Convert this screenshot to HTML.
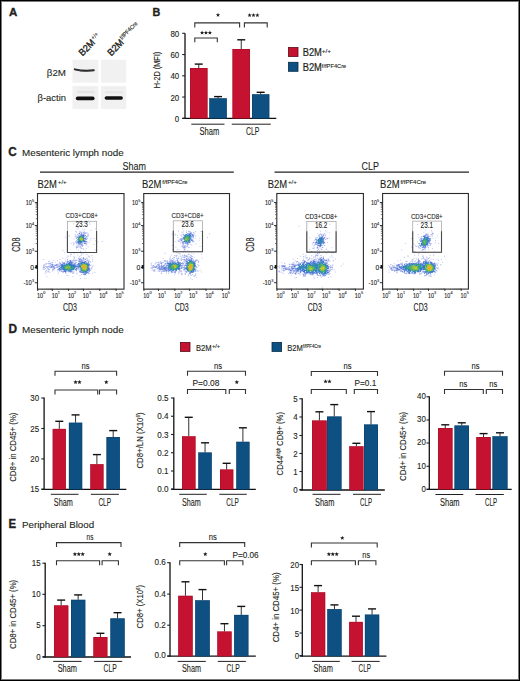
<!DOCTYPE html><html><head><meta charset="utf-8"><style>html,body{margin:0;padding:0;background:#fff;width:520px;height:681px;overflow:hidden}svg{display:block}</style></head><body><svg width="520" height="681" viewBox="0 0 520 681" font-family="Liberation Sans, sans-serif">
<rect x="0.00" y="0.00" width="520.00" height="681.00" fill="#fff"/>
<text x="9.00" y="16.00" font-size="11.5" text-anchor="start" font-weight="bold" fill="#231f20" stroke="#231f20" stroke-width="0.35">A</text>
<g transform="translate(82.4 56.5) rotate(-45)">
<text x="0.00" y="0.00" font-size="9.6" text-anchor="start" fill="#231f20" textLength="18.80" lengthAdjust="spacingAndGlyphs" stroke="#231f20" stroke-width="0.35">B2M</text>
<text x="19.30" y="-4.00" font-size="5.8" text-anchor="start" fill="#231f20" textLength="7.60" lengthAdjust="spacingAndGlyphs" stroke="#231f20" stroke-width="0.15">+/+</text>
</g>
<g transform="translate(111.2 56.4) rotate(-45)">
<text x="0.00" y="0.00" font-size="9.6" text-anchor="start" fill="#231f20" textLength="18.80" lengthAdjust="spacingAndGlyphs" stroke="#231f20" stroke-width="0.35">B2M</text>
<text x="19.30" y="-4.00" font-size="5.8" text-anchor="start" fill="#231f20" textLength="22.50" lengthAdjust="spacingAndGlyphs" stroke="#231f20" stroke-width="0.15">f/fPF4Cre</text>
</g>
<rect x="72.50" y="59.80" width="25.80" height="22.90" fill="#f1f1f1"/>
<rect x="72.50" y="85.90" width="25.80" height="23.10" fill="#f1f1f1"/>
<rect x="100.90" y="59.80" width="25.30" height="22.90" fill="#f1f1f1"/>
<rect x="100.90" y="85.90" width="25.30" height="23.10" fill="#f1f1f1"/>
<rect x="77.00" y="90.80" width="17.50" height="2.40" fill="#e4e4e4"/>
<rect x="78.00" y="87.40" width="16.00" height="1.40" fill="#eaeaea"/>
<rect x="105.00" y="91.20" width="18.00" height="2.00" fill="#e7e7e7"/>
<rect x="105.50" y="87.40" width="17.00" height="1.30" fill="#ebebeb"/>
<path d="M74.8 69.3 Q84 71.6 93.8 70.3" fill="none" stroke="#222" stroke-width="1.9" stroke-linecap="round"/>
<path d="M75.6 69.8 Q84 72.3 93.5 70.6" fill="none" stroke="#555" stroke-width="0.8" opacity="0.6"/>
<rect x="75.8" y="96.6" width="18.8" height="3.6" rx="1.8" fill="#111"/>
<rect x="104.6" y="96.2" width="18.3" height="3.6" rx="1.8" fill="#111"/>
<text x="66.00" y="75.50" font-size="9.7" text-anchor="end" fill="#231f20" textLength="19.20" lengthAdjust="spacingAndGlyphs" stroke="#231f20" stroke-width="0.1">β2M</text>
<text x="66.00" y="100.50" font-size="9.6" text-anchor="end" fill="#231f20" textLength="28.50" lengthAdjust="spacingAndGlyphs" stroke="#231f20" stroke-width="0.1">β-actin</text>
<text x="152.60" y="16.00" font-size="11.5" text-anchor="start" font-weight="bold" fill="#231f20" textLength="7.80" lengthAdjust="spacingAndGlyphs" stroke="#231f20" stroke-width="0.35">B</text>
<line x1="185.00" y1="33.30" x2="185.00" y2="118.90" stroke="#111" stroke-width="1.3"/>
<line x1="182.40" y1="118.30" x2="276.30" y2="118.30" stroke="#111" stroke-width="1.3"/>
<line x1="182.20" y1="118.30" x2="185.00" y2="118.30" stroke="#231f20" stroke-width="1.1"/>
<text x="179.20" y="121.75" font-size="8.6" text-anchor="end" fill="#231f20" textLength="4.40" lengthAdjust="spacingAndGlyphs" stroke="#231f20" stroke-width="0.12">0</text>
<line x1="182.20" y1="97.05" x2="185.00" y2="97.05" stroke="#231f20" stroke-width="1.1"/>
<text x="179.20" y="100.50" font-size="8.6" text-anchor="end" fill="#231f20" textLength="8.80" lengthAdjust="spacingAndGlyphs" stroke="#231f20" stroke-width="0.12">20</text>
<line x1="182.20" y1="75.80" x2="185.00" y2="75.80" stroke="#231f20" stroke-width="1.1"/>
<text x="179.20" y="79.25" font-size="8.6" text-anchor="end" fill="#231f20" textLength="8.80" lengthAdjust="spacingAndGlyphs" stroke="#231f20" stroke-width="0.12">40</text>
<line x1="182.20" y1="54.55" x2="185.00" y2="54.55" stroke="#231f20" stroke-width="1.1"/>
<text x="179.20" y="58.00" font-size="8.6" text-anchor="end" fill="#231f20" textLength="8.80" lengthAdjust="spacingAndGlyphs" stroke="#231f20" stroke-width="0.12">60</text>
<line x1="182.20" y1="33.30" x2="185.00" y2="33.30" stroke="#231f20" stroke-width="1.1"/>
<text x="179.20" y="36.75" font-size="8.6" text-anchor="end" fill="#231f20" textLength="8.80" lengthAdjust="spacingAndGlyphs" stroke="#231f20" stroke-width="0.12">80</text>
<rect x="190.00" y="68.00" width="17.50" height="50.30" fill="#c41230"/>
<line x1="198.75" y1="64.20" x2="198.75" y2="68.00" stroke="#333" stroke-width="1.0"/>
<line x1="194.75" y1="64.10" x2="202.75" y2="64.10" stroke="#111" stroke-width="1.4"/>
<rect x="190.30" y="68.30" width="16.90" height="50.00" fill="none" stroke="#9e0f27" stroke-width="0.6" opacity="0.7"/>
<rect x="209.30" y="98.30" width="17.50" height="20.00" fill="#0f5082"/>
<line x1="218.05" y1="96.70" x2="218.05" y2="98.30" stroke="#333" stroke-width="1.0"/>
<line x1="214.05" y1="96.60" x2="222.05" y2="96.60" stroke="#111" stroke-width="1.4"/>
<rect x="209.60" y="98.60" width="16.90" height="19.70" fill="none" stroke="#0a3d66" stroke-width="0.6" opacity="0.7"/>
<rect x="232.50" y="49.00" width="17.50" height="69.30" fill="#c41230"/>
<line x1="241.25" y1="39.90" x2="241.25" y2="49.00" stroke="#333" stroke-width="1.0"/>
<line x1="237.25" y1="39.80" x2="245.25" y2="39.80" stroke="#111" stroke-width="1.4"/>
<rect x="232.80" y="49.30" width="16.90" height="69.00" fill="none" stroke="#9e0f27" stroke-width="0.6" opacity="0.7"/>
<rect x="252.00" y="94.30" width="17.30" height="24.00" fill="#0f5082"/>
<line x1="260.65" y1="92.40" x2="260.65" y2="94.30" stroke="#333" stroke-width="1.0"/>
<line x1="256.65" y1="92.30" x2="264.65" y2="92.30" stroke="#111" stroke-width="1.4"/>
<rect x="252.30" y="94.60" width="16.70" height="23.70" fill="none" stroke="#0a3d66" stroke-width="0.6" opacity="0.7"/>
<line x1="191.30" y1="124.20" x2="224.50" y2="124.20" stroke="#231f20" stroke-width="1.0"/>
<text x="209.40" y="135.00" font-size="10" text-anchor="middle" fill="#231f20" textLength="19.80" lengthAdjust="spacingAndGlyphs" stroke="#231f20" stroke-width="0.12">Sham</text>
<line x1="231.80" y1="124.20" x2="270.80" y2="124.20" stroke="#231f20" stroke-width="1.0"/>
<text x="252.75" y="135.00" font-size="10" text-anchor="middle" fill="#231f20" textLength="13.50" lengthAdjust="spacingAndGlyphs" stroke="#231f20" stroke-width="0.12">CLP</text>
<text x="160.00" y="70.00" font-size="9.6" text-anchor="middle" fill="#231f20" textLength="36.50" lengthAdjust="spacingAndGlyphs" transform="rotate(-90 160.00 70.00)" stroke="#231f20" stroke-width="0.12">H-2D (MFI)</text>
<path d="M194.80 42.30V38.00H217.30V42.30" fill="none" stroke="#333" stroke-width="1.1"/>
<path d="M194.80 27.50V22.90H239.60V27.50" fill="none" stroke="#333" stroke-width="1.1"/>
<path d="M244.40 27.50V22.90H267.20V27.50" fill="none" stroke="#333" stroke-width="1.1"/>
<polygon points="202.10,30.60 202.68,32.00 204.19,32.12 203.04,33.11 203.39,34.58 202.10,33.79 200.81,34.58 201.16,33.11 200.01,32.12 201.52,32.00" fill="#231f20"/>
<polygon points="206.00,30.60 206.58,32.00 208.09,32.12 206.94,33.11 207.29,34.58 206.00,33.79 204.71,34.58 205.06,33.11 203.91,32.12 205.42,32.00" fill="#231f20"/>
<polygon points="209.90,30.60 210.48,32.00 211.99,32.12 210.84,33.11 211.19,34.58 209.90,33.79 208.61,34.58 208.96,33.11 207.81,32.12 209.32,32.00" fill="#231f20"/>
<polygon points="218.00,12.80 218.58,14.20 220.09,14.32 218.94,15.31 219.29,16.78 218.00,15.99 216.71,16.78 217.06,15.31 215.91,14.32 217.42,14.20" fill="#231f20"/>
<polygon points="249.60,13.10 250.18,14.50 251.69,14.62 250.54,15.61 250.89,17.08 249.60,16.29 248.31,17.08 248.66,15.61 247.51,14.62 249.02,14.50" fill="#231f20"/>
<polygon points="253.50,13.10 254.08,14.50 255.59,14.62 254.44,15.61 254.79,17.08 253.50,16.29 252.21,17.08 252.56,15.61 251.41,14.62 252.92,14.50" fill="#231f20"/>
<polygon points="257.40,13.10 257.98,14.50 259.49,14.62 258.34,15.61 258.69,17.08 257.40,16.29 256.11,17.08 256.46,15.61 255.31,14.62 256.82,14.50" fill="#231f20"/>
<rect x="288.50" y="47.50" width="9.50" height="9.00" fill="#c41230" stroke="#5a0a14" stroke-width="0.8"/>
<rect x="288.50" y="62.30" width="9.50" height="9.00" fill="#0f5082" stroke="#072a45" stroke-width="0.8"/>
<text x="302.70" y="56.30" font-size="10.2" text-anchor="start" fill="#231f20" textLength="19.20" lengthAdjust="spacingAndGlyphs" stroke="#231f20" stroke-width="0.2">B2M</text>
<text x="321.80" y="52.90" font-size="5.8" text-anchor="start" fill="#231f20" textLength="9.20" lengthAdjust="spacingAndGlyphs" stroke="#231f20" stroke-width="0.12">+/+</text>
<text x="302.70" y="70.60" font-size="10.2" text-anchor="start" fill="#231f20" textLength="19.20" lengthAdjust="spacingAndGlyphs" stroke="#231f20" stroke-width="0.2">B2M</text>
<text x="321.80" y="67.50" font-size="5.8" text-anchor="start" fill="#231f20" textLength="24.50" lengthAdjust="spacingAndGlyphs" stroke="#231f20" stroke-width="0.12">f/fPF4Cre</text>
<text x="8.30" y="155.70" font-size="12.6" text-anchor="start" font-weight="bold" fill="#231f20" textLength="8.50" lengthAdjust="spacingAndGlyphs" stroke="#231f20" stroke-width="0.35">C</text>
<text x="22.00" y="155.50" font-size="9.9" text-anchor="start" fill="#231f20" textLength="101.70" lengthAdjust="spacingAndGlyphs" stroke="#231f20" stroke-width="0.12">Mesenteric lymph node</text>
<line x1="40.00" y1="172.10" x2="233.80" y2="172.10" stroke="#222" stroke-width="1.1"/>
<line x1="274.50" y1="172.10" x2="469.00" y2="172.10" stroke="#222" stroke-width="1.1"/>
<text x="134.20" y="170.00" font-size="10" text-anchor="middle" fill="#231f20" textLength="23.50" lengthAdjust="spacingAndGlyphs" stroke="#231f20" stroke-width="0.1">Sham</text>
<text x="370.20" y="170.20" font-size="10" text-anchor="middle" fill="#231f20" textLength="17.40" lengthAdjust="spacingAndGlyphs" stroke="#231f20" stroke-width="0.1">CLP</text>
<text x="37.50" y="188.20" font-size="10.5" text-anchor="start" fill="#231f20" textLength="19.40" lengthAdjust="spacingAndGlyphs" stroke="#231f20" stroke-width="0.12">B2M</text>
<text x="57.80" y="184.40" font-size="5.6" text-anchor="start" fill="#231f20" textLength="8.90" lengthAdjust="spacingAndGlyphs" stroke="#231f20" stroke-width="0.12">+/+</text>
<text x="142.00" y="188.20" font-size="10.5" text-anchor="start" fill="#231f20" textLength="19.40" lengthAdjust="spacingAndGlyphs" stroke="#231f20" stroke-width="0.12">B2M</text>
<text x="162.30" y="184.40" font-size="5.6" text-anchor="start" fill="#231f20" textLength="25.30" lengthAdjust="spacingAndGlyphs" stroke="#231f20" stroke-width="0.12">f/fPF4Cre</text>
<text x="267.70" y="188.20" font-size="10.5" text-anchor="start" fill="#231f20" textLength="19.40" lengthAdjust="spacingAndGlyphs" stroke="#231f20" stroke-width="0.12">B2M</text>
<text x="288.00" y="184.40" font-size="5.6" text-anchor="start" fill="#231f20" textLength="8.90" lengthAdjust="spacingAndGlyphs" stroke="#231f20" stroke-width="0.12">+/+</text>
<text x="380.10" y="188.20" font-size="10.5" text-anchor="start" fill="#231f20" textLength="19.40" lengthAdjust="spacingAndGlyphs" stroke="#231f20" stroke-width="0.12">B2M</text>
<text x="400.40" y="184.40" font-size="5.6" text-anchor="start" fill="#231f20" textLength="25.80" lengthAdjust="spacingAndGlyphs" stroke="#231f20" stroke-width="0.12">f/fPF4Cre</text>
<rect x="37.50" y="193.55" width="86.50" height="95.60" fill="#fff" stroke="#2a2a2a" stroke-width="1.1"/>
<line x1="34.80" y1="202.60" x2="37.50" y2="202.60" stroke="#2a2a2a" stroke-width="1.0"/>
<text x="31.80" y="204.90" font-size="6.6" text-anchor="end" fill="#222" textLength="6.00" lengthAdjust="spacingAndGlyphs" stroke="#222" stroke-width="0.12">10</text>
<text x="32.00" y="202.20" font-size="3.8" text-anchor="start" fill="#333" stroke="#333" stroke-width="0.12">5</text>
<line x1="34.80" y1="225.60" x2="37.50" y2="225.60" stroke="#2a2a2a" stroke-width="1.0"/>
<text x="31.80" y="227.90" font-size="6.6" text-anchor="end" fill="#222" textLength="6.00" lengthAdjust="spacingAndGlyphs" stroke="#222" stroke-width="0.12">10</text>
<text x="32.00" y="225.20" font-size="3.8" text-anchor="start" fill="#333" stroke="#333" stroke-width="0.12">4</text>
<line x1="34.80" y1="251.25" x2="37.50" y2="251.25" stroke="#2a2a2a" stroke-width="1.0"/>
<text x="31.80" y="253.55" font-size="6.6" text-anchor="end" fill="#222" textLength="6.00" lengthAdjust="spacingAndGlyphs" stroke="#222" stroke-width="0.12">10</text>
<text x="32.00" y="250.85" font-size="3.8" text-anchor="start" fill="#333" stroke="#333" stroke-width="0.12">3</text>
<line x1="34.80" y1="267.50" x2="37.50" y2="267.50" stroke="#2a2a2a" stroke-width="1.0"/>
<text x="34.10" y="269.80" font-size="6.8" text-anchor="end" fill="#222" stroke="#222" stroke-width="0.12">0</text>
<rect x="35.40" y="265.10" width="2.00" height="3.60" fill="#111"/>
<line x1="34.80" y1="282.75" x2="37.50" y2="282.75" stroke="#2a2a2a" stroke-width="1.0"/>
<text x="31.80" y="285.05" font-size="6.6" text-anchor="end" fill="#222" textLength="8.40" lengthAdjust="spacingAndGlyphs" stroke="#222" stroke-width="0.12">-10</text>
<text x="32.00" y="282.35" font-size="3.8" text-anchor="start" fill="#333" stroke="#333" stroke-width="0.12">3</text>
<line x1="35.70" y1="218.68" x2="37.50" y2="218.68" stroke="#444" stroke-width="0.7"/>
<line x1="35.70" y1="214.63" x2="37.50" y2="214.63" stroke="#444" stroke-width="0.7"/>
<line x1="35.70" y1="211.75" x2="37.50" y2="211.75" stroke="#444" stroke-width="0.7"/>
<line x1="35.70" y1="209.52" x2="37.50" y2="209.52" stroke="#444" stroke-width="0.7"/>
<line x1="35.70" y1="207.70" x2="37.50" y2="207.70" stroke="#444" stroke-width="0.7"/>
<line x1="35.70" y1="206.16" x2="37.50" y2="206.16" stroke="#444" stroke-width="0.7"/>
<line x1="35.70" y1="204.83" x2="37.50" y2="204.83" stroke="#444" stroke-width="0.7"/>
<line x1="35.70" y1="203.65" x2="37.50" y2="203.65" stroke="#444" stroke-width="0.7"/>
<line x1="35.70" y1="243.53" x2="37.50" y2="243.53" stroke="#444" stroke-width="0.7"/>
<line x1="35.70" y1="239.01" x2="37.50" y2="239.01" stroke="#444" stroke-width="0.7"/>
<line x1="35.70" y1="235.81" x2="37.50" y2="235.81" stroke="#444" stroke-width="0.7"/>
<line x1="35.70" y1="233.32" x2="37.50" y2="233.32" stroke="#444" stroke-width="0.7"/>
<line x1="35.70" y1="231.29" x2="37.50" y2="231.29" stroke="#444" stroke-width="0.7"/>
<line x1="35.70" y1="229.57" x2="37.50" y2="229.57" stroke="#444" stroke-width="0.7"/>
<line x1="35.70" y1="228.09" x2="37.50" y2="228.09" stroke="#444" stroke-width="0.7"/>
<line x1="35.70" y1="226.77" x2="37.50" y2="226.77" stroke="#444" stroke-width="0.7"/>
<line x1="37.70" y1="288.75" x2="37.70" y2="290.95" stroke="#2a2a2a" stroke-width="1.0"/>
<text x="37.10" y="297.55" font-size="6.6" text-anchor="start" fill="#222" textLength="6.00" lengthAdjust="spacingAndGlyphs" stroke="#222" stroke-width="0.12">10</text>
<text x="43.20" y="294.35" font-size="3.8" text-anchor="start" fill="#333" stroke="#333" stroke-width="0.12">0</text>
<line x1="42.10" y1="288.75" x2="42.10" y2="290.05" stroke="#555" stroke-width="0.6"/>
<line x1="44.67" y1="288.75" x2="44.67" y2="290.05" stroke="#555" stroke-width="0.6"/>
<line x1="46.49" y1="288.75" x2="46.49" y2="290.05" stroke="#555" stroke-width="0.6"/>
<line x1="47.90" y1="288.75" x2="47.90" y2="290.05" stroke="#555" stroke-width="0.6"/>
<line x1="49.06" y1="288.75" x2="49.06" y2="290.05" stroke="#555" stroke-width="0.6"/>
<line x1="50.04" y1="288.75" x2="50.04" y2="290.05" stroke="#555" stroke-width="0.6"/>
<line x1="50.89" y1="288.75" x2="50.89" y2="290.05" stroke="#555" stroke-width="0.6"/>
<line x1="51.63" y1="288.75" x2="51.63" y2="290.05" stroke="#555" stroke-width="0.6"/>
<line x1="52.30" y1="288.75" x2="52.30" y2="290.95" stroke="#2a2a2a" stroke-width="1.0"/>
<text x="51.70" y="297.55" font-size="6.6" text-anchor="start" fill="#222" textLength="6.00" lengthAdjust="spacingAndGlyphs" stroke="#222" stroke-width="0.12">10</text>
<text x="57.80" y="294.35" font-size="3.8" text-anchor="start" fill="#333" stroke="#333" stroke-width="0.12">1</text>
<line x1="57.21" y1="288.75" x2="57.21" y2="290.05" stroke="#555" stroke-width="0.6"/>
<line x1="60.08" y1="288.75" x2="60.08" y2="290.05" stroke="#555" stroke-width="0.6"/>
<line x1="62.11" y1="288.75" x2="62.11" y2="290.05" stroke="#555" stroke-width="0.6"/>
<line x1="63.69" y1="288.75" x2="63.69" y2="290.05" stroke="#555" stroke-width="0.6"/>
<line x1="64.98" y1="288.75" x2="64.98" y2="290.05" stroke="#555" stroke-width="0.6"/>
<line x1="66.08" y1="288.75" x2="66.08" y2="290.05" stroke="#555" stroke-width="0.6"/>
<line x1="67.02" y1="288.75" x2="67.02" y2="290.05" stroke="#555" stroke-width="0.6"/>
<line x1="67.85" y1="288.75" x2="67.85" y2="290.05" stroke="#555" stroke-width="0.6"/>
<line x1="68.60" y1="288.75" x2="68.60" y2="290.95" stroke="#2a2a2a" stroke-width="1.0"/>
<text x="68.00" y="297.55" font-size="6.6" text-anchor="start" fill="#222" textLength="6.00" lengthAdjust="spacingAndGlyphs" stroke="#222" stroke-width="0.12">10</text>
<text x="74.10" y="294.35" font-size="3.8" text-anchor="start" fill="#333" stroke="#333" stroke-width="0.12">2</text>
<line x1="73.06" y1="288.75" x2="73.06" y2="290.05" stroke="#555" stroke-width="0.6"/>
<line x1="75.66" y1="288.75" x2="75.66" y2="290.05" stroke="#555" stroke-width="0.6"/>
<line x1="77.51" y1="288.75" x2="77.51" y2="290.05" stroke="#555" stroke-width="0.6"/>
<line x1="78.94" y1="288.75" x2="78.94" y2="290.05" stroke="#555" stroke-width="0.6"/>
<line x1="80.12" y1="288.75" x2="80.12" y2="290.05" stroke="#555" stroke-width="0.6"/>
<line x1="81.11" y1="288.75" x2="81.11" y2="290.05" stroke="#555" stroke-width="0.6"/>
<line x1="81.97" y1="288.75" x2="81.97" y2="290.05" stroke="#555" stroke-width="0.6"/>
<line x1="82.72" y1="288.75" x2="82.72" y2="290.05" stroke="#555" stroke-width="0.6"/>
<line x1="83.40" y1="288.75" x2="83.40" y2="290.95" stroke="#2a2a2a" stroke-width="1.0"/>
<text x="82.80" y="297.55" font-size="6.6" text-anchor="start" fill="#222" textLength="6.00" lengthAdjust="spacingAndGlyphs" stroke="#222" stroke-width="0.12">10</text>
<text x="88.90" y="294.35" font-size="3.8" text-anchor="start" fill="#333" stroke="#333" stroke-width="0.12">3</text>
<line x1="88.34" y1="288.75" x2="88.34" y2="290.05" stroke="#555" stroke-width="0.6"/>
<line x1="91.22" y1="288.75" x2="91.22" y2="290.05" stroke="#555" stroke-width="0.6"/>
<line x1="93.27" y1="288.75" x2="93.27" y2="290.05" stroke="#555" stroke-width="0.6"/>
<line x1="94.86" y1="288.75" x2="94.86" y2="290.05" stroke="#555" stroke-width="0.6"/>
<line x1="96.16" y1="288.75" x2="96.16" y2="290.05" stroke="#555" stroke-width="0.6"/>
<line x1="97.26" y1="288.75" x2="97.26" y2="290.05" stroke="#555" stroke-width="0.6"/>
<line x1="98.21" y1="288.75" x2="98.21" y2="290.05" stroke="#555" stroke-width="0.6"/>
<line x1="99.05" y1="288.75" x2="99.05" y2="290.05" stroke="#555" stroke-width="0.6"/>
<line x1="99.80" y1="288.75" x2="99.80" y2="290.95" stroke="#2a2a2a" stroke-width="1.0"/>
<text x="99.20" y="297.55" font-size="6.6" text-anchor="start" fill="#222" textLength="6.00" lengthAdjust="spacingAndGlyphs" stroke="#222" stroke-width="0.12">10</text>
<text x="105.30" y="294.35" font-size="3.8" text-anchor="start" fill="#333" stroke="#333" stroke-width="0.12">4</text>
<line x1="104.71" y1="288.75" x2="104.71" y2="290.05" stroke="#555" stroke-width="0.6"/>
<line x1="107.58" y1="288.75" x2="107.58" y2="290.05" stroke="#555" stroke-width="0.6"/>
<line x1="109.61" y1="288.75" x2="109.61" y2="290.05" stroke="#555" stroke-width="0.6"/>
<line x1="111.19" y1="288.75" x2="111.19" y2="290.05" stroke="#555" stroke-width="0.6"/>
<line x1="112.48" y1="288.75" x2="112.48" y2="290.05" stroke="#555" stroke-width="0.6"/>
<line x1="113.58" y1="288.75" x2="113.58" y2="290.05" stroke="#555" stroke-width="0.6"/>
<line x1="114.52" y1="288.75" x2="114.52" y2="290.05" stroke="#555" stroke-width="0.6"/>
<line x1="115.35" y1="288.75" x2="115.35" y2="290.05" stroke="#555" stroke-width="0.6"/>
<line x1="116.10" y1="288.75" x2="116.10" y2="290.95" stroke="#2a2a2a" stroke-width="1.0"/>
<text x="115.50" y="297.55" font-size="6.6" text-anchor="start" fill="#222" textLength="6.00" lengthAdjust="spacingAndGlyphs" stroke="#222" stroke-width="0.12">10</text>
<text x="121.60" y="294.35" font-size="3.8" text-anchor="start" fill="#333" stroke="#333" stroke-width="0.12">5</text>
<text x="70.00" y="311.35" font-size="10.3" text-anchor="middle" fill="#222" textLength="14.00" lengthAdjust="spacingAndGlyphs" stroke="#222" stroke-width="0.12">CD3</text>
<text x="20.00" y="244.75" font-size="10.8" text-anchor="middle" fill="#222" textLength="14.20" lengthAdjust="spacingAndGlyphs" transform="rotate(-90 20.00 244.75)" stroke="#222" stroke-width="0.12">CD8</text>
<path d="M80.1 278.0h1v1h-1zM77.4 222.7h1v1h-1zM42.7 258.9h1v1h-1zM94.9 228.5h1v1h-1zM62.3 250.3h1v1h-1zM62.3 257.7h1v1h-1zM64.9 236.7h1v1h-1zM92.1 260.8h1v1h-1zM101.8 240.9h1v1h-1zM94.7 249.3h1v1h-1zM63.9 252.4h1v1h-1zM73.2 223.3h1v1h-1zM95.2 240.2h1v1h-1zM72.3 276.1h1v1h-1zM89.2 223.7h1v1h-1zM93.7 238.1h1v1h-1zM92.2 272.8h1v1h-1zM92.1 259.3h1v1h-1zM92.2 257.6h1v1h-1zM88.7 241.9h1v1h-1zM91.5 254.9h1v1h-1zM97.4 241.4h1v1h-1zM83.6 222.6h1v1h-1zM93.5 243.9h1v1h-1zM79.8 225.8h1v1h-1zM90.5 229.8h1v1h-1zM77.4 254.5h1v1h-1zM87.6 246.3h1v1h-1zM59.6 259.1h1v1h-1zM84.8 250.4h1v1h-1zM84.4 278.1h1v1h-1zM57.0 260.1h1v1h-1zM46.4 276.3h1v1h-1zM85.8 248.1h1v1h-1zM66.2 274.9h1v1h-1zM52.6 260.0h1v1h-1zM90.5 237.8h1v1h-1zM70.6 243.0h1v1h-1zM67.4 274.9h1v1h-1zM70.0 253.4h1v1h-1zM86.2 223.0h1v1h-1zM88.9 222.2h1v1h-1zM94.4 272.0h1v1h-1zM73.3 252.4h1v1h-1zM68.7 235.8h1v1h-1zM71.0 254.0h1v1h-1zM57.6 273.4h1v1h-1zM78.1 228.5h1v1h-1zM79.9 251.7h1v1h-1zM82.8 253.6h1v1h-1zM80.3 252.6h1v1h-1zM84.2 228.9h1v1h-1zM66.2 257.2h1v1h-1zM86.3 254.1h1v1h-1zM54.7 261.7h1v1h-1zM77.9 249.5h1v1h-1zM76.4 228.3h1v1h-1zM49.2 271.9h1v1h-1zM73.3 256.1h1v1h-1zM89.8 239.4h1v1h-1zM68.6 235.2h1v1h-1zM80.6 255.0h1v1h-1zM82.5 229.6h1v1h-1zM76.3 273.5h1v1h-1zM73.8 252.7h1v1h-1zM72.7 242.3h1v1h-1zM73.3 238.4h1v1h-1zM81.1 248.0h1v1h-1zM44.8 273.3h1v1h-1zM45.5 271.9h1v1h-1zM67.1 255.4h1v1h-1zM85.6 244.8h1v1h-1zM88.7 259.5h1v1h-1zM92.5 265.3h1v1h-1zM68.7 235.6h1v1h-1zM79.4 275.3h1v1h-1zM48.5 261.2h1v1h-1zM75.9 248.2h1v1h-1zM80.0 250.7h1v1h-1zM83.1 248.9h1v1h-1zM67.8 255.7h1v1h-1zM76.5 272.6h1v1h-1zM58.0 271.8h1v1h-1zM86.9 232.4h1v1h-1zM89.0 273.0h1v1h-1zM70.0 255.4h1v1h-1zM73.7 243.2h1v1h-1zM81.0 253.6h1v1h-1zM64.8 259.4h1v1h-1zM88.7 256.7h1v1h-1zM88.7 255.7h1v1h-1zM87.7 255.5h1v1h-1zM87.1 241.6h1v1h-1zM86.3 257.6h1v1h-1zM91.7 266.2h1v1h-1zM75.8 232.2h1v1h-1zM42.6 269.1h1v1h-1zM74.6 234.0h1v1h-1zM88.1 235.5h1v1h-1zM82.6 247.9h1v1h-1zM75.5 246.6h1v1h-1zM45.8 263.6h1v1h-1zM74.0 257.0h1v1h-1zM90.2 261.9h1v1h-1zM90.6 264.5h1v1h-1zM79.2 256.1h1v1h-1zM81.1 274.0h1v1h-1zM61.6 261.1h1v1h-1zM48.5 269.6h1v1h-1zM87.0 237.9h1v1h-1zM50.5 261.7h1v1h-1zM73.2 243.2h1v1h-1zM72.9 259.6h1v1h-1z" fill="rgb(138, 154, 231)" opacity="0.55"/>
<path d="M45.2 270.9h1v1h-1zM82.0 245.8h1v1h-1zM79.0 231.5h1v1h-1zM87.6 233.8h1v1h-1zM46.1 269.9h1v1h-1zM91.6 267.3h1v1h-1zM45.4 263.2h1v1h-1zM59.1 261.7h1v1h-1zM81.5 231.7h1v1h-1zM77.5 227.0h1v1h-1zM91.0 268.6h1v1h-1zM77.2 246.9h1v1h-1zM47.5 271.3h1v1h-1zM51.9 270.5h1v1h-1zM67.1 259.0h1v1h-1zM43.4 264.6h1v1h-1zM72.9 272.7h1v1h-1zM87.1 235.5h1v1h-1zM46.9 268.4h1v1h-1zM88.1 273.2h1v1h-1zM67.0 259.5h1v1h-1zM73.6 257.7h1v1h-1zM90.1 270.0h1v1h-1zM75.4 231.1h1v1h-1zM73.3 244.5h1v1h-1zM77.6 245.9h1v1h-1zM48.1 269.0h1v1h-1zM85.4 231.9h1v1h-1zM84.1 231.6h1v1h-1zM74.8 235.8h1v1h-1zM44.3 264.2h1v1h-1zM51.5 263.6h1v1h-1zM86.7 258.5h1v1h-1zM52.0 268.8h1v1h-1zM43.7 268.9h1v1h-1zM80.8 257.4h1v1h-1zM80.1 231.4h1v1h-1zM83.0 257.0h1v1h-1zM44.9 268.1h1v1h-1zM74.5 259.5h1v1h-1zM91.5 267.2h1v1h-1zM80.9 247.5h1v1h-1zM76.1 247.1h1v1h-1zM73.5 259.7h1v1h-1zM75.5 260.0h1v1h-1zM47.4 263.0h1v1h-1zM80.4 232.1h1v1h-1zM72.4 272.6h1v1h-1zM79.7 247.2h1v1h-1zM48.5 260.8h1v1h-1zM77.9 258.6h1v1h-1zM84.8 233.3h1v1h-1zM47.4 271.3h1v1h-1zM89.4 261.1h1v1h-1zM82.4 245.1h1v1h-1zM86.2 243.4h1v1h-1zM75.5 236.7h1v1h-1zM43.2 266.5h1v1h-1zM48.5 263.6h1v1h-1zM51.9 262.0h1v1h-1zM50.3 263.5h1v1h-1zM78.4 257.6h1v1h-1zM74.7 235.4h1v1h-1zM57.2 267.0h1v1h-1zM76.0 243.2h1v1h-1zM73.7 260.6h1v1h-1zM76.4 245.7h1v1h-1zM53.5 269.3h1v1h-1zM83.7 231.4h1v1h-1zM65.5 272.7h1v1h-1zM54.4 268.0h1v1h-1zM72.1 272.5h1v1h-1zM88.3 260.4h1v1h-1zM86.5 236.8h1v1h-1zM87.7 234.3h1v1h-1zM49.3 268.8h1v1h-1zM53.4 269.4h1v1h-1zM86.3 235.9h1v1h-1zM76.4 259.7h1v1h-1zM86.0 239.0h1v1h-1zM75.9 238.1h1v1h-1zM48.3 266.1h1v1h-1zM60.7 271.0h1v1h-1zM43.2 267.2h1v1h-1zM49.4 266.9h1v1h-1zM77.0 233.7h1v1h-1zM85.8 236.2h1v1h-1zM46.5 266.6h1v1h-1zM52.5 269.2h1v1h-1zM75.3 260.4h1v1h-1zM87.0 259.8h1v1h-1zM75.3 262.1h1v1h-1zM57.2 270.2h1v1h-1zM52.6 268.5h1v1h-1zM79.3 246.3h1v1h-1zM48.3 270.7h1v1h-1zM76.1 270.2h1v1h-1zM48.7 263.1h1v1h-1zM62.2 262.1h1v1h-1zM46.3 266.2h1v1h-1zM88.0 261.5h1v1h-1zM71.1 260.7h1v1h-1zM54.7 264.7h1v1h-1zM85.3 258.4h1v1h-1zM75.0 241.4h1v1h-1zM65.4 260.9h1v1h-1zM86.0 260.4h1v1h-1zM65.3 272.0h1v1h-1zM43.3 265.8h1v1h-1zM81.1 245.1h1v1h-1zM46.4 266.2h1v1h-1zM70.3 260.2h1v1h-1zM79.9 245.9h1v1h-1zM80.1 243.8h1v1h-1zM80.5 245.4h1v1h-1zM79.6 258.3h1v1h-1zM42.7 267.5h1v1h-1zM62.0 271.5h1v1h-1zM89.1 264.5h1v1h-1zM83.4 258.7h1v1h-1zM84.4 243.0h1v1h-1zM82.6 258.3h1v1h-1zM59.3 270.3h1v1h-1zM85.3 233.0h1v1h-1zM75.9 262.0h1v1h-1zM57.6 263.4h1v1h-1zM59.3 270.1h1v1h-1zM81.4 245.1h1v1h-1zM44.0 266.8h1v1h-1zM81.4 233.1h1v1h-1zM65.5 260.9h1v1h-1zM75.3 269.6h1v1h-1zM45.1 265.8h1v1h-1zM77.3 244.6h1v1h-1zM81.1 244.0h1v1h-1zM74.9 241.6h1v1h-1zM50.7 266.8h1v1h-1zM75.6 240.9h1v1h-1zM76.2 235.8h1v1h-1zM73.8 262.5h1v1h-1zM87.3 260.6h1v1h-1zM83.1 232.0h1v1h-1zM62.1 271.0h1v1h-1zM79.0 259.3h1v1h-1zM75.0 263.5h1v1h-1zM76.1 269.1h1v1h-1zM76.2 269.7h1v1h-1zM78.5 233.7h1v1h-1zM43.4 265.6h1v1h-1zM55.7 267.0h1v1h-1zM61.2 270.9h1v1h-1zM60.1 262.6h1v1h-1zM48.7 265.3h1v1h-1zM73.4 262.5h1v1h-1zM72.5 260.7h1v1h-1zM88.2 263.1h1v1h-1zM60.8 263.4h1v1h-1zM75.9 242.0h1v1h-1zM43.8 267.0h1v1h-1zM47.8 267.7h1v1h-1zM71.7 259.9h1v1h-1zM47.4 266.4h1v1h-1zM73.7 271.6h1v1h-1zM54.4 267.4h1v1h-1zM78.3 258.6h1v1h-1zM75.5 241.6h1v1h-1zM53.5 264.5h1v1h-1zM49.7 263.1h1v1h-1zM83.5 258.1h1v1h-1zM56.6 266.5h1v1h-1zM78.7 233.0h1v1h-1zM83.9 274.3h1v1h-1zM53.1 264.5h1v1h-1zM82.4 258.3h1v1h-1zM85.8 241.1h1v1h-1zM83.0 274.1h1v1h-1zM56.0 264.0h1v1h-1zM54.2 265.5h1v1h-1zM70.5 271.9h1v1h-1zM49.2 265.7h1v1h-1zM82.3 243.6h1v1h-1z" fill="rgb(112, 133, 224)" opacity="0.64"/>
<path d="M85.5 241.2h1v1h-1zM57.4 266.6h1v1h-1zM86.3 273.1h1v1h-1zM83.4 232.7h1v1h-1zM59.2 263.4h1v1h-1zM75.7 269.6h1v1h-1zM77.7 235.4h1v1h-1zM53.1 265.7h1v1h-1zM78.2 260.6h1v1h-1zM82.2 260.3h1v1h-1zM54.0 267.7h1v1h-1zM81.2 259.4h1v1h-1zM79.6 270.9h1v1h-1zM63.1 271.4h1v1h-1zM57.4 269.1h1v1h-1zM56.1 265.3h1v1h-1zM79.0 233.1h1v1h-1zM77.5 235.5h1v1h-1zM52.6 266.6h1v1h-1zM88.5 270.5h1v1h-1zM81.4 259.7h1v1h-1zM79.8 258.7h1v1h-1zM80.6 233.6h1v1h-1zM78.8 268.6h1v1h-1zM87.1 271.9h1v1h-1zM89.4 265.1h1v1h-1zM76.5 267.7h1v1h-1zM85.6 243.3h1v1h-1zM57.1 264.4h1v1h-1zM84.7 243.0h1v1h-1zM78.5 263.0h1v1h-1zM79.2 271.6h1v1h-1zM84.8 259.0h1v1h-1zM85.0 241.4h1v1h-1zM83.0 257.8h1v1h-1zM60.5 269.7h1v1h-1zM59.8 263.3h1v1h-1zM88.0 271.8h1v1h-1zM51.2 265.7h1v1h-1zM80.9 259.2h1v1h-1zM89.3 268.6h1v1h-1zM85.2 238.1h1v1h-1zM59.1 270.3h1v1h-1zM80.5 271.9h1v1h-1zM68.2 261.1h1v1h-1zM60.1 269.3h1v1h-1zM56.4 264.5h1v1h-1zM77.2 268.2h1v1h-1zM77.3 263.7h1v1h-1zM81.7 243.7h1v1h-1zM84.6 243.0h1v1h-1zM58.0 269.1h1v1h-1zM57.4 264.3h1v1h-1zM78.5 244.4h1v1h-1zM70.9 261.5h1v1h-1zM85.0 273.6h1v1h-1zM83.9 232.8h1v1h-1zM59.4 263.6h1v1h-1zM80.4 259.1h1v1h-1zM75.1 263.2h1v1h-1zM82.6 234.6h1v1h-1zM85.6 240.9h1v1h-1zM50.7 266.3h1v1h-1zM51.2 266.7h1v1h-1zM56.1 265.0h1v1h-1zM58.4 266.0h1v1h-1zM54.8 264.8h1v1h-1zM70.0 260.1h1v1h-1zM85.4 238.8h1v1h-1zM70.0 271.0h1v1h-1zM54.9 264.8h1v1h-1zM80.5 243.5h1v1h-1zM84.8 274.2h1v1h-1zM77.3 242.1h1v1h-1zM53.4 267.8h1v1h-1zM53.8 267.2h1v1h-1zM50.7 266.5h1v1h-1zM79.8 260.4h1v1h-1zM76.8 236.9h1v1h-1zM83.6 234.4h1v1h-1zM81.8 271.8h1v1h-1zM82.5 234.2h1v1h-1zM78.5 269.8h1v1h-1zM81.1 233.5h1v1h-1zM85.1 261.4h1v1h-1zM46.5 266.7h1v1h-1zM88.3 269.8h1v1h-1zM67.4 262.6h1v1h-1zM79.1 270.9h1v1h-1zM89.5 268.6h1v1h-1zM78.0 262.7h1v1h-1zM84.3 273.3h1v1h-1zM84.3 235.5h1v1h-1zM50.2 266.7h1v1h-1zM84.2 273.4h1v1h-1zM72.4 262.1h1v1h-1zM83.5 242.2h1v1h-1zM84.9 235.0h1v1h-1zM88.8 267.7h1v1h-1zM65.1 271.4h1v1h-1zM79.0 259.3h1v1h-1zM88.9 271.1h1v1h-1zM62.8 262.8h1v1h-1zM84.5 235.0h1v1h-1zM88.1 270.2h1v1h-1zM50.2 264.7h1v1h-1zM67.0 261.0h1v1h-1zM51.9 265.0h1v1h-1zM85.0 238.8h1v1h-1zM88.9 269.1h1v1h-1zM51.2 266.0h1v1h-1zM55.3 265.1h1v1h-1zM58.8 265.3h1v1h-1zM84.0 243.0h1v1h-1zM62.6 262.6h1v1h-1zM72.3 271.2h1v1h-1zM69.4 259.9h1v1h-1zM64.6 271.0h1v1h-1zM85.6 272.9h1v1h-1zM58.1 268.9h1v1h-1zM76.7 237.2h1v1h-1zM78.9 260.9h1v1h-1zM51.9 264.2h1v1h-1zM78.6 244.5h1v1h-1zM74.9 269.1h1v1h-1zM84.4 241.1h1v1h-1zM78.4 242.1h1v1h-1zM75.6 268.3h1v1h-1zM85.4 237.8h1v1h-1zM80.3 271.7h1v1h-1zM51.1 266.1h1v1h-1zM58.7 265.8h1v1h-1zM78.4 261.1h1v1h-1zM80.3 234.3h1v1h-1zM78.4 243.1h1v1h-1zM62.8 270.6h1v1h-1zM68.8 261.7h1v1h-1zM88.7 263.8h1v1h-1zM76.6 264.1h1v1h-1zM76.2 239.8h1v1h-1zM70.9 270.9h1v1h-1zM77.1 263.7h1v1h-1zM66.4 262.6h1v1h-1zM80.7 260.3h1v1h-1zM70.3 262.1h1v1h-1zM81.7 261.0h1v1h-1zM88.3 263.3h1v1h-1zM71.4 261.5h1v1h-1zM88.4 263.3h1v1h-1zM84.2 261.1h1v1h-1zM82.8 273.2h1v1h-1zM84.1 241.1h1v1h-1zM88.1 265.1h1v1h-1zM58.7 268.7h1v1h-1zM83.4 259.8h1v1h-1zM51.7 266.1h1v1h-1zM88.3 266.8h1v1h-1zM79.6 234.5h1v1h-1zM62.0 263.7h1v1h-1zM66.9 270.4h1v1h-1zM79.4 243.6h1v1h-1zM83.7 241.6h1v1h-1zM63.9 262.3h1v1h-1zM79.4 262.2h1v1h-1zM79.1 260.8h1v1h-1zM78.3 243.1h1v1h-1zM69.6 261.4h1v1h-1zM77.9 243.3h1v1h-1zM58.4 265.4h1v1h-1zM60.9 265.5h1v1h-1zM60.3 269.0h1v1h-1zM78.7 236.3h1v1h-1zM85.4 241.8h1v1h-1zM81.1 234.4h1v1h-1zM88.9 269.9h1v1h-1zM59.3 268.5h1v1h-1zM53.6 266.6h1v1h-1zM68.3 261.1h1v1h-1zM87.8 262.0h1v1h-1zM84.8 238.4h1v1h-1zM75.6 265.6h1v1h-1zM73.7 264.0h1v1h-1zM58.9 268.2h1v1h-1z" fill="rgb(88, 111, 217)" opacity="0.73"/>
<path d="M77.5 266.6h1v1h-1zM84.9 261.0h1v1h-1zM51.5 264.1h1v1h-1zM84.5 273.7h1v1h-1zM75.3 264.7h1v1h-1zM60.9 264.0h1v1h-1zM68.2 262.7h1v1h-1zM85.1 240.8h1v1h-1zM68.3 271.2h1v1h-1zM77.3 238.9h1v1h-1zM71.9 262.7h1v1h-1zM63.2 263.0h1v1h-1zM84.8 240.4h1v1h-1zM84.9 237.6h1v1h-1zM60.0 267.5h1v1h-1zM69.9 261.1h1v1h-1zM63.4 262.9h1v1h-1zM83.3 272.1h1v1h-1zM68.0 263.0h1v1h-1zM81.4 242.2h1v1h-1zM73.9 263.3h1v1h-1zM80.9 262.3h1v1h-1zM73.5 264.5h1v1h-1zM59.2 266.3h1v1h-1zM69.6 271.3h1v1h-1zM81.0 261.4h1v1h-1zM77.8 264.2h1v1h-1zM71.4 262.8h1v1h-1zM76.3 267.2h1v1h-1zM80.2 261.3h1v1h-1zM60.5 266.7h1v1h-1zM86.4 271.3h1v1h-1zM78.2 263.8h1v1h-1zM51.6 266.7h1v1h-1zM85.1 261.2h1v1h-1zM76.6 266.1h1v1h-1zM78.5 235.5h1v1h-1zM64.9 271.0h1v1h-1zM83.2 234.5h1v1h-1zM81.8 234.8h1v1h-1zM59.9 267.3h1v1h-1zM71.2 263.5h1v1h-1zM60.6 263.9h1v1h-1zM63.6 263.4h1v1h-1zM70.3 262.8h1v1h-1zM74.3 265.3h1v1h-1zM85.7 262.6h1v1h-1zM59.2 266.2h1v1h-1zM83.6 236.2h1v1h-1zM64.3 262.8h1v1h-1zM81.1 262.4h1v1h-1zM80.2 271.3h1v1h-1zM83.4 272.1h1v1h-1zM61.7 267.9h1v1h-1zM59.5 268.6h1v1h-1zM77.8 265.7h1v1h-1zM79.4 241.4h1v1h-1zM63.8 263.3h1v1h-1zM77.8 242.2h1v1h-1zM66.8 262.4h1v1h-1zM78.1 267.6h1v1h-1zM81.6 271.8h1v1h-1zM77.4 237.3h1v1h-1zM88.2 268.0h1v1h-1zM77.6 241.7h1v1h-1zM60.5 265.0h1v1h-1zM84.1 240.7h1v1h-1zM71.0 264.6h1v1h-1zM82.2 271.9h1v1h-1zM84.3 238.5h1v1h-1zM75.9 266.0h1v1h-1zM67.9 270.3h1v1h-1zM87.0 263.7h1v1h-1zM75.3 265.5h1v1h-1zM71.2 263.0h1v1h-1zM81.5 242.6h1v1h-1zM86.5 271.4h1v1h-1zM80.3 241.9h1v1h-1zM88.7 266.6h1v1h-1zM82.9 235.2h1v1h-1zM74.3 266.4h1v1h-1zM85.8 271.7h1v1h-1zM65.2 263.7h1v1h-1zM78.3 263.0h1v1h-1zM66.1 270.6h1v1h-1zM77.3 241.0h1v1h-1zM64.2 270.7h1v1h-1zM73.2 269.1h1v1h-1zM77.9 265.9h1v1h-1zM75.7 268.2h1v1h-1zM58.3 268.5h1v1h-1zM60.8 269.3h1v1h-1zM70.7 270.6h1v1h-1zM63.7 264.7h1v1h-1zM63.9 263.5h1v1h-1zM62.1 264.1h1v1h-1zM59.3 266.6h1v1h-1zM79.1 243.6h1v1h-1zM62.0 265.7h1v1h-1zM87.2 265.6h1v1h-1zM69.1 263.2h1v1h-1zM80.7 235.1h1v1h-1zM88.7 264.2h1v1h-1zM77.6 241.5h1v1h-1zM77.9 240.9h1v1h-1zM70.6 270.5h1v1h-1zM78.2 266.0h1v1h-1zM83.5 237.8h1v1h-1zM86.7 263.5h1v1h-1zM63.1 269.0h1v1h-1zM79.8 263.3h1v1h-1zM78.0 266.7h1v1h-1zM81.4 235.7h1v1h-1zM76.9 265.5h1v1h-1zM68.9 262.1h1v1h-1zM70.2 262.3h1v1h-1zM63.6 270.2h1v1h-1zM69.6 262.1h1v1h-1zM88.1 268.3h1v1h-1zM74.1 267.5h1v1h-1zM78.4 242.2h1v1h-1zM82.5 261.7h1v1h-1zM74.2 266.0h1v1h-1zM78.7 264.4h1v1h-1zM77.5 242.6h1v1h-1zM80.1 270.4h1v1h-1zM63.5 269.4h1v1h-1zM88.0 267.5h1v1h-1zM60.6 267.5h1v1h-1zM62.5 269.0h1v1h-1zM74.8 266.5h1v1h-1zM62.8 266.1h1v1h-1zM59.3 268.5h1v1h-1zM70.1 263.1h1v1h-1zM88.0 264.4h1v1h-1zM61.8 265.0h1v1h-1zM80.0 236.1h1v1h-1zM87.1 264.5h1v1h-1zM59.4 267.9h1v1h-1zM84.3 272.6h1v1h-1zM79.4 262.9h1v1h-1zM73.5 268.3h1v1h-1zM85.1 272.0h1v1h-1z" fill="rgb(70, 109, 211)" opacity="0.82"/>
<path d="M69.2 270.5h1v1h-1zM85.8 271.6h1v1h-1zM85.2 271.3h1v1h-1zM71.5 264.1h1v1h-1zM85.8 262.7h1v1h-1zM71.3 263.4h1v1h-1zM79.9 265.3h1v1h-1zM78.7 265.6h1v1h-1zM67.0 264.2h1v1h-1zM75.7 265.8h1v1h-1zM64.5 268.5h1v1h-1zM83.1 271.4h1v1h-1zM70.7 261.9h1v1h-1zM80.4 236.0h1v1h-1zM61.0 265.5h1v1h-1zM72.1 269.3h1v1h-1zM81.5 262.0h1v1h-1zM61.2 265.9h1v1h-1zM79.7 261.4h1v1h-1zM77.7 265.3h1v1h-1zM80.5 241.5h1v1h-1zM74.1 266.8h1v1h-1zM72.6 269.2h1v1h-1zM62.1 268.4h1v1h-1zM62.3 265.0h1v1h-1zM60.8 265.2h1v1h-1zM87.1 268.9h1v1h-1zM71.0 268.9h1v1h-1zM81.0 263.5h1v1h-1zM86.0 262.8h1v1h-1zM86.8 270.3h1v1h-1zM81.0 270.3h1v1h-1zM72.6 269.3h1v1h-1zM61.3 266.9h1v1h-1zM64.9 270.7h1v1h-1zM73.0 264.2h1v1h-1zM88.8 268.7h1v1h-1zM61.5 267.5h1v1h-1zM78.8 265.8h1v1h-1zM62.5 268.3h1v1h-1zM82.8 240.8h1v1h-1zM63.4 266.6h1v1h-1zM83.3 239.9h1v1h-1zM87.7 268.3h1v1h-1zM69.9 263.9h1v1h-1zM66.2 263.6h1v1h-1zM60.7 265.1h1v1h-1zM65.6 269.6h1v1h-1zM74.3 266.4h1v1h-1zM69.0 268.6h1v1h-1zM65.1 268.8h1v1h-1zM82.9 234.4h1v1h-1zM69.0 262.7h1v1h-1zM86.4 270.1h1v1h-1zM84.8 271.0h1v1h-1zM86.7 263.1h1v1h-1zM83.8 240.8h1v1h-1zM79.2 265.9h1v1h-1zM62.4 264.4h1v1h-1zM73.7 264.8h1v1h-1zM78.8 264.1h1v1h-1zM73.3 268.5h1v1h-1zM80.5 269.6h1v1h-1zM59.0 268.0h1v1h-1zM82.9 262.1h1v1h-1zM74.3 266.7h1v1h-1zM77.6 240.3h1v1h-1zM68.8 263.6h1v1h-1zM63.9 265.1h1v1h-1zM61.6 265.9h1v1h-1zM81.6 271.5h1v1h-1zM80.4 268.8h1v1h-1zM66.5 264.1h1v1h-1zM82.6 239.9h1v1h-1zM78.4 237.6h1v1h-1zM82.9 262.1h1v1h-1zM71.3 264.1h1v1h-1zM87.8 269.2h1v1h-1zM63.0 265.2h1v1h-1zM72.5 265.3h1v1h-1zM64.9 269.3h1v1h-1zM62.5 267.3h1v1h-1zM73.5 267.6h1v1h-1zM62.6 265.3h1v1h-1zM80.4 263.6h1v1h-1zM80.9 262.4h1v1h-1zM70.6 269.6h1v1h-1zM71.7 269.1h1v1h-1zM82.4 237.2h1v1h-1zM64.2 264.4h1v1h-1zM83.9 261.9h1v1h-1zM81.0 268.0h1v1h-1zM63.1 265.5h1v1h-1zM86.5 262.4h1v1h-1zM64.0 270.4h1v1h-1zM71.1 264.6h1v1h-1zM87.1 268.5h1v1h-1zM71.2 266.2h1v1h-1zM79.4 266.7h1v1h-1zM81.5 235.0h1v1h-1zM79.7 266.0h1v1h-1zM86.6 263.0h1v1h-1zM79.2 236.2h1v1h-1zM69.4 264.6h1v1h-1zM71.9 264.3h1v1h-1zM87.1 266.0h1v1h-1zM82.8 238.8h1v1h-1zM87.9 265.6h1v1h-1zM68.2 262.9h1v1h-1zM78.0 240.5h1v1h-1zM80.1 268.4h1v1h-1zM81.5 241.5h1v1h-1zM81.4 235.6h1v1h-1zM80.6 268.8h1v1h-1zM83.2 238.0h1v1h-1zM87.1 268.8h1v1h-1zM61.0 267.0h1v1h-1zM82.3 262.1h1v1h-1zM78.7 238.9h1v1h-1zM79.8 265.4h1v1h-1zM82.3 240.0h1v1h-1zM70.4 268.9h1v1h-1zM82.8 236.2h1v1h-1zM87.2 263.9h1v1h-1zM83.8 262.5h1v1h-1zM80.9 264.6h1v1h-1zM65.8 264.2h1v1h-1zM83.0 239.9h1v1h-1zM82.8 236.6h1v1h-1zM72.7 265.0h1v1h-1zM70.3 264.5h1v1h-1z" fill="rgb(56, 114, 206)" opacity="0.91"/>
<path d="M87.2 268.9h1v1h-1zM73.1 265.0h1v1h-1zM73.2 267.6h1v1h-1zM85.0 271.2h1v1h-1zM69.2 265.0h1v1h-1zM67.9 268.8h1v1h-1zM61.2 265.4h1v1h-1zM85.4 270.1h1v1h-1zM62.5 264.6h1v1h-1zM67.8 266.6h1v1h-1zM71.6 265.7h1v1h-1zM63.7 266.4h1v1h-1zM63.9 268.4h1v1h-1zM82.8 263.6h1v1h-1zM81.4 236.3h1v1h-1zM65.7 269.5h1v1h-1zM80.9 241.0h1v1h-1zM79.8 241.3h1v1h-1zM72.6 268.7h1v1h-1zM64.2 269.7h1v1h-1zM83.5 238.0h1v1h-1zM83.0 270.9h1v1h-1zM79.8 266.6h1v1h-1zM80.3 266.4h1v1h-1zM73.3 267.2h1v1h-1zM83.6 237.9h1v1h-1zM84.1 261.9h1v1h-1zM72.1 268.5h1v1h-1zM69.0 270.1h1v1h-1zM74.3 266.6h1v1h-1zM83.2 270.7h1v1h-1zM83.4 261.8h1v1h-1zM71.7 269.2h1v1h-1zM70.1 268.4h1v1h-1zM73.1 267.8h1v1h-1zM85.2 271.3h1v1h-1zM69.1 267.9h1v1h-1zM81.0 268.9h1v1h-1zM70.9 268.5h1v1h-1zM69.3 269.7h1v1h-1zM63.6 267.5h1v1h-1zM83.5 263.3h1v1h-1zM67.3 268.8h1v1h-1zM81.1 236.2h1v1h-1zM87.3 264.6h1v1h-1zM78.7 240.4h1v1h-1zM71.7 267.8h1v1h-1zM67.9 264.4h1v1h-1zM87.4 268.5h1v1h-1zM84.5 263.1h1v1h-1zM63.6 268.7h1v1h-1zM82.4 238.2h1v1h-1zM81.9 270.1h1v1h-1zM74.2 265.3h1v1h-1zM80.0 241.6h1v1h-1zM80.8 265.2h1v1h-1zM79.0 241.6h1v1h-1zM78.6 236.8h1v1h-1zM81.4 264.4h1v1h-1zM63.6 267.4h1v1h-1zM80.7 240.9h1v1h-1zM80.2 242.4h1v1h-1zM81.7 270.1h1v1h-1zM81.1 269.8h1v1h-1zM70.6 269.3h1v1h-1zM68.6 264.4h1v1h-1zM71.3 266.2h1v1h-1zM71.2 265.3h1v1h-1zM71.7 267.8h1v1h-1zM67.4 264.4h1v1h-1zM79.3 237.6h1v1h-1zM71.8 268.7h1v1h-1zM87.1 269.4h1v1h-1zM70.8 267.1h1v1h-1zM81.5 262.9h1v1h-1zM84.2 270.4h1v1h-1zM78.9 265.7h1v1h-1zM79.5 240.5h1v1h-1zM83.2 263.4h1v1h-1zM88.0 263.8h1v1h-1zM66.0 265.8h1v1h-1zM87.2 267.5h1v1h-1zM84.2 270.8h1v1h-1zM82.8 239.5h1v1h-1zM83.1 262.7h1v1h-1zM86.2 270.0h1v1h-1zM78.1 241.6h1v1h-1zM72.9 268.2h1v1h-1zM81.0 262.9h1v1h-1zM82.1 236.9h1v1h-1zM73.3 266.1h1v1h-1zM62.3 266.1h1v1h-1zM83.7 271.6h1v1h-1zM70.6 265.9h1v1h-1zM72.9 268.2h1v1h-1zM84.9 270.9h1v1h-1zM70.3 264.9h1v1h-1zM72.1 265.9h1v1h-1zM66.2 264.1h1v1h-1zM65.3 269.2h1v1h-1zM82.6 237.4h1v1h-1zM81.8 240.4h1v1h-1zM81.7 270.2h1v1h-1zM69.7 269.1h1v1h-1zM81.7 264.4h1v1h-1zM67.8 269.6h1v1h-1zM79.8 236.6h1v1h-1zM86.2 268.8h1v1h-1zM83.0 269.9h1v1h-1zM67.0 268.8h1v1h-1zM73.3 267.6h1v1h-1zM70.7 268.8h1v1h-1zM82.2 238.8h1v1h-1zM86.7 264.1h1v1h-1zM70.8 264.9h1v1h-1zM69.6 268.7h1v1h-1zM68.9 265.3h1v1h-1zM66.0 269.1h1v1h-1zM82.9 240.5h1v1h-1zM79.3 265.3h1v1h-1zM62.9 268.4h1v1h-1zM69.5 263.9h1v1h-1zM64.6 265.2h1v1h-1zM82.9 263.6h1v1h-1zM85.3 269.5h1v1h-1zM85.7 263.6h1v1h-1zM80.3 266.7h1v1h-1zM86.8 270.1h1v1h-1zM66.1 268.7h1v1h-1zM68.5 264.6h1v1h-1zM71.4 268.7h1v1h-1zM73.5 265.8h1v1h-1zM78.8 237.5h1v1h-1zM73.7 266.2h1v1h-1zM72.1 266.0h1v1h-1zM78.8 239.8h1v1h-1zM81.3 269.4h1v1h-1zM69.7 267.3h1v1h-1zM62.8 266.9h1v1h-1zM69.7 269.5h1v1h-1zM82.7 237.9h1v1h-1zM86.3 264.8h1v1h-1zM82.2 235.8h1v1h-1zM81.5 240.0h1v1h-1zM86.0 264.9h1v1h-1zM66.7 268.8h1v1h-1zM82.2 239.8h1v1h-1zM80.2 263.5h1v1h-1zM65.7 264.9h1v1h-1zM68.2 265.7h1v1h-1zM79.6 266.3h1v1h-1zM70.2 263.8h1v1h-1zM64.9 269.6h1v1h-1zM63.8 265.6h1v1h-1zM68.1 264.7h1v1h-1zM65.9 268.5h1v1h-1zM86.2 264.0h1v1h-1zM81.0 268.2h1v1h-1zM81.2 240.2h1v1h-1zM68.7 266.6h1v1h-1zM67.2 269.2h1v1h-1zM67.8 267.6h1v1h-1zM84.5 270.1h1v1h-1zM86.5 271.6h1v1h-1zM65.7 265.2h1v1h-1zM61.2 268.6h1v1h-1zM69.7 269.9h1v1h-1zM80.7 240.4h1v1h-1zM61.5 268.6h1v1h-1zM80.9 239.9h1v1h-1zM72.8 265.9h1v1h-1zM82.2 235.8h1v1h-1zM82.9 236.7h1v1h-1zM64.5 265.9h1v1h-1zM71.9 264.9h1v1h-1z" fill="rgb(41, 119, 201)" opacity="1.00"/>
<path d="M68.1 264.0h1v1h-1zM68.4 265.2h1v1h-1zM86.1 263.9h1v1h-1zM85.9 263.6h1v1h-1zM78.2 241.2h1v1h-1zM82.0 237.6h1v1h-1zM71.5 267.1h1v1h-1zM65.2 265.3h1v1h-1zM62.5 267.9h1v1h-1zM81.4 269.1h1v1h-1zM82.3 270.5h1v1h-1zM79.1 241.3h1v1h-1zM68.8 263.8h1v1h-1zM64.5 264.8h1v1h-1zM81.7 266.4h1v1h-1zM62.3 265.6h1v1h-1zM81.7 240.0h1v1h-1zM79.9 240.0h1v1h-1zM79.0 239.1h1v1h-1zM65.1 267.1h1v1h-1zM64.2 266.5h1v1h-1zM72.9 267.5h1v1h-1zM82.1 238.0h1v1h-1zM81.9 240.3h1v1h-1zM74.0 266.7h1v1h-1zM84.5 269.4h1v1h-1zM69.1 265.1h1v1h-1zM71.5 267.1h1v1h-1zM85.1 270.2h1v1h-1zM81.9 237.0h1v1h-1zM82.2 237.6h1v1h-1zM64.8 268.6h1v1h-1zM71.8 268.6h1v1h-1zM63.8 266.1h1v1h-1zM80.6 268.1h1v1h-1zM81.6 236.6h1v1h-1zM70.5 266.4h1v1h-1zM71.8 266.8h1v1h-1zM70.6 266.8h1v1h-1zM64.4 266.8h1v1h-1zM82.3 264.5h1v1h-1zM82.1 263.8h1v1h-1zM66.9 265.6h1v1h-1zM80.0 239.7h1v1h-1zM63.8 267.5h1v1h-1zM81.5 236.2h1v1h-1zM68.8 264.5h1v1h-1zM67.9 267.2h1v1h-1zM72.0 266.2h1v1h-1zM65.4 265.4h1v1h-1zM66.4 268.4h1v1h-1zM81.9 270.1h1v1h-1zM68.6 269.5h1v1h-1zM69.8 266.8h1v1h-1zM68.6 269.6h1v1h-1zM66.0 266.9h1v1h-1zM68.0 267.2h1v1h-1zM85.4 269.7h1v1h-1zM82.5 269.0h1v1h-1zM84.1 270.5h1v1h-1zM82.4 239.6h1v1h-1zM66.3 264.6h1v1h-1zM86.8 268.3h1v1h-1zM80.9 267.1h1v1h-1zM65.0 265.0h1v1h-1zM81.3 238.6h1v1h-1zM69.4 267.9h1v1h-1zM82.4 237.8h1v1h-1zM68.0 265.9h1v1h-1zM86.4 267.2h1v1h-1zM83.8 270.2h1v1h-1zM66.3 268.5h1v1h-1zM68.7 265.3h1v1h-1zM83.9 270.7h1v1h-1zM63.8 267.2h1v1h-1zM67.6 265.7h1v1h-1zM72.9 267.4h1v1h-1zM72.8 266.4h1v1h-1zM83.4 263.4h1v1h-1zM69.5 266.2h1v1h-1zM85.9 263.2h1v1h-1zM64.4 266.4h1v1h-1zM84.5 264.2h1v1h-1zM83.8 263.5h1v1h-1zM72.9 266.9h1v1h-1zM63.1 267.1h1v1h-1zM82.5 237.5h1v1h-1zM79.5 237.6h1v1h-1zM64.4 266.9h1v1h-1zM68.6 268.8h1v1h-1zM82.8 270.4h1v1h-1zM69.8 267.1h1v1h-1zM80.8 237.2h1v1h-1zM67.3 265.3h1v1h-1zM65.7 269.6h1v1h-1zM67.1 268.2h1v1h-1zM86.5 267.0h1v1h-1zM64.6 266.5h1v1h-1zM66.5 266.5h1v1h-1zM80.8 264.4h1v1h-1zM78.3 238.0h1v1h-1zM81.7 239.5h1v1h-1zM69.3 265.9h1v1h-1zM78.9 238.9h1v1h-1zM66.2 268.4h1v1h-1zM69.6 266.4h1v1h-1zM67.2 268.6h1v1h-1zM65.1 268.6h1v1h-1zM83.7 239.8h1v1h-1zM70.7 267.8h1v1h-1zM85.4 263.9h1v1h-1zM66.0 266.1h1v1h-1zM66.0 268.4h1v1h-1zM73.1 266.2h1v1h-1zM82.8 240.0h1v1h-1zM80.1 236.9h1v1h-1zM84.5 264.6h1v1h-1zM68.9 265.2h1v1h-1zM70.0 267.7h1v1h-1zM81.4 265.1h1v1h-1zM69.4 264.9h1v1h-1zM63.9 267.3h1v1h-1zM72.7 268.2h1v1h-1zM71.9 266.4h1v1h-1zM86.4 266.2h1v1h-1zM86.7 268.5h1v1h-1zM71.9 268.6h1v1h-1zM67.6 266.9h1v1h-1zM81.3 236.6h1v1h-1zM85.6 268.8h1v1h-1zM69.9 265.7h1v1h-1zM67.4 268.1h1v1h-1zM82.5 269.2h1v1h-1zM65.8 266.9h1v1h-1zM82.5 270.2h1v1h-1zM82.4 238.2h1v1h-1zM78.3 239.4h1v1h-1zM86.4 268.0h1v1h-1zM86.0 267.9h1v1h-1zM82.3 236.8h1v1h-1zM70.2 269.4h1v1h-1zM73.2 266.2h1v1h-1zM87.0 267.5h1v1h-1zM80.0 238.8h1v1h-1zM87.7 265.6h1v1h-1zM81.6 238.5h1v1h-1zM70.8 266.4h1v1h-1zM73.7 267.0h1v1h-1zM65.5 268.6h1v1h-1zM83.6 263.5h1v1h-1zM79.9 239.9h1v1h-1zM81.8 268.9h1v1h-1zM86.7 264.3h1v1h-1zM84.7 270.3h1v1h-1zM79.1 266.1h1v1h-1zM70.8 267.2h1v1h-1z" fill="rgb(44, 139, 170)" opacity="1.00"/>
<path d="M83.3 264.5h1v1h-1zM65.6 264.8h1v1h-1zM82.1 269.9h1v1h-1zM84.7 263.9h1v1h-1zM69.1 267.2h1v1h-1zM81.0 237.1h1v1h-1zM68.7 267.5h1v1h-1zM69.7 267.9h1v1h-1zM83.3 270.3h1v1h-1zM69.1 266.8h1v1h-1zM66.5 266.2h1v1h-1zM79.1 240.1h1v1h-1zM81.4 239.9h1v1h-1zM82.8 263.0h1v1h-1zM83.8 263.3h1v1h-1zM66.4 267.6h1v1h-1zM83.3 263.9h1v1h-1zM67.7 268.1h1v1h-1zM80.9 239.6h1v1h-1zM67.3 265.5h1v1h-1zM78.1 238.4h1v1h-1zM67.2 268.2h1v1h-1zM67.4 265.3h1v1h-1zM65.9 266.5h1v1h-1zM72.8 267.8h1v1h-1zM83.1 263.6h1v1h-1zM84.1 264.5h1v1h-1zM83.4 269.3h1v1h-1zM79.4 238.1h1v1h-1zM81.8 264.0h1v1h-1zM81.5 267.9h1v1h-1zM81.1 238.1h1v1h-1zM79.6 238.1h1v1h-1zM85.6 263.8h1v1h-1zM65.1 267.0h1v1h-1zM67.2 269.1h1v1h-1zM79.4 239.6h1v1h-1zM86.3 265.5h1v1h-1zM86.2 267.7h1v1h-1zM72.3 268.6h1v1h-1zM86.6 266.3h1v1h-1zM78.2 237.6h1v1h-1zM81.0 240.0h1v1h-1zM82.9 238.2h1v1h-1zM65.5 266.8h1v1h-1zM83.0 264.4h1v1h-1zM78.8 238.6h1v1h-1zM80.4 265.4h1v1h-1zM80.1 239.0h1v1h-1zM81.9 237.9h1v1h-1zM67.2 268.2h1v1h-1zM85.4 265.2h1v1h-1zM80.0 237.3h1v1h-1zM72.8 267.3h1v1h-1zM69.4 267.5h1v1h-1zM85.6 264.3h1v1h-1zM69.7 267.1h1v1h-1zM80.0 239.1h1v1h-1zM64.8 266.8h1v1h-1zM78.7 239.0h1v1h-1zM81.4 269.0h1v1h-1zM86.1 266.8h1v1h-1zM81.2 236.7h1v1h-1zM85.2 264.1h1v1h-1zM67.3 268.5h1v1h-1zM81.1 240.3h1v1h-1zM86.6 266.7h1v1h-1zM86.8 265.8h1v1h-1zM65.5 267.0h1v1h-1zM81.7 236.9h1v1h-1zM80.1 235.8h1v1h-1zM67.5 266.3h1v1h-1zM85.5 268.9h1v1h-1zM81.8 266.5h1v1h-1zM81.2 264.1h1v1h-1zM72.0 267.4h1v1h-1zM81.2 264.8h1v1h-1zM69.8 266.9h1v1h-1zM79.7 238.2h1v1h-1zM80.7 238.2h1v1h-1zM80.1 237.9h1v1h-1zM65.2 268.1h1v1h-1zM85.3 264.5h1v1h-1zM85.8 264.2h1v1h-1zM81.7 267.3h1v1h-1zM79.6 238.3h1v1h-1zM86.6 268.2h1v1h-1zM67.3 265.6h1v1h-1zM83.6 269.7h1v1h-1zM81.0 239.6h1v1h-1zM81.0 238.7h1v1h-1zM80.8 237.6h1v1h-1zM64.4 266.6h1v1h-1zM86.7 264.7h1v1h-1zM78.5 239.3h1v1h-1zM64.5 265.9h1v1h-1zM81.7 238.4h1v1h-1zM85.3 266.3h1v1h-1zM83.6 270.3h1v1h-1zM81.5 266.7h1v1h-1zM70.2 266.6h1v1h-1zM65.2 266.3h1v1h-1zM68.2 266.7h1v1h-1zM72.6 268.2h1v1h-1zM68.4 268.7h1v1h-1zM69.9 267.4h1v1h-1zM81.0 236.9h1v1h-1zM83.2 269.9h1v1h-1zM86.1 267.9h1v1h-1zM82.5 268.1h1v1h-1zM78.3 238.4h1v1h-1zM83.4 269.9h1v1h-1zM80.2 266.9h1v1h-1zM82.8 239.2h1v1h-1zM80.9 239.1h1v1h-1zM86.4 268.8h1v1h-1zM78.5 238.8h1v1h-1zM69.8 266.6h1v1h-1zM84.0 270.2h1v1h-1zM85.6 264.4h1v1h-1zM79.8 238.9h1v1h-1zM79.3 240.0h1v1h-1zM84.6 265.7h1v1h-1zM83.8 270.9h1v1h-1zM82.0 267.4h1v1h-1zM64.6 267.0h1v1h-1zM81.5 237.1h1v1h-1zM70.0 268.4h1v1h-1zM83.6 268.8h1v1h-1zM83.7 269.3h1v1h-1zM67.9 267.5h1v1h-1zM85.3 267.8h1v1h-1zM67.4 266.4h1v1h-1z" fill="rgb(49, 161, 137)" opacity="1.00"/>
<path d="M80.3 239.5h1v1h-1zM85.4 265.6h1v1h-1zM81.1 268.7h1v1h-1zM85.0 266.6h1v1h-1zM67.1 267.0h1v1h-1zM80.5 239.4h1v1h-1zM68.2 265.1h1v1h-1zM85.2 264.9h1v1h-1zM80.7 238.4h1v1h-1zM81.3 237.7h1v1h-1zM85.9 264.8h1v1h-1zM67.8 268.6h1v1h-1zM67.5 266.7h1v1h-1zM81.6 267.6h1v1h-1zM81.9 264.9h1v1h-1zM83.0 263.6h1v1h-1zM82.4 267.4h1v1h-1zM67.5 266.8h1v1h-1zM84.3 269.3h1v1h-1zM69.8 268.0h1v1h-1zM68.9 267.5h1v1h-1zM82.7 268.4h1v1h-1zM80.3 236.9h1v1h-1zM80.4 239.2h1v1h-1zM66.5 265.2h1v1h-1zM65.7 266.3h1v1h-1zM82.1 238.7h1v1h-1zM83.0 267.0h1v1h-1zM71.8 267.3h1v1h-1zM79.8 239.1h1v1h-1zM65.8 266.7h1v1h-1zM82.6 264.4h1v1h-1zM66.1 265.3h1v1h-1zM69.1 268.4h1v1h-1zM68.0 265.5h1v1h-1zM81.7 267.5h1v1h-1zM86.5 268.2h1v1h-1zM86.6 266.1h1v1h-1zM82.4 264.5h1v1h-1zM68.1 266.1h1v1h-1zM85.5 267.9h1v1h-1zM70.1 267.4h1v1h-1zM68.4 268.0h1v1h-1zM82.2 270.3h1v1h-1zM83.7 268.4h1v1h-1zM81.0 236.9h1v1h-1zM64.8 265.8h1v1h-1zM83.7 265.2h1v1h-1zM82.7 267.9h1v1h-1zM69.8 268.7h1v1h-1zM82.7 238.4h1v1h-1zM82.8 265.5h1v1h-1zM66.6 268.2h1v1h-1zM65.4 267.9h1v1h-1zM66.9 265.7h1v1h-1zM80.6 239.6h1v1h-1zM64.3 266.0h1v1h-1zM82.8 270.0h1v1h-1zM82.0 265.7h1v1h-1zM81.7 265.1h1v1h-1zM67.1 265.2h1v1h-1zM81.9 239.5h1v1h-1zM84.7 268.4h1v1h-1zM85.4 266.4h1v1h-1zM65.7 268.5h1v1h-1zM84.3 266.1h1v1h-1zM68.4 266.5h1v1h-1zM81.5 264.4h1v1h-1zM86.4 267.6h1v1h-1zM84.8 268.9h1v1h-1zM85.1 266.7h1v1h-1zM83.9 268.6h1v1h-1zM86.4 267.0h1v1h-1zM81.4 268.7h1v1h-1zM68.1 265.8h1v1h-1zM82.0 266.4h1v1h-1zM85.3 268.5h1v1h-1zM85.3 265.4h1v1h-1zM78.6 237.9h1v1h-1zM81.3 238.3h1v1h-1zM82.2 268.5h1v1h-1zM81.7 266.5h1v1h-1zM86.6 266.2h1v1h-1zM82.7 267.9h1v1h-1zM81.9 267.6h1v1h-1z" fill="rgb(80, 176, 103)" opacity="1.00"/>
<path d="M83.6 270.4h1v1h-1zM85.5 266.0h1v1h-1zM84.6 264.6h1v1h-1zM82.3 268.2h1v1h-1zM83.3 269.1h1v1h-1zM84.6 268.2h1v1h-1zM80.5 238.5h1v1h-1zM81.6 237.9h1v1h-1zM85.2 266.2h1v1h-1zM68.6 266.5h1v1h-1zM81.2 237.8h1v1h-1zM80.3 239.4h1v1h-1zM83.4 269.6h1v1h-1zM83.2 264.4h1v1h-1zM85.2 268.3h1v1h-1zM83.4 269.6h1v1h-1zM69.7 266.1h1v1h-1zM68.2 266.3h1v1h-1zM80.6 239.1h1v1h-1zM67.1 267.0h1v1h-1zM84.8 266.6h1v1h-1zM68.8 265.9h1v1h-1zM85.8 269.4h1v1h-1zM81.9 267.1h1v1h-1zM66.2 268.1h1v1h-1zM84.6 264.8h1v1h-1zM83.0 266.1h1v1h-1zM83.0 263.8h1v1h-1zM82.9 268.3h1v1h-1zM83.3 266.9h1v1h-1zM85.5 266.9h1v1h-1zM84.5 267.9h1v1h-1zM82.1 267.5h1v1h-1zM81.5 266.6h1v1h-1zM80.0 238.2h1v1h-1zM82.1 265.6h1v1h-1zM85.6 267.6h1v1h-1zM80.9 240.1h1v1h-1zM82.1 266.1h1v1h-1zM80.2 238.8h1v1h-1zM85.9 267.6h1v1h-1zM85.2 267.3h1v1h-1zM84.7 268.5h1v1h-1zM79.5 238.1h1v1h-1zM85.6 264.9h1v1h-1zM65.5 266.9h1v1h-1zM85.1 265.4h1v1h-1zM84.6 268.7h1v1h-1zM82.9 266.8h1v1h-1zM85.3 268.4h1v1h-1zM67.0 266.7h1v1h-1zM81.0 237.9h1v1h-1zM84.5 266.5h1v1h-1zM83.1 263.9h1v1h-1zM84.3 268.0h1v1h-1zM85.5 265.8h1v1h-1zM80.7 238.7h1v1h-1zM84.9 268.0h1v1h-1zM66.7 266.8h1v1h-1zM84.3 266.2h1v1h-1zM84.7 266.4h1v1h-1zM83.4 265.4h1v1h-1zM84.7 269.0h1v1h-1zM84.7 265.1h1v1h-1zM83.5 267.4h1v1h-1zM85.4 267.4h1v1h-1zM82.6 266.8h1v1h-1zM84.6 265.4h1v1h-1zM82.9 266.9h1v1h-1zM82.7 268.6h1v1h-1zM81.6 266.8h1v1h-1zM84.7 267.2h1v1h-1zM84.0 264.8h1v1h-1zM85.3 266.3h1v1h-1zM65.5 268.3h1v1h-1z" fill="rgb(119, 191, 70)" opacity="1.00"/>
<path d="M82.7 267.5h1v1h-1zM68.9 266.5h1v1h-1zM83.7 265.6h1v1h-1zM83.5 266.0h1v1h-1zM81.0 236.8h1v1h-1zM83.4 265.4h1v1h-1zM66.8 266.6h1v1h-1zM81.2 264.8h1v1h-1zM80.9 238.4h1v1h-1zM84.4 265.6h1v1h-1zM84.6 266.9h1v1h-1zM67.3 267.1h1v1h-1zM82.8 266.6h1v1h-1zM84.2 266.4h1v1h-1zM83.6 266.4h1v1h-1zM82.1 266.1h1v1h-1zM82.1 268.5h1v1h-1zM84.8 267.1h1v1h-1zM82.4 266.5h1v1h-1zM83.3 267.0h1v1h-1zM84.8 266.7h1v1h-1zM85.9 265.8h1v1h-1zM82.8 266.9h1v1h-1zM82.8 268.6h1v1h-1zM84.2 267.2h1v1h-1zM84.0 267.7h1v1h-1zM86.0 268.2h1v1h-1zM84.9 267.1h1v1h-1zM85.6 267.9h1v1h-1zM68.4 268.6h1v1h-1zM82.9 265.5h1v1h-1zM82.6 264.4h1v1h-1zM80.9 237.9h1v1h-1zM85.6 268.4h1v1h-1zM83.2 264.8h1v1h-1zM80.2 237.6h1v1h-1zM82.8 266.2h1v1h-1zM81.5 239.5h1v1h-1zM84.3 267.5h1v1h-1zM84.1 264.7h1v1h-1zM82.0 265.5h1v1h-1zM84.1 266.6h1v1h-1zM83.8 268.4h1v1h-1zM84.0 266.1h1v1h-1zM81.7 267.3h1v1h-1zM84.5 265.3h1v1h-1zM85.0 266.0h1v1h-1zM83.1 264.2h1v1h-1z" fill="rgb(162, 200, 53)" opacity="1.00"/>
<path d="M81.1 266.1h1v1h-1zM83.4 267.3h1v1h-1zM83.9 267.0h1v1h-1zM82.0 266.8h1v1h-1zM82.8 267.6h1v1h-1zM82.4 266.8h1v1h-1zM84.1 265.4h1v1h-1zM85.0 265.9h1v1h-1zM84.2 265.5h1v1h-1zM84.9 267.4h1v1h-1zM84.7 266.6h1v1h-1zM84.4 266.4h1v1h-1zM83.9 266.8h1v1h-1zM83.5 266.5h1v1h-1zM85.0 269.6h1v1h-1zM83.4 265.5h1v1h-1zM82.5 266.3h1v1h-1zM82.4 266.6h1v1h-1zM83.2 266.5h1v1h-1zM83.5 264.8h1v1h-1zM79.8 238.7h1v1h-1zM84.8 265.7h1v1h-1zM83.4 265.7h1v1h-1zM84.9 267.2h1v1h-1zM84.8 264.8h1v1h-1zM83.8 267.0h1v1h-1zM84.6 268.3h1v1h-1z" fill="rgb(207, 207, 44)" opacity="1.00"/>
<path d="M81.6 265.7h1v1h-1zM83.0 264.8h1v1h-1zM83.2 266.7h1v1h-1zM65.8 267.2h1v1h-1zM82.4 266.0h1v1h-1zM81.8 238.4h1v1h-1zM85.6 264.8h1v1h-1zM84.4 267.0h1v1h-1zM84.7 266.1h1v1h-1zM83.9 265.4h1v1h-1zM83.2 265.8h1v1h-1zM82.0 265.0h1v1h-1zM84.8 266.3h1v1h-1zM81.3 239.6h1v1h-1zM84.6 267.7h1v1h-1zM84.4 265.9h1v1h-1zM84.1 268.5h1v1h-1z" fill="rgb(229, 193, 40)" opacity="1.00"/>
<path d="M84.3 266.1h1v1h-1zM83.0 266.8h1v1h-1zM85.7 267.1h1v1h-1zM83.9 266.7h1v1h-1zM82.7 264.8h1v1h-1zM83.9 266.3h1v1h-1zM84.8 267.3h1v1h-1zM82.6 265.8h1v1h-1zM82.2 265.8h1v1h-1zM82.5 265.8h1v1h-1zM83.9 267.6h1v1h-1zM83.8 266.1h1v1h-1zM84.6 267.4h1v1h-1z" fill="rgb(236, 164, 40)" opacity="1.00"/>
<rect x="67.40" y="221.30" width="29.20" height="31.20" fill="none" stroke="#aaa" stroke-width="0.8"/>
<path d="M67.40 231.00V252.50H96.60V231.00" fill="none" stroke="#4a4a4a" stroke-width="1.1"/>
<text x="81.70" y="217.70" font-size="8.0" text-anchor="middle" fill="#1a1a1a" textLength="32.20" lengthAdjust="spacingAndGlyphs" stroke="#1a1a1a" stroke-width="0.1">CD3+CD8+</text>
<text x="81.70" y="226.70" font-size="8.2" text-anchor="middle" fill="#1a1a1a" textLength="12.40" lengthAdjust="spacingAndGlyphs" stroke="#1a1a1a" stroke-width="0.1">23.3</text>
<rect x="143.75" y="193.55" width="85.75" height="95.60" fill="#fff" stroke="#2a2a2a" stroke-width="1.1"/>
<line x1="141.05" y1="202.60" x2="143.75" y2="202.60" stroke="#2a2a2a" stroke-width="1.0"/>
<text x="138.05" y="204.90" font-size="6.6" text-anchor="end" fill="#222" textLength="6.00" lengthAdjust="spacingAndGlyphs" stroke="#222" stroke-width="0.12">10</text>
<text x="138.25" y="202.20" font-size="3.8" text-anchor="start" fill="#333" stroke="#333" stroke-width="0.12">5</text>
<line x1="141.05" y1="225.60" x2="143.75" y2="225.60" stroke="#2a2a2a" stroke-width="1.0"/>
<text x="138.05" y="227.90" font-size="6.6" text-anchor="end" fill="#222" textLength="6.00" lengthAdjust="spacingAndGlyphs" stroke="#222" stroke-width="0.12">10</text>
<text x="138.25" y="225.20" font-size="3.8" text-anchor="start" fill="#333" stroke="#333" stroke-width="0.12">4</text>
<line x1="141.05" y1="251.25" x2="143.75" y2="251.25" stroke="#2a2a2a" stroke-width="1.0"/>
<text x="138.05" y="253.55" font-size="6.6" text-anchor="end" fill="#222" textLength="6.00" lengthAdjust="spacingAndGlyphs" stroke="#222" stroke-width="0.12">10</text>
<text x="138.25" y="250.85" font-size="3.8" text-anchor="start" fill="#333" stroke="#333" stroke-width="0.12">3</text>
<line x1="141.05" y1="267.50" x2="143.75" y2="267.50" stroke="#2a2a2a" stroke-width="1.0"/>
<text x="140.35" y="269.80" font-size="6.8" text-anchor="end" fill="#222" stroke="#222" stroke-width="0.12">0</text>
<rect x="141.65" y="265.10" width="2.00" height="3.60" fill="#111"/>
<line x1="141.05" y1="282.75" x2="143.75" y2="282.75" stroke="#2a2a2a" stroke-width="1.0"/>
<text x="138.05" y="285.05" font-size="6.6" text-anchor="end" fill="#222" textLength="8.40" lengthAdjust="spacingAndGlyphs" stroke="#222" stroke-width="0.12">-10</text>
<text x="138.25" y="282.35" font-size="3.8" text-anchor="start" fill="#333" stroke="#333" stroke-width="0.12">3</text>
<line x1="141.95" y1="218.68" x2="143.75" y2="218.68" stroke="#444" stroke-width="0.7"/>
<line x1="141.95" y1="214.63" x2="143.75" y2="214.63" stroke="#444" stroke-width="0.7"/>
<line x1="141.95" y1="211.75" x2="143.75" y2="211.75" stroke="#444" stroke-width="0.7"/>
<line x1="141.95" y1="209.52" x2="143.75" y2="209.52" stroke="#444" stroke-width="0.7"/>
<line x1="141.95" y1="207.70" x2="143.75" y2="207.70" stroke="#444" stroke-width="0.7"/>
<line x1="141.95" y1="206.16" x2="143.75" y2="206.16" stroke="#444" stroke-width="0.7"/>
<line x1="141.95" y1="204.83" x2="143.75" y2="204.83" stroke="#444" stroke-width="0.7"/>
<line x1="141.95" y1="203.65" x2="143.75" y2="203.65" stroke="#444" stroke-width="0.7"/>
<line x1="141.95" y1="243.53" x2="143.75" y2="243.53" stroke="#444" stroke-width="0.7"/>
<line x1="141.95" y1="239.01" x2="143.75" y2="239.01" stroke="#444" stroke-width="0.7"/>
<line x1="141.95" y1="235.81" x2="143.75" y2="235.81" stroke="#444" stroke-width="0.7"/>
<line x1="141.95" y1="233.32" x2="143.75" y2="233.32" stroke="#444" stroke-width="0.7"/>
<line x1="141.95" y1="231.29" x2="143.75" y2="231.29" stroke="#444" stroke-width="0.7"/>
<line x1="141.95" y1="229.57" x2="143.75" y2="229.57" stroke="#444" stroke-width="0.7"/>
<line x1="141.95" y1="228.09" x2="143.75" y2="228.09" stroke="#444" stroke-width="0.7"/>
<line x1="141.95" y1="226.77" x2="143.75" y2="226.77" stroke="#444" stroke-width="0.7"/>
<line x1="143.95" y1="288.75" x2="143.95" y2="290.95" stroke="#2a2a2a" stroke-width="1.0"/>
<text x="143.35" y="297.55" font-size="6.6" text-anchor="start" fill="#222" textLength="6.00" lengthAdjust="spacingAndGlyphs" stroke="#222" stroke-width="0.12">10</text>
<text x="149.45" y="294.35" font-size="3.8" text-anchor="start" fill="#333" stroke="#333" stroke-width="0.12">0</text>
<line x1="148.35" y1="288.75" x2="148.35" y2="290.05" stroke="#555" stroke-width="0.6"/>
<line x1="150.92" y1="288.75" x2="150.92" y2="290.05" stroke="#555" stroke-width="0.6"/>
<line x1="152.74" y1="288.75" x2="152.74" y2="290.05" stroke="#555" stroke-width="0.6"/>
<line x1="154.15" y1="288.75" x2="154.15" y2="290.05" stroke="#555" stroke-width="0.6"/>
<line x1="155.31" y1="288.75" x2="155.31" y2="290.05" stroke="#555" stroke-width="0.6"/>
<line x1="156.29" y1="288.75" x2="156.29" y2="290.05" stroke="#555" stroke-width="0.6"/>
<line x1="157.14" y1="288.75" x2="157.14" y2="290.05" stroke="#555" stroke-width="0.6"/>
<line x1="157.88" y1="288.75" x2="157.88" y2="290.05" stroke="#555" stroke-width="0.6"/>
<line x1="158.55" y1="288.75" x2="158.55" y2="290.95" stroke="#2a2a2a" stroke-width="1.0"/>
<text x="157.95" y="297.55" font-size="6.6" text-anchor="start" fill="#222" textLength="6.00" lengthAdjust="spacingAndGlyphs" stroke="#222" stroke-width="0.12">10</text>
<text x="164.05" y="294.35" font-size="3.8" text-anchor="start" fill="#333" stroke="#333" stroke-width="0.12">1</text>
<line x1="163.46" y1="288.75" x2="163.46" y2="290.05" stroke="#555" stroke-width="0.6"/>
<line x1="166.33" y1="288.75" x2="166.33" y2="290.05" stroke="#555" stroke-width="0.6"/>
<line x1="168.36" y1="288.75" x2="168.36" y2="290.05" stroke="#555" stroke-width="0.6"/>
<line x1="169.94" y1="288.75" x2="169.94" y2="290.05" stroke="#555" stroke-width="0.6"/>
<line x1="171.23" y1="288.75" x2="171.23" y2="290.05" stroke="#555" stroke-width="0.6"/>
<line x1="172.33" y1="288.75" x2="172.33" y2="290.05" stroke="#555" stroke-width="0.6"/>
<line x1="173.27" y1="288.75" x2="173.27" y2="290.05" stroke="#555" stroke-width="0.6"/>
<line x1="174.10" y1="288.75" x2="174.10" y2="290.05" stroke="#555" stroke-width="0.6"/>
<line x1="174.85" y1="288.75" x2="174.85" y2="290.95" stroke="#2a2a2a" stroke-width="1.0"/>
<text x="174.25" y="297.55" font-size="6.6" text-anchor="start" fill="#222" textLength="6.00" lengthAdjust="spacingAndGlyphs" stroke="#222" stroke-width="0.12">10</text>
<text x="180.35" y="294.35" font-size="3.8" text-anchor="start" fill="#333" stroke="#333" stroke-width="0.12">2</text>
<line x1="179.31" y1="288.75" x2="179.31" y2="290.05" stroke="#555" stroke-width="0.6"/>
<line x1="181.91" y1="288.75" x2="181.91" y2="290.05" stroke="#555" stroke-width="0.6"/>
<line x1="183.76" y1="288.75" x2="183.76" y2="290.05" stroke="#555" stroke-width="0.6"/>
<line x1="185.19" y1="288.75" x2="185.19" y2="290.05" stroke="#555" stroke-width="0.6"/>
<line x1="186.37" y1="288.75" x2="186.37" y2="290.05" stroke="#555" stroke-width="0.6"/>
<line x1="187.36" y1="288.75" x2="187.36" y2="290.05" stroke="#555" stroke-width="0.6"/>
<line x1="188.22" y1="288.75" x2="188.22" y2="290.05" stroke="#555" stroke-width="0.6"/>
<line x1="188.97" y1="288.75" x2="188.97" y2="290.05" stroke="#555" stroke-width="0.6"/>
<line x1="189.65" y1="288.75" x2="189.65" y2="290.95" stroke="#2a2a2a" stroke-width="1.0"/>
<text x="189.05" y="297.55" font-size="6.6" text-anchor="start" fill="#222" textLength="6.00" lengthAdjust="spacingAndGlyphs" stroke="#222" stroke-width="0.12">10</text>
<text x="195.15" y="294.35" font-size="3.8" text-anchor="start" fill="#333" stroke="#333" stroke-width="0.12">3</text>
<line x1="194.59" y1="288.75" x2="194.59" y2="290.05" stroke="#555" stroke-width="0.6"/>
<line x1="197.47" y1="288.75" x2="197.47" y2="290.05" stroke="#555" stroke-width="0.6"/>
<line x1="199.52" y1="288.75" x2="199.52" y2="290.05" stroke="#555" stroke-width="0.6"/>
<line x1="201.11" y1="288.75" x2="201.11" y2="290.05" stroke="#555" stroke-width="0.6"/>
<line x1="202.41" y1="288.75" x2="202.41" y2="290.05" stroke="#555" stroke-width="0.6"/>
<line x1="203.51" y1="288.75" x2="203.51" y2="290.05" stroke="#555" stroke-width="0.6"/>
<line x1="204.46" y1="288.75" x2="204.46" y2="290.05" stroke="#555" stroke-width="0.6"/>
<line x1="205.30" y1="288.75" x2="205.30" y2="290.05" stroke="#555" stroke-width="0.6"/>
<line x1="206.05" y1="288.75" x2="206.05" y2="290.95" stroke="#2a2a2a" stroke-width="1.0"/>
<text x="205.45" y="297.55" font-size="6.6" text-anchor="start" fill="#222" textLength="6.00" lengthAdjust="spacingAndGlyphs" stroke="#222" stroke-width="0.12">10</text>
<text x="211.55" y="294.35" font-size="3.8" text-anchor="start" fill="#333" stroke="#333" stroke-width="0.12">4</text>
<line x1="210.96" y1="288.75" x2="210.96" y2="290.05" stroke="#555" stroke-width="0.6"/>
<line x1="213.83" y1="288.75" x2="213.83" y2="290.05" stroke="#555" stroke-width="0.6"/>
<line x1="215.86" y1="288.75" x2="215.86" y2="290.05" stroke="#555" stroke-width="0.6"/>
<line x1="217.44" y1="288.75" x2="217.44" y2="290.05" stroke="#555" stroke-width="0.6"/>
<line x1="218.73" y1="288.75" x2="218.73" y2="290.05" stroke="#555" stroke-width="0.6"/>
<line x1="219.83" y1="288.75" x2="219.83" y2="290.05" stroke="#555" stroke-width="0.6"/>
<line x1="220.77" y1="288.75" x2="220.77" y2="290.05" stroke="#555" stroke-width="0.6"/>
<line x1="221.60" y1="288.75" x2="221.60" y2="290.05" stroke="#555" stroke-width="0.6"/>
<line x1="222.35" y1="288.75" x2="222.35" y2="290.95" stroke="#2a2a2a" stroke-width="1.0"/>
<text x="221.75" y="297.55" font-size="6.6" text-anchor="start" fill="#222" textLength="6.00" lengthAdjust="spacingAndGlyphs" stroke="#222" stroke-width="0.12">10</text>
<text x="227.85" y="294.35" font-size="3.8" text-anchor="start" fill="#333" stroke="#333" stroke-width="0.12">5</text>
<text x="181.75" y="311.35" font-size="10.3" text-anchor="middle" fill="#222" textLength="14.00" lengthAdjust="spacingAndGlyphs" stroke="#222" stroke-width="0.12">CD3</text>
<path d="M164.4 252.8h1v1h-1zM199.5 245.9h1v1h-1zM199.6 269.7h1v1h-1zM182.5 225.1h1v1h-1zM199.3 237.7h1v1h-1zM178.0 230.5h1v1h-1zM175.4 246.5h1v1h-1zM200.8 254.0h1v1h-1zM162.7 257.9h1v1h-1zM201.2 271.4h1v1h-1zM171.4 233.8h1v1h-1zM195.6 243.4h1v1h-1zM171.9 245.0h1v1h-1zM193.3 253.5h1v1h-1zM201.6 257.7h1v1h-1zM207.0 237.1h1v1h-1zM178.4 249.2h1v1h-1zM177.0 234.8h1v1h-1zM198.7 239.8h1v1h-1zM208.9 233.3h1v1h-1zM187.5 250.1h1v1h-1zM171.8 248.9h1v1h-1zM194.8 237.8h1v1h-1zM182.4 228.1h1v1h-1zM195.8 276.9h1v1h-1zM200.8 231.0h1v1h-1zM175.3 241.1h1v1h-1zM191.3 252.5h1v1h-1zM197.6 271.0h1v1h-1zM191.7 279.0h1v1h-1zM176.7 249.1h1v1h-1zM174.8 233.7h1v1h-1zM200.4 231.0h1v1h-1zM177.3 236.9h1v1h-1zM171.2 254.8h1v1h-1zM167.9 273.0h1v1h-1zM178.3 273.0h1v1h-1zM195.1 230.9h1v1h-1zM190.2 277.7h1v1h-1zM183.2 230.6h1v1h-1zM188.9 251.2h1v1h-1zM191.2 244.8h1v1h-1zM193.5 256.8h1v1h-1zM170.0 256.4h1v1h-1zM198.4 265.1h1v1h-1zM176.1 252.1h1v1h-1zM169.6 257.7h1v1h-1zM188.0 274.8h1v1h-1zM197.3 269.9h1v1h-1zM180.1 253.4h1v1h-1zM197.9 265.4h1v1h-1zM150.7 262.7h1v1h-1zM198.1 262.2h1v1h-1zM174.5 234.7h1v1h-1zM195.0 235.6h1v1h-1zM161.0 272.9h1v1h-1zM195.4 274.6h1v1h-1zM193.5 240.8h1v1h-1zM151.1 265.0h1v1h-1zM177.5 252.8h1v1h-1zM194.3 232.7h1v1h-1zM184.9 251.3h1v1h-1zM174.1 274.2h1v1h-1zM182.4 251.0h1v1h-1zM195.2 273.0h1v1h-1zM179.7 255.5h1v1h-1zM155.2 262.6h1v1h-1zM181.5 231.8h1v1h-1zM188.7 247.1h1v1h-1zM196.6 267.1h1v1h-1zM187.5 275.5h1v1h-1zM187.7 247.0h1v1h-1zM178.0 256.6h1v1h-1zM150.8 263.7h1v1h-1zM179.1 258.6h1v1h-1zM197.3 264.1h1v1h-1zM173.4 256.8h1v1h-1zM186.0 230.6h1v1h-1zM154.7 263.6h1v1h-1zM184.9 273.9h1v1h-1zM198.2 260.6h1v1h-1zM190.2 243.8h1v1h-1zM154.3 271.1h1v1h-1zM181.9 273.9h1v1h-1zM182.8 251.7h1v1h-1zM181.5 271.4h1v1h-1zM157.8 270.9h1v1h-1zM176.2 255.4h1v1h-1zM180.3 258.8h1v1h-1zM182.5 232.5h1v1h-1zM159.0 270.9h1v1h-1z" fill="rgb(138, 154, 231)" opacity="0.55"/>
<path d="M151.7 269.6h1v1h-1zM184.5 273.3h1v1h-1zM180.9 270.8h1v1h-1zM178.7 253.0h1v1h-1zM195.0 274.8h1v1h-1zM163.6 260.3h1v1h-1zM165.9 272.4h1v1h-1zM181.2 272.9h1v1h-1zM173.8 257.2h1v1h-1zM159.8 261.4h1v1h-1zM180.8 273.8h1v1h-1zM196.1 259.6h1v1h-1zM153.0 270.5h1v1h-1zM183.7 250.6h1v1h-1zM182.3 255.1h1v1h-1zM156.3 262.3h1v1h-1zM180.5 256.2h1v1h-1zM160.9 272.5h1v1h-1zM183.8 249.1h1v1h-1zM192.6 240.5h1v1h-1zM198.0 261.2h1v1h-1zM180.8 260.1h1v1h-1zM180.2 242.4h1v1h-1zM192.9 241.0h1v1h-1zM196.9 259.7h1v1h-1zM194.0 275.4h1v1h-1zM177.7 240.0h1v1h-1zM184.0 254.6h1v1h-1zM153.5 269.3h1v1h-1zM153.9 270.0h1v1h-1zM170.9 272.3h1v1h-1zM186.2 271.9h1v1h-1zM191.7 255.9h1v1h-1zM173.2 258.7h1v1h-1zM174.3 254.9h1v1h-1zM191.7 258.1h1v1h-1zM189.4 230.9h1v1h-1zM166.7 260.3h1v1h-1zM180.7 234.4h1v1h-1zM188.0 254.0h1v1h-1zM175.9 257.7h1v1h-1zM188.1 244.3h1v1h-1zM177.1 258.7h1v1h-1zM188.7 253.7h1v1h-1zM192.9 237.0h1v1h-1zM164.7 260.7h1v1h-1zM178.3 240.9h1v1h-1zM159.5 261.4h1v1h-1zM177.9 258.1h1v1h-1zM160.4 262.6h1v1h-1zM174.9 272.5h1v1h-1zM193.6 275.7h1v1h-1zM179.3 240.8h1v1h-1zM166.3 270.9h1v1h-1zM195.5 270.4h1v1h-1zM192.7 236.6h1v1h-1zM180.4 234.4h1v1h-1zM175.5 255.8h1v1h-1zM154.6 269.4h1v1h-1zM184.7 255.0h1v1h-1zM183.2 264.7h1v1h-1zM153.3 265.1h1v1h-1zM176.4 254.8h1v1h-1zM182.4 261.9h1v1h-1zM180.5 271.0h1v1h-1zM151.9 266.2h1v1h-1zM160.5 270.5h1v1h-1zM181.1 257.7h1v1h-1zM158.1 262.2h1v1h-1zM192.5 238.4h1v1h-1zM182.7 233.7h1v1h-1zM190.6 274.7h1v1h-1zM161.5 271.1h1v1h-1zM187.1 256.4h1v1h-1zM155.5 267.0h1v1h-1zM176.4 257.8h1v1h-1zM184.6 249.3h1v1h-1zM190.4 254.9h1v1h-1zM182.8 246.8h1v1h-1zM172.2 258.1h1v1h-1zM190.4 255.0h1v1h-1zM193.1 232.1h1v1h-1zM190.9 255.4h1v1h-1zM183.4 260.8h1v1h-1zM169.9 259.6h1v1h-1zM194.9 259.7h1v1h-1zM185.1 247.3h1v1h-1zM193.5 234.5h1v1h-1zM150.6 267.5h1v1h-1zM182.5 256.8h1v1h-1zM183.8 255.5h1v1h-1zM187.3 256.0h1v1h-1zM181.4 245.7h1v1h-1zM192.0 274.2h1v1h-1zM188.3 231.3h1v1h-1zM169.3 258.8h1v1h-1zM179.1 271.5h1v1h-1zM164.8 260.1h1v1h-1zM183.9 259.1h1v1h-1zM172.7 260.5h1v1h-1zM152.5 265.0h1v1h-1zM162.6 262.0h1v1h-1zM164.4 271.1h1v1h-1zM157.6 262.1h1v1h-1zM151.6 267.0h1v1h-1zM186.7 245.1h1v1h-1zM182.7 247.5h1v1h-1zM166.8 260.7h1v1h-1zM184.0 257.1h1v1h-1zM183.5 246.1h1v1h-1zM196.0 260.2h1v1h-1zM186.0 270.9h1v1h-1zM195.3 268.3h1v1h-1zM152.9 266.9h1v1h-1zM160.5 261.4h1v1h-1zM180.7 260.0h1v1h-1zM188.8 256.4h1v1h-1zM187.9 254.0h1v1h-1zM180.5 238.5h1v1h-1zM163.3 271.0h1v1h-1zM182.9 234.2h1v1h-1zM195.6 266.4h1v1h-1zM171.7 271.8h1v1h-1zM185.1 272.4h1v1h-1zM192.3 233.6h1v1h-1zM182.6 262.9h1v1h-1zM165.8 261.3h1v1h-1zM191.6 238.7h1v1h-1zM181.6 258.9h1v1h-1zM186.3 254.9h1v1h-1zM186.6 244.4h1v1h-1zM181.4 241.6h1v1h-1zM183.4 256.7h1v1h-1zM181.8 263.1h1v1h-1zM189.3 242.1h1v1h-1zM184.8 245.4h1v1h-1zM188.1 230.8h1v1h-1zM154.7 266.5h1v1h-1zM153.6 266.1h1v1h-1zM179.7 270.3h1v1h-1zM164.4 261.3h1v1h-1zM177.2 259.8h1v1h-1zM168.5 271.5h1v1h-1zM153.5 266.8h1v1h-1zM183.3 247.3h1v1h-1zM182.8 258.9h1v1h-1zM182.7 234.0h1v1h-1zM189.4 273.0h1v1h-1zM189.9 257.2h1v1h-1zM157.7 264.3h1v1h-1zM190.0 274.4h1v1h-1zM179.7 238.3h1v1h-1zM160.8 262.8h1v1h-1zM177.9 271.5h1v1h-1zM156.5 268.3h1v1h-1zM183.9 258.7h1v1h-1zM183.1 263.3h1v1h-1zM181.4 236.3h1v1h-1zM192.2 241.3h1v1h-1zM183.3 256.7h1v1h-1zM184.3 261.7h1v1h-1zM189.7 232.6h1v1h-1zM191.0 257.5h1v1h-1zM186.1 246.1h1v1h-1zM185.3 256.5h1v1h-1zM173.6 271.9h1v1h-1zM157.7 269.4h1v1h-1zM161.6 262.4h1v1h-1zM190.9 232.4h1v1h-1zM151.8 267.7h1v1h-1zM174.7 260.5h1v1h-1zM164.2 263.6h1v1h-1zM186.7 245.7h1v1h-1zM191.7 240.0h1v1h-1zM156.1 265.5h1v1h-1zM187.1 258.6h1v1h-1zM194.6 261.5h1v1h-1zM175.4 270.9h1v1h-1zM188.4 273.4h1v1h-1zM165.7 270.8h1v1h-1zM183.4 269.3h1v1h-1zM189.9 257.3h1v1h-1zM159.1 264.7h1v1h-1zM170.6 270.8h1v1h-1zM195.3 259.9h1v1h-1zM183.4 268.8h1v1h-1zM174.3 261.3h1v1h-1zM192.4 235.1h1v1h-1zM166.1 263.6h1v1h-1zM184.3 245.8h1v1h-1zM162.6 264.8h1v1h-1zM157.7 264.6h1v1h-1zM170.9 259.6h1v1h-1zM174.7 271.5h1v1h-1zM179.7 261.9h1v1h-1zM161.0 265.2h1v1h-1zM181.2 238.7h1v1h-1zM159.1 269.4h1v1h-1zM172.3 260.9h1v1h-1zM186.0 231.9h1v1h-1z" fill="rgb(112, 133, 224)" opacity="0.64"/>
<path d="M171.4 260.2h1v1h-1zM182.3 263.6h1v1h-1zM195.8 266.5h1v1h-1zM180.5 263.4h1v1h-1zM174.4 261.6h1v1h-1zM158.7 263.6h1v1h-1zM163.2 265.5h1v1h-1zM185.7 256.1h1v1h-1zM174.3 271.7h1v1h-1zM168.0 270.7h1v1h-1zM161.5 265.9h1v1h-1zM189.4 241.8h1v1h-1zM177.3 261.4h1v1h-1zM155.4 266.0h1v1h-1zM184.1 247.6h1v1h-1zM191.1 258.1h1v1h-1zM183.2 242.8h1v1h-1zM184.5 259.1h1v1h-1zM184.4 245.4h1v1h-1zM160.8 269.3h1v1h-1zM192.6 272.0h1v1h-1zM181.7 265.0h1v1h-1zM191.9 240.2h1v1h-1zM185.1 260.4h1v1h-1zM159.9 268.8h1v1h-1zM182.5 267.6h1v1h-1zM171.5 271.5h1v1h-1zM161.4 265.2h1v1h-1zM179.6 238.9h1v1h-1zM191.6 258.5h1v1h-1zM157.6 266.9h1v1h-1zM186.5 242.9h1v1h-1zM157.1 265.7h1v1h-1zM164.0 264.7h1v1h-1zM186.9 243.8h1v1h-1zM157.3 268.1h1v1h-1zM157.4 263.9h1v1h-1zM182.3 243.3h1v1h-1zM190.2 232.6h1v1h-1zM192.9 259.6h1v1h-1zM186.0 258.3h1v1h-1zM184.0 268.7h1v1h-1zM165.1 263.1h1v1h-1zM184.6 259.9h1v1h-1zM170.6 260.7h1v1h-1zM189.3 273.1h1v1h-1zM193.0 235.6h1v1h-1zM179.2 269.8h1v1h-1zM172.4 260.2h1v1h-1zM183.5 269.6h1v1h-1zM195.2 269.2h1v1h-1zM158.4 264.7h1v1h-1zM176.9 260.6h1v1h-1zM160.6 265.6h1v1h-1zM184.1 247.1h1v1h-1zM169.5 260.5h1v1h-1zM155.9 265.7h1v1h-1zM181.5 239.1h1v1h-1zM185.0 243.0h1v1h-1zM192.7 234.5h1v1h-1zM181.0 267.6h1v1h-1zM182.4 246.3h1v1h-1zM174.5 271.0h1v1h-1zM164.1 269.9h1v1h-1zM186.2 258.4h1v1h-1zM169.3 262.6h1v1h-1zM167.0 261.8h1v1h-1zM193.9 261.7h1v1h-1zM153.7 266.6h1v1h-1zM194.7 265.4h1v1h-1zM176.5 259.9h1v1h-1zM184.0 266.4h1v1h-1zM163.2 265.2h1v1h-1zM161.0 263.4h1v1h-1zM167.7 262.5h1v1h-1zM189.6 272.1h1v1h-1zM186.0 258.1h1v1h-1zM158.7 267.0h1v1h-1zM191.2 239.9h1v1h-1zM157.9 267.0h1v1h-1zM182.6 242.6h1v1h-1zM183.2 240.9h1v1h-1zM188.8 259.4h1v1h-1zM185.5 263.6h1v1h-1zM183.5 266.7h1v1h-1zM182.7 242.8h1v1h-1zM182.6 242.3h1v1h-1zM160.7 263.1h1v1h-1zM192.8 270.7h1v1h-1zM190.0 272.8h1v1h-1zM190.8 232.5h1v1h-1zM182.6 244.7h1v1h-1zM184.6 268.4h1v1h-1zM191.9 234.1h1v1h-1zM181.0 263.0h1v1h-1zM160.8 266.9h1v1h-1zM178.4 261.9h1v1h-1zM194.7 260.5h1v1h-1zM182.9 242.8h1v1h-1zM181.0 268.1h1v1h-1zM183.6 234.5h1v1h-1zM165.9 270.3h1v1h-1zM190.1 256.8h1v1h-1zM158.7 266.1h1v1h-1zM181.6 240.6h1v1h-1zM166.4 264.7h1v1h-1zM180.5 240.0h1v1h-1zM170.2 260.8h1v1h-1zM161.1 266.3h1v1h-1zM163.8 269.1h1v1h-1zM159.4 266.1h1v1h-1zM191.0 236.4h1v1h-1zM165.4 266.6h1v1h-1zM187.3 259.6h1v1h-1zM192.1 272.1h1v1h-1zM166.2 265.0h1v1h-1zM179.8 262.5h1v1h-1zM165.3 263.0h1v1h-1zM185.4 270.6h1v1h-1zM162.6 266.8h1v1h-1zM164.6 269.9h1v1h-1zM188.1 258.3h1v1h-1zM189.8 240.8h1v1h-1zM184.8 270.7h1v1h-1zM181.6 264.9h1v1h-1zM160.4 268.9h1v1h-1zM187.3 242.2h1v1h-1zM191.5 236.5h1v1h-1zM155.4 267.0h1v1h-1zM194.8 265.1h1v1h-1zM184.5 264.9h1v1h-1zM181.7 266.2h1v1h-1zM191.6 234.8h1v1h-1zM181.1 239.9h1v1h-1zM158.4 265.1h1v1h-1zM168.6 261.3h1v1h-1zM179.5 268.7h1v1h-1zM166.5 269.9h1v1h-1zM186.4 259.7h1v1h-1zM188.4 242.1h1v1h-1zM164.8 264.4h1v1h-1zM192.2 234.4h1v1h-1zM161.0 268.5h1v1h-1zM193.3 268.2h1v1h-1zM195.1 270.5h1v1h-1zM190.3 233.1h1v1h-1zM177.5 261.6h1v1h-1zM180.2 262.6h1v1h-1zM171.2 271.0h1v1h-1zM170.3 270.3h1v1h-1zM188.2 270.9h1v1h-1zM166.0 265.5h1v1h-1zM182.6 244.2h1v1h-1zM162.8 270.5h1v1h-1zM184.9 242.1h1v1h-1zM194.3 269.6h1v1h-1zM189.0 234.5h1v1h-1zM163.6 267.7h1v1h-1zM180.9 267.3h1v1h-1zM181.2 266.5h1v1h-1zM165.9 269.5h1v1h-1zM160.8 267.5h1v1h-1zM186.1 260.9h1v1h-1zM168.0 269.5h1v1h-1zM194.7 261.4h1v1h-1zM189.1 242.3h1v1h-1zM193.6 261.4h1v1h-1zM191.0 238.6h1v1h-1zM184.4 267.7h1v1h-1zM158.9 266.9h1v1h-1zM180.7 265.1h1v1h-1zM164.8 267.4h1v1h-1zM178.2 261.7h1v1h-1zM171.9 261.6h1v1h-1zM161.0 267.6h1v1h-1zM182.1 266.6h1v1h-1zM191.2 259.3h1v1h-1zM188.3 242.1h1v1h-1zM166.6 264.4h1v1h-1zM172.6 270.3h1v1h-1zM171.7 261.1h1v1h-1zM164.2 268.1h1v1h-1zM191.4 235.9h1v1h-1zM188.9 232.8h1v1h-1zM166.4 267.9h1v1h-1zM181.6 238.4h1v1h-1zM158.5 266.6h1v1h-1zM162.4 270.2h1v1h-1zM184.8 242.7h1v1h-1zM181.3 238.2h1v1h-1zM183.7 235.3h1v1h-1zM179.0 269.2h1v1h-1zM189.9 259.2h1v1h-1zM186.3 259.6h1v1h-1zM186.2 260.4h1v1h-1zM182.0 238.2h1v1h-1z" fill="rgb(88, 111, 217)" opacity="0.73"/>
<path d="M193.0 271.2h1v1h-1zM189.8 233.1h1v1h-1zM184.6 264.8h1v1h-1zM187.1 270.0h1v1h-1zM194.0 270.5h1v1h-1zM159.4 269.2h1v1h-1zM188.9 258.8h1v1h-1zM179.6 264.5h1v1h-1zM178.1 261.4h1v1h-1zM163.3 266.4h1v1h-1zM192.1 235.5h1v1h-1zM194.3 263.3h1v1h-1zM194.4 263.0h1v1h-1zM178.2 269.0h1v1h-1zM187.4 232.9h1v1h-1zM162.7 269.2h1v1h-1zM193.8 268.8h1v1h-1zM194.5 263.3h1v1h-1zM186.6 234.4h1v1h-1zM178.4 268.0h1v1h-1zM188.5 234.6h1v1h-1zM194.5 265.9h1v1h-1zM189.5 271.8h1v1h-1zM173.5 262.6h1v1h-1zM162.5 268.0h1v1h-1zM159.9 267.8h1v1h-1zM171.4 270.3h1v1h-1zM187.8 242.5h1v1h-1zM179.6 265.2h1v1h-1zM190.6 235.8h1v1h-1zM185.4 267.9h1v1h-1zM158.7 267.9h1v1h-1zM190.8 259.5h1v1h-1zM194.6 263.1h1v1h-1zM182.3 241.7h1v1h-1zM192.4 271.0h1v1h-1zM178.5 269.1h1v1h-1zM193.2 270.2h1v1h-1zM189.5 234.1h1v1h-1zM183.2 238.4h1v1h-1zM176.0 270.1h1v1h-1zM158.6 268.5h1v1h-1zM164.1 267.9h1v1h-1zM165.0 268.6h1v1h-1zM191.0 271.8h1v1h-1zM194.5 264.5h1v1h-1zM186.6 261.3h1v1h-1zM162.4 267.8h1v1h-1zM193.9 269.0h1v1h-1zM159.6 267.5h1v1h-1zM165.4 269.2h1v1h-1zM164.7 266.8h1v1h-1zM166.2 267.2h1v1h-1zM178.3 262.4h1v1h-1zM186.6 242.9h1v1h-1zM186.4 262.7h1v1h-1zM168.1 267.9h1v1h-1zM162.9 268.1h1v1h-1zM190.7 234.0h1v1h-1zM166.7 268.4h1v1h-1zM174.4 262.3h1v1h-1zM161.8 267.3h1v1h-1zM185.7 263.6h1v1h-1zM169.8 262.0h1v1h-1zM178.8 268.0h1v1h-1zM191.1 239.4h1v1h-1zM163.5 268.1h1v1h-1zM163.9 267.8h1v1h-1zM185.5 262.6h1v1h-1zM167.1 263.0h1v1h-1zM178.4 262.5h1v1h-1zM168.9 269.8h1v1h-1zM178.1 268.8h1v1h-1zM194.6 266.1h1v1h-1zM193.4 262.2h1v1h-1zM186.4 261.6h1v1h-1zM191.2 260.0h1v1h-1zM179.7 267.7h1v1h-1zM164.9 267.2h1v1h-1zM166.6 269.7h1v1h-1zM177.7 262.5h1v1h-1zM189.5 237.4h1v1h-1zM171.9 262.3h1v1h-1zM162.1 269.1h1v1h-1zM166.5 266.8h1v1h-1zM194.0 267.3h1v1h-1zM171.4 262.1h1v1h-1zM166.6 268.6h1v1h-1zM178.5 264.8h1v1h-1zM185.9 268.8h1v1h-1zM164.9 269.3h1v1h-1zM185.8 234.3h1v1h-1zM178.4 267.3h1v1h-1zM185.0 234.4h1v1h-1zM186.9 262.9h1v1h-1zM164.0 267.1h1v1h-1zM191.2 260.7h1v1h-1zM178.6 269.0h1v1h-1zM186.0 268.2h1v1h-1zM190.1 236.5h1v1h-1zM192.8 261.1h1v1h-1zM189.2 240.3h1v1h-1zM191.1 272.1h1v1h-1zM192.5 271.3h1v1h-1zM168.7 270.2h1v1h-1zM176.7 262.1h1v1h-1zM162.5 266.0h1v1h-1zM162.7 268.4h1v1h-1zM188.1 259.9h1v1h-1zM192.5 260.8h1v1h-1zM191.2 260.7h1v1h-1zM189.9 239.3h1v1h-1zM183.9 235.6h1v1h-1zM189.5 235.2h1v1h-1zM179.1 263.1h1v1h-1zM168.2 267.7h1v1h-1zM175.0 262.6h1v1h-1zM164.6 269.2h1v1h-1zM186.8 241.5h1v1h-1zM164.6 266.8h1v1h-1zM168.1 266.1h1v1h-1zM193.3 262.6h1v1h-1zM165.0 268.7h1v1h-1zM183.5 241.6h1v1h-1zM177.7 267.8h1v1h-1zM186.8 261.6h1v1h-1zM190.7 271.0h1v1h-1zM193.4 265.9h1v1h-1zM167.9 269.1h1v1h-1zM178.5 267.4h1v1h-1zM175.4 268.8h1v1h-1zM169.2 263.2h1v1h-1zM184.6 267.5h1v1h-1zM186.3 234.0h1v1h-1zM190.1 271.6h1v1h-1zM175.4 262.7h1v1h-1zM168.1 262.9h1v1h-1zM184.9 234.7h1v1h-1zM188.7 241.6h1v1h-1zM168.1 262.9h1v1h-1zM193.7 262.1h1v1h-1zM189.1 234.3h1v1h-1zM191.7 260.8h1v1h-1zM175.5 269.7h1v1h-1zM167.5 265.1h1v1h-1z" fill="rgb(70, 109, 211)" opacity="0.82"/>
<path d="M193.7 264.6h1v1h-1zM176.5 269.1h1v1h-1zM178.6 266.4h1v1h-1zM193.0 269.9h1v1h-1zM170.3 262.9h1v1h-1zM167.8 263.4h1v1h-1zM189.3 260.7h1v1h-1zM189.4 260.0h1v1h-1zM183.4 237.1h1v1h-1zM194.2 268.3h1v1h-1zM183.6 238.6h1v1h-1zM189.6 235.2h1v1h-1zM193.5 263.2h1v1h-1zM178.5 264.7h1v1h-1zM186.1 267.5h1v1h-1zM186.8 269.3h1v1h-1zM193.5 263.1h1v1h-1zM166.4 267.7h1v1h-1zM193.8 265.1h1v1h-1zM178.4 263.8h1v1h-1zM167.8 264.5h1v1h-1zM167.5 263.2h1v1h-1zM177.8 262.4h1v1h-1zM185.6 267.3h1v1h-1zM173.6 269.0h1v1h-1zM168.1 266.7h1v1h-1zM194.5 265.0h1v1h-1zM194.0 263.1h1v1h-1zM189.5 238.0h1v1h-1zM186.5 265.3h1v1h-1zM177.7 267.9h1v1h-1zM169.2 266.3h1v1h-1zM188.6 239.8h1v1h-1zM183.0 237.1h1v1h-1zM186.0 267.9h1v1h-1zM194.1 268.8h1v1h-1zM192.7 269.6h1v1h-1zM185.2 234.8h1v1h-1zM176.5 269.0h1v1h-1zM189.3 259.9h1v1h-1zM178.8 267.9h1v1h-1zM185.7 268.2h1v1h-1zM171.1 263.5h1v1h-1zM189.8 235.1h1v1h-1zM177.9 263.0h1v1h-1zM173.2 269.3h1v1h-1zM183.9 241.0h1v1h-1zM176.2 263.6h1v1h-1zM168.7 263.0h1v1h-1zM172.5 270.3h1v1h-1zM167.5 266.3h1v1h-1zM189.0 240.5h1v1h-1zM179.9 263.8h1v1h-1zM177.6 267.8h1v1h-1zM189.4 236.1h1v1h-1zM169.4 264.5h1v1h-1zM178.5 264.2h1v1h-1zM187.0 261.7h1v1h-1zM172.7 269.6h1v1h-1zM192.7 261.8h1v1h-1zM192.4 270.0h1v1h-1zM174.6 269.4h1v1h-1zM178.8 265.0h1v1h-1zM192.5 262.3h1v1h-1zM191.0 261.5h1v1h-1zM179.4 265.2h1v1h-1zM188.7 239.9h1v1h-1zM176.3 267.9h1v1h-1zM174.3 269.0h1v1h-1zM169.1 264.6h1v1h-1zM177.8 268.6h1v1h-1zM192.7 269.6h1v1h-1zM189.2 238.8h1v1h-1zM185.6 264.9h1v1h-1zM193.8 265.2h1v1h-1zM178.3 263.2h1v1h-1zM167.9 267.2h1v1h-1zM188.3 234.7h1v1h-1zM185.9 267.9h1v1h-1zM189.6 235.5h1v1h-1zM170.6 269.2h1v1h-1zM168.6 265.1h1v1h-1zM193.7 268.7h1v1h-1zM184.0 237.6h1v1h-1zM168.9 269.4h1v1h-1zM170.1 269.5h1v1h-1zM178.3 263.6h1v1h-1zM190.2 260.3h1v1h-1zM185.5 235.2h1v1h-1zM178.5 264.2h1v1h-1zM169.8 269.6h1v1h-1zM185.4 239.9h1v1h-1zM169.3 264.0h1v1h-1zM169.1 264.5h1v1h-1zM183.9 235.8h1v1h-1zM173.2 261.8h1v1h-1zM177.8 267.8h1v1h-1zM189.4 239.0h1v1h-1zM186.8 237.1h1v1h-1zM178.5 264.5h1v1h-1zM169.0 264.5h1v1h-1zM173.1 263.0h1v1h-1zM188.7 235.2h1v1h-1zM188.9 261.4h1v1h-1zM192.7 263.7h1v1h-1zM188.9 238.3h1v1h-1zM175.5 269.4h1v1h-1zM186.7 235.4h1v1h-1zM174.7 268.8h1v1h-1zM189.2 238.3h1v1h-1zM187.0 268.3h1v1h-1zM188.4 236.4h1v1h-1zM189.2 236.1h1v1h-1zM169.2 267.4h1v1h-1zM171.1 264.7h1v1h-1zM188.9 270.0h1v1h-1zM178.4 265.3h1v1h-1zM184.6 240.7h1v1h-1zM172.8 263.6h1v1h-1zM194.2 264.4h1v1h-1z" fill="rgb(56, 114, 206)" opacity="0.91"/>
<path d="M187.8 263.3h1v1h-1zM169.5 264.7h1v1h-1zM171.4 268.9h1v1h-1zM191.4 271.1h1v1h-1zM178.7 265.4h1v1h-1zM189.5 261.2h1v1h-1zM187.7 262.3h1v1h-1zM177.4 267.4h1v1h-1zM179.5 265.5h1v1h-1zM171.7 263.8h1v1h-1zM184.4 237.4h1v1h-1zM173.7 263.4h1v1h-1zM188.1 235.3h1v1h-1zM189.1 237.4h1v1h-1zM186.6 266.6h1v1h-1zM187.2 235.1h1v1h-1zM186.3 266.6h1v1h-1zM187.3 235.3h1v1h-1zM188.5 239.0h1v1h-1zM192.4 267.8h1v1h-1zM187.0 269.1h1v1h-1zM169.6 263.8h1v1h-1zM186.8 267.1h1v1h-1zM191.9 261.7h1v1h-1zM169.6 265.4h1v1h-1zM177.6 264.0h1v1h-1zM189.6 261.7h1v1h-1zM193.7 262.8h1v1h-1zM169.8 267.8h1v1h-1zM188.7 237.5h1v1h-1zM188.6 235.4h1v1h-1zM186.1 241.3h1v1h-1zM190.0 261.3h1v1h-1zM185.0 240.6h1v1h-1zM172.4 263.0h1v1h-1zM174.5 269.1h1v1h-1zM189.3 260.5h1v1h-1zM187.3 270.6h1v1h-1zM168.9 265.8h1v1h-1zM186.7 266.7h1v1h-1zM192.4 269.3h1v1h-1zM188.5 239.9h1v1h-1zM170.0 264.9h1v1h-1zM189.0 234.2h1v1h-1zM174.9 269.0h1v1h-1zM178.5 264.2h1v1h-1zM188.2 239.1h1v1h-1zM170.0 266.4h1v1h-1zM173.4 269.2h1v1h-1zM187.7 237.3h1v1h-1zM171.7 263.2h1v1h-1zM185.5 239.2h1v1h-1zM189.9 237.8h1v1h-1zM188.0 269.4h1v1h-1zM187.6 233.8h1v1h-1zM186.5 264.8h1v1h-1zM192.6 265.8h1v1h-1zM188.5 238.7h1v1h-1zM189.1 239.8h1v1h-1zM178.3 264.1h1v1h-1zM169.9 268.9h1v1h-1zM189.0 235.5h1v1h-1zM191.1 261.2h1v1h-1zM170.1 268.2h1v1h-1zM188.6 236.0h1v1h-1zM169.5 263.1h1v1h-1zM187.4 263.1h1v1h-1zM171.4 263.4h1v1h-1zM170.7 267.4h1v1h-1zM193.2 265.8h1v1h-1zM191.1 261.8h1v1h-1zM189.1 234.1h1v1h-1zM175.3 269.0h1v1h-1zM177.3 266.8h1v1h-1zM171.1 268.2h1v1h-1zM188.7 261.9h1v1h-1zM187.1 264.8h1v1h-1zM169.3 263.0h1v1h-1zM188.9 237.9h1v1h-1zM175.7 263.3h1v1h-1zM171.1 264.5h1v1h-1zM183.5 238.0h1v1h-1zM185.8 241.0h1v1h-1zM190.6 261.1h1v1h-1zM187.7 239.3h1v1h-1zM186.8 241.6h1v1h-1zM175.4 264.2h1v1h-1zM191.4 270.3h1v1h-1zM177.9 263.5h1v1h-1zM186.1 233.9h1v1h-1zM186.6 264.8h1v1h-1zM186.3 235.9h1v1h-1zM170.2 268.0h1v1h-1zM187.5 235.0h1v1h-1zM185.0 236.0h1v1h-1zM190.2 262.0h1v1h-1zM172.7 263.1h1v1h-1zM192.5 267.1h1v1h-1zM176.4 264.4h1v1h-1zM174.7 263.1h1v1h-1zM191.2 271.0h1v1h-1zM187.1 268.6h1v1h-1zM186.1 239.2h1v1h-1zM171.3 265.4h1v1h-1zM188.2 240.8h1v1h-1zM193.3 265.2h1v1h-1zM191.6 271.3h1v1h-1zM178.7 266.8h1v1h-1zM187.4 239.7h1v1h-1zM190.8 260.9h1v1h-1zM190.3 263.7h1v1h-1zM178.6 265.4h1v1h-1zM185.2 236.4h1v1h-1zM187.5 268.6h1v1h-1zM168.5 268.5h1v1h-1zM176.1 263.7h1v1h-1zM171.5 269.3h1v1h-1zM184.4 240.6h1v1h-1zM186.8 266.9h1v1h-1zM190.7 270.8h1v1h-1zM184.2 237.3h1v1h-1zM188.2 263.9h1v1h-1zM171.5 264.9h1v1h-1zM170.6 267.9h1v1h-1zM192.5 268.3h1v1h-1zM187.3 236.8h1v1h-1zM186.4 267.7h1v1h-1zM174.0 263.7h1v1h-1zM187.8 240.2h1v1h-1zM176.2 267.9h1v1h-1zM187.0 264.3h1v1h-1zM187.8 262.4h1v1h-1zM175.6 264.2h1v1h-1zM188.4 239.2h1v1h-1zM169.1 267.3h1v1h-1zM190.9 270.6h1v1h-1zM177.3 264.8h1v1h-1zM194.2 264.2h1v1h-1zM171.9 265.5h1v1h-1zM185.5 235.7h1v1h-1zM171.4 267.8h1v1h-1zM176.9 267.5h1v1h-1zM186.3 236.4h1v1h-1zM193.5 265.4h1v1h-1zM186.9 267.9h1v1h-1zM178.4 266.3h1v1h-1zM186.8 239.9h1v1h-1zM188.7 237.1h1v1h-1zM192.5 265.1h1v1h-1zM173.3 268.1h1v1h-1zM170.5 268.2h1v1h-1zM189.2 235.2h1v1h-1zM169.8 267.2h1v1h-1zM191.3 270.4h1v1h-1zM191.4 264.3h1v1h-1zM189.3 261.0h1v1h-1zM189.9 234.9h1v1h-1zM169.7 266.1h1v1h-1zM191.5 269.1h1v1h-1zM172.7 263.4h1v1h-1zM186.1 239.8h1v1h-1zM186.5 240.0h1v1h-1zM188.2 263.6h1v1h-1zM192.8 266.7h1v1h-1zM170.0 266.8h1v1h-1zM187.7 267.1h1v1h-1zM172.7 263.6h1v1h-1zM185.1 236.1h1v1h-1zM187.0 239.2h1v1h-1zM172.0 265.2h1v1h-1zM184.0 238.4h1v1h-1zM184.9 240.6h1v1h-1zM173.7 264.0h1v1h-1zM191.9 262.9h1v1h-1zM176.5 267.6h1v1h-1zM187.1 235.7h1v1h-1zM170.4 264.5h1v1h-1zM179.2 266.1h1v1h-1zM169.0 264.7h1v1h-1zM188.1 238.4h1v1h-1zM187.6 236.6h1v1h-1z" fill="rgb(41, 119, 201)" opacity="1.00"/>
<path d="M175.9 266.8h1v1h-1zM193.0 265.6h1v1h-1zM188.2 264.2h1v1h-1zM175.0 266.8h1v1h-1zM187.4 235.6h1v1h-1zM170.6 267.7h1v1h-1zM171.5 264.7h1v1h-1zM177.3 263.7h1v1h-1zM173.2 267.9h1v1h-1zM169.7 268.1h1v1h-1zM178.1 267.5h1v1h-1zM192.8 262.8h1v1h-1zM191.4 270.3h1v1h-1zM186.3 266.4h1v1h-1zM188.8 237.4h1v1h-1zM169.9 268.3h1v1h-1zM178.1 264.9h1v1h-1zM192.4 267.9h1v1h-1zM188.5 240.4h1v1h-1zM176.1 268.2h1v1h-1zM177.7 267.2h1v1h-1zM175.3 266.9h1v1h-1zM193.7 264.7h1v1h-1zM193.4 265.5h1v1h-1zM187.2 266.7h1v1h-1zM187.5 237.9h1v1h-1zM184.4 238.1h1v1h-1zM175.3 263.3h1v1h-1zM170.2 267.5h1v1h-1zM186.0 241.4h1v1h-1zM175.0 269.1h1v1h-1zM175.6 267.8h1v1h-1zM192.4 267.2h1v1h-1zM178.9 265.7h1v1h-1zM179.0 265.0h1v1h-1zM185.0 239.8h1v1h-1zM192.3 265.6h1v1h-1zM172.1 264.7h1v1h-1zM178.0 266.4h1v1h-1zM172.8 269.4h1v1h-1zM189.5 261.7h1v1h-1zM188.4 237.6h1v1h-1zM192.7 268.7h1v1h-1zM190.9 269.9h1v1h-1zM190.1 261.2h1v1h-1zM177.3 266.9h1v1h-1zM187.4 261.9h1v1h-1zM185.5 240.1h1v1h-1zM185.3 237.0h1v1h-1zM192.4 265.5h1v1h-1zM185.3 237.4h1v1h-1zM173.4 267.7h1v1h-1zM185.2 236.7h1v1h-1zM185.5 235.5h1v1h-1zM178.2 267.3h1v1h-1zM191.2 261.7h1v1h-1zM173.3 267.8h1v1h-1zM169.0 263.9h1v1h-1zM188.3 268.8h1v1h-1zM192.6 268.3h1v1h-1zM188.4 235.0h1v1h-1zM176.8 264.2h1v1h-1zM187.2 240.6h1v1h-1zM172.6 265.9h1v1h-1zM192.7 266.0h1v1h-1zM171.4 268.7h1v1h-1zM176.5 265.5h1v1h-1zM191.5 267.1h1v1h-1zM184.7 240.5h1v1h-1zM184.9 239.9h1v1h-1zM188.4 236.3h1v1h-1zM175.5 264.5h1v1h-1zM186.4 240.7h1v1h-1zM187.8 239.5h1v1h-1zM188.8 270.5h1v1h-1zM177.2 267.0h1v1h-1zM192.5 267.4h1v1h-1zM178.2 264.0h1v1h-1zM190.8 269.9h1v1h-1zM187.1 267.3h1v1h-1zM173.1 264.5h1v1h-1zM186.2 239.3h1v1h-1zM173.0 265.7h1v1h-1zM188.4 263.3h1v1h-1zM175.9 264.5h1v1h-1zM176.7 264.1h1v1h-1zM172.1 267.5h1v1h-1zM184.5 239.3h1v1h-1zM170.4 264.2h1v1h-1zM174.4 267.8h1v1h-1zM175.2 269.3h1v1h-1zM171.2 267.0h1v1h-1zM177.2 266.0h1v1h-1zM187.6 235.8h1v1h-1zM175.5 264.4h1v1h-1zM189.7 270.6h1v1h-1zM170.9 267.0h1v1h-1zM171.8 268.2h1v1h-1zM185.4 239.4h1v1h-1zM176.1 267.3h1v1h-1zM191.4 264.6h1v1h-1zM173.5 267.8h1v1h-1zM185.2 239.7h1v1h-1zM187.9 239.3h1v1h-1zM173.9 268.7h1v1h-1zM187.8 268.3h1v1h-1zM175.6 266.4h1v1h-1zM184.7 240.2h1v1h-1zM170.9 266.3h1v1h-1zM170.0 266.1h1v1h-1zM172.3 264.1h1v1h-1zM192.1 262.6h1v1h-1zM172.0 265.9h1v1h-1zM187.4 239.7h1v1h-1zM190.8 269.0h1v1h-1zM187.3 238.8h1v1h-1zM187.9 264.5h1v1h-1zM174.6 268.5h1v1h-1zM190.0 270.0h1v1h-1zM171.0 265.3h1v1h-1zM186.4 266.7h1v1h-1zM174.5 266.6h1v1h-1zM189.9 270.3h1v1h-1zM186.4 266.8h1v1h-1zM187.6 240.4h1v1h-1zM176.4 266.9h1v1h-1zM176.3 266.4h1v1h-1zM188.7 263.7h1v1h-1zM191.9 263.3h1v1h-1zM172.6 266.9h1v1h-1zM190.5 269.3h1v1h-1zM173.1 267.3h1v1h-1zM185.4 238.9h1v1h-1zM169.6 263.1h1v1h-1zM169.7 265.5h1v1h-1zM191.4 269.2h1v1h-1zM189.1 263.3h1v1h-1zM172.6 268.3h1v1h-1zM185.3 239.5h1v1h-1zM188.9 262.7h1v1h-1zM185.9 236.3h1v1h-1zM175.5 267.3h1v1h-1zM171.7 267.9h1v1h-1zM188.7 237.1h1v1h-1zM171.5 266.2h1v1h-1zM177.5 266.2h1v1h-1zM187.8 236.9h1v1h-1zM178.1 263.2h1v1h-1z" fill="rgb(44, 139, 170)" opacity="1.00"/>
<path d="M188.2 268.4h1v1h-1zM191.0 262.3h1v1h-1zM177.7 267.1h1v1h-1zM188.6 269.5h1v1h-1zM177.4 267.1h1v1h-1zM187.7 262.8h1v1h-1zM175.7 265.3h1v1h-1zM175.5 266.6h1v1h-1zM173.8 265.5h1v1h-1zM175.2 267.4h1v1h-1zM185.3 241.1h1v1h-1zM189.4 262.0h1v1h-1zM193.1 267.4h1v1h-1zM187.8 267.4h1v1h-1zM188.1 265.3h1v1h-1zM175.1 266.2h1v1h-1zM186.3 235.9h1v1h-1zM175.9 265.8h1v1h-1zM191.5 268.6h1v1h-1zM174.9 265.9h1v1h-1zM193.2 265.2h1v1h-1zM191.5 269.4h1v1h-1zM188.1 237.9h1v1h-1zM177.1 265.9h1v1h-1zM190.3 262.5h1v1h-1zM174.5 268.7h1v1h-1zM186.5 236.1h1v1h-1zM187.8 265.7h1v1h-1zM185.2 236.0h1v1h-1zM187.6 234.9h1v1h-1zM186.0 236.9h1v1h-1zM189.6 268.8h1v1h-1zM171.8 262.9h1v1h-1zM172.2 266.8h1v1h-1zM172.9 267.7h1v1h-1zM186.4 235.9h1v1h-1zM189.3 263.7h1v1h-1zM171.0 266.2h1v1h-1zM191.3 264.1h1v1h-1zM187.3 236.6h1v1h-1zM186.7 237.0h1v1h-1zM185.7 240.2h1v1h-1zM190.1 260.9h1v1h-1zM187.3 239.1h1v1h-1zM172.5 269.4h1v1h-1zM191.3 266.5h1v1h-1zM175.3 265.0h1v1h-1zM187.1 265.7h1v1h-1zM190.6 262.6h1v1h-1zM192.6 266.2h1v1h-1zM171.5 267.5h1v1h-1zM177.7 265.4h1v1h-1zM184.6 237.6h1v1h-1zM191.8 264.5h1v1h-1zM189.7 263.3h1v1h-1zM170.2 267.6h1v1h-1zM188.0 265.6h1v1h-1zM172.5 266.7h1v1h-1zM177.2 265.2h1v1h-1zM187.4 237.6h1v1h-1zM169.5 267.7h1v1h-1zM187.7 268.6h1v1h-1zM173.8 268.3h1v1h-1zM185.0 236.8h1v1h-1zM189.0 268.9h1v1h-1zM171.6 265.3h1v1h-1zM171.5 268.1h1v1h-1zM172.3 267.3h1v1h-1zM190.6 262.3h1v1h-1zM176.8 266.4h1v1h-1zM172.4 264.2h1v1h-1zM186.4 237.6h1v1h-1zM185.3 240.3h1v1h-1zM188.6 263.7h1v1h-1zM172.4 264.5h1v1h-1zM192.7 263.7h1v1h-1zM191.7 263.1h1v1h-1zM185.8 236.0h1v1h-1zM187.9 237.8h1v1h-1zM173.3 266.8h1v1h-1zM188.0 237.0h1v1h-1zM189.8 269.3h1v1h-1zM171.5 266.6h1v1h-1zM176.6 266.5h1v1h-1zM173.7 264.8h1v1h-1zM169.3 266.4h1v1h-1zM186.2 237.1h1v1h-1zM187.6 266.5h1v1h-1zM187.1 238.4h1v1h-1zM187.1 239.1h1v1h-1zM190.4 269.0h1v1h-1zM177.0 267.1h1v1h-1zM175.4 265.8h1v1h-1zM189.9 263.6h1v1h-1zM190.3 261.9h1v1h-1zM185.4 238.9h1v1h-1zM192.1 263.2h1v1h-1zM188.7 264.1h1v1h-1zM185.2 237.1h1v1h-1zM186.5 238.7h1v1h-1zM173.7 266.5h1v1h-1zM192.0 264.0h1v1h-1zM174.2 266.9h1v1h-1zM188.7 262.7h1v1h-1zM174.2 267.1h1v1h-1zM192.2 267.1h1v1h-1zM170.6 265.1h1v1h-1zM185.8 239.4h1v1h-1zM191.3 263.7h1v1h-1zM173.4 264.8h1v1h-1zM177.2 265.5h1v1h-1zM192.9 264.6h1v1h-1zM173.8 266.6h1v1h-1zM190.7 268.9h1v1h-1zM192.4 266.6h1v1h-1zM175.0 265.1h1v1h-1zM187.9 237.9h1v1h-1zM170.5 265.5h1v1h-1zM191.5 268.0h1v1h-1z" fill="rgb(49, 161, 137)" opacity="1.00"/>
<path d="M190.6 264.1h1v1h-1zM188.2 239.1h1v1h-1zM188.8 265.6h1v1h-1zM184.5 238.4h1v1h-1zM188.7 270.3h1v1h-1zM187.3 267.8h1v1h-1zM191.8 262.4h1v1h-1zM189.1 263.8h1v1h-1zM191.5 265.7h1v1h-1zM184.8 240.2h1v1h-1zM185.7 236.8h1v1h-1zM173.9 266.1h1v1h-1zM190.9 268.8h1v1h-1zM173.3 266.3h1v1h-1zM177.1 265.6h1v1h-1zM187.9 236.0h1v1h-1zM191.6 267.6h1v1h-1zM192.3 265.6h1v1h-1zM175.3 265.3h1v1h-1zM190.4 264.1h1v1h-1zM186.8 239.6h1v1h-1zM189.1 237.7h1v1h-1zM169.3 267.7h1v1h-1zM188.5 269.0h1v1h-1zM173.4 267.6h1v1h-1zM189.9 263.1h1v1h-1zM191.6 269.4h1v1h-1zM191.4 268.2h1v1h-1zM190.8 263.7h1v1h-1zM187.6 238.4h1v1h-1zM189.5 263.6h1v1h-1zM190.7 267.8h1v1h-1zM187.1 236.1h1v1h-1zM190.2 269.5h1v1h-1zM191.6 267.1h1v1h-1zM173.1 264.9h1v1h-1zM176.2 265.3h1v1h-1zM185.7 238.0h1v1h-1zM189.2 268.7h1v1h-1zM191.7 267.6h1v1h-1zM172.3 264.7h1v1h-1zM175.4 266.7h1v1h-1zM190.6 263.6h1v1h-1zM186.6 237.3h1v1h-1zM187.7 265.2h1v1h-1zM190.4 263.7h1v1h-1zM171.7 267.7h1v1h-1zM192.1 265.1h1v1h-1zM172.4 268.0h1v1h-1zM190.7 263.2h1v1h-1zM176.2 266.5h1v1h-1zM186.4 239.3h1v1h-1zM187.0 237.3h1v1h-1zM175.1 265.3h1v1h-1zM175.3 266.9h1v1h-1zM189.8 262.8h1v1h-1zM187.5 238.0h1v1h-1zM189.2 268.3h1v1h-1zM187.5 240.7h1v1h-1zM190.3 265.0h1v1h-1zM174.7 266.4h1v1h-1zM173.0 265.9h1v1h-1zM175.0 265.3h1v1h-1zM169.8 266.7h1v1h-1zM192.3 266.6h1v1h-1zM188.9 268.8h1v1h-1zM191.0 268.1h1v1h-1zM191.4 266.9h1v1h-1zM190.4 261.9h1v1h-1zM188.4 265.9h1v1h-1zM186.6 237.0h1v1h-1zM191.7 268.4h1v1h-1zM189.7 262.8h1v1h-1zM188.1 268.1h1v1h-1zM190.5 262.8h1v1h-1zM185.2 236.9h1v1h-1zM175.0 264.5h1v1h-1zM186.0 237.4h1v1h-1zM173.4 266.9h1v1h-1zM174.5 265.4h1v1h-1zM190.3 262.0h1v1h-1zM191.5 265.6h1v1h-1zM186.5 237.4h1v1h-1zM173.7 266.5h1v1h-1zM186.1 238.3h1v1h-1zM175.7 264.8h1v1h-1zM171.0 266.5h1v1h-1zM190.0 264.3h1v1h-1zM188.6 265.9h1v1h-1zM175.8 265.6h1v1h-1zM191.5 266.3h1v1h-1zM191.4 267.8h1v1h-1zM172.5 266.6h1v1h-1zM190.5 263.6h1v1h-1zM191.2 268.4h1v1h-1zM174.3 265.4h1v1h-1z" fill="rgb(80, 176, 103)" opacity="1.00"/>
<path d="M174.0 265.0h1v1h-1zM186.7 237.1h1v1h-1zM191.2 263.6h1v1h-1zM191.9 264.8h1v1h-1zM189.9 266.6h1v1h-1zM189.7 269.5h1v1h-1zM189.0 265.1h1v1h-1zM173.3 265.2h1v1h-1zM175.2 266.7h1v1h-1zM175.1 267.1h1v1h-1zM186.4 237.9h1v1h-1zM189.6 269.7h1v1h-1zM192.0 265.5h1v1h-1zM187.8 266.9h1v1h-1zM175.6 266.5h1v1h-1zM174.9 265.4h1v1h-1zM173.9 264.8h1v1h-1zM191.5 267.2h1v1h-1zM186.8 240.2h1v1h-1zM173.8 264.9h1v1h-1zM174.0 265.5h1v1h-1zM189.2 268.9h1v1h-1zM191.4 267.8h1v1h-1zM189.1 266.0h1v1h-1zM185.3 238.2h1v1h-1zM192.0 267.6h1v1h-1zM176.7 265.0h1v1h-1zM171.3 266.3h1v1h-1zM190.0 265.9h1v1h-1zM191.7 265.0h1v1h-1zM188.8 263.9h1v1h-1zM189.0 266.5h1v1h-1zM187.3 266.2h1v1h-1zM190.2 269.6h1v1h-1zM174.5 265.1h1v1h-1zM190.2 264.7h1v1h-1zM172.6 265.5h1v1h-1zM191.0 267.4h1v1h-1zM189.3 265.0h1v1h-1zM189.6 263.0h1v1h-1zM173.0 264.7h1v1h-1zM191.4 266.4h1v1h-1zM172.8 265.6h1v1h-1zM190.3 264.1h1v1h-1zM174.4 265.4h1v1h-1zM174.5 267.0h1v1h-1zM188.5 263.7h1v1h-1zM187.8 238.6h1v1h-1zM174.3 268.7h1v1h-1zM191.2 266.8h1v1h-1zM173.6 264.3h1v1h-1zM191.3 266.3h1v1h-1zM189.9 262.8h1v1h-1zM172.8 265.8h1v1h-1zM189.9 269.7h1v1h-1zM189.5 263.7h1v1h-1zM171.8 265.3h1v1h-1zM190.5 267.6h1v1h-1zM174.8 266.2h1v1h-1zM186.9 237.9h1v1h-1zM189.3 264.4h1v1h-1zM190.0 268.5h1v1h-1zM191.3 267.2h1v1h-1zM190.1 263.9h1v1h-1zM191.2 268.4h1v1h-1zM190.7 265.0h1v1h-1zM187.2 239.4h1v1h-1z" fill="rgb(119, 191, 70)" opacity="1.00"/>
<path d="M190.0 264.8h1v1h-1zM188.9 269.7h1v1h-1zM174.7 266.7h1v1h-1zM190.9 264.9h1v1h-1zM189.8 266.9h1v1h-1zM189.8 269.1h1v1h-1zM189.4 268.4h1v1h-1zM192.2 266.5h1v1h-1zM173.8 267.6h1v1h-1zM191.5 266.9h1v1h-1zM174.5 265.0h1v1h-1zM190.1 265.0h1v1h-1zM190.2 269.5h1v1h-1zM174.9 266.3h1v1h-1zM189.1 269.1h1v1h-1zM175.4 264.8h1v1h-1zM190.2 269.5h1v1h-1zM190.3 269.3h1v1h-1zM188.2 266.7h1v1h-1zM189.1 267.9h1v1h-1zM189.9 269.7h1v1h-1zM191.7 266.4h1v1h-1zM190.8 268.2h1v1h-1zM190.2 266.3h1v1h-1zM189.1 265.6h1v1h-1zM189.6 267.0h1v1h-1zM191.6 266.7h1v1h-1zM189.7 263.9h1v1h-1zM189.6 265.7h1v1h-1zM188.8 266.6h1v1h-1zM190.3 267.4h1v1h-1zM174.0 265.8h1v1h-1zM190.4 267.6h1v1h-1zM173.9 265.7h1v1h-1zM191.5 266.3h1v1h-1zM189.7 267.4h1v1h-1zM188.9 264.3h1v1h-1zM191.0 264.1h1v1h-1zM189.1 266.1h1v1h-1zM174.8 266.7h1v1h-1zM191.8 266.7h1v1h-1zM191.8 266.1h1v1h-1zM191.9 264.2h1v1h-1zM191.0 265.9h1v1h-1zM190.6 268.0h1v1h-1z" fill="rgb(162, 200, 53)" opacity="1.00"/>
<path d="M191.1 266.9h1v1h-1zM190.3 268.7h1v1h-1zM191.0 266.1h1v1h-1zM191.9 264.3h1v1h-1zM188.5 266.5h1v1h-1zM189.4 265.4h1v1h-1zM189.7 264.8h1v1h-1zM185.8 239.2h1v1h-1zM190.3 267.8h1v1h-1zM190.9 265.6h1v1h-1zM191.5 266.6h1v1h-1zM191.2 266.3h1v1h-1zM190.5 265.6h1v1h-1zM190.3 268.3h1v1h-1zM191.0 268.6h1v1h-1zM175.0 266.5h1v1h-1zM190.4 268.2h1v1h-1zM190.9 266.7h1v1h-1zM188.9 265.5h1v1h-1zM190.5 268.1h1v1h-1zM174.7 265.9h1v1h-1zM188.5 265.8h1v1h-1zM190.5 266.4h1v1h-1zM189.3 267.6h1v1h-1zM190.5 267.1h1v1h-1zM191.1 265.7h1v1h-1zM189.2 265.9h1v1h-1zM185.3 239.0h1v1h-1zM188.7 267.7h1v1h-1zM189.4 266.3h1v1h-1zM189.7 265.9h1v1h-1zM190.9 266.7h1v1h-1zM189.1 265.8h1v1h-1zM190.0 264.9h1v1h-1zM174.1 266.5h1v1h-1zM190.7 264.3h1v1h-1zM175.5 266.2h1v1h-1zM191.3 265.1h1v1h-1zM190.0 265.0h1v1h-1zM189.9 267.0h1v1h-1zM190.4 266.5h1v1h-1zM189.5 268.4h1v1h-1z" fill="rgb(207, 207, 44)" opacity="1.00"/>
<path d="M189.9 266.7h1v1h-1zM189.4 268.6h1v1h-1zM190.3 268.4h1v1h-1zM190.4 264.9h1v1h-1zM173.4 265.2h1v1h-1zM189.3 265.9h1v1h-1zM190.9 266.6h1v1h-1zM189.6 267.5h1v1h-1zM190.4 266.2h1v1h-1zM191.0 267.1h1v1h-1zM190.3 266.2h1v1h-1zM189.9 267.5h1v1h-1zM189.8 265.3h1v1h-1z" fill="rgb(229, 193, 40)" opacity="1.00"/>
<path d="M175.0 266.0h1v1h-1zM191.1 267.1h1v1h-1zM189.7 264.9h1v1h-1zM190.0 267.6h1v1h-1zM190.9 266.3h1v1h-1zM191.1 266.2h1v1h-1zM189.5 266.0h1v1h-1zM191.2 266.0h1v1h-1zM190.8 266.1h1v1h-1zM174.3 265.6h1v1h-1zM188.7 268.7h1v1h-1zM188.8 267.1h1v1h-1zM190.4 265.7h1v1h-1zM191.1 268.4h1v1h-1zM189.6 265.8h1v1h-1zM190.1 267.5h1v1h-1zM190.7 264.9h1v1h-1z" fill="rgb(236, 164, 40)" opacity="1.00"/>
<rect x="173.30" y="220.80" width="29.20" height="31.00" fill="none" stroke="#aaa" stroke-width="0.8"/>
<path d="M173.30 230.70V251.80H202.50V230.70" fill="none" stroke="#4a4a4a" stroke-width="1.1"/>
<text x="187.60" y="217.70" font-size="8.0" text-anchor="middle" fill="#1a1a1a" textLength="32.20" lengthAdjust="spacingAndGlyphs" stroke="#1a1a1a" stroke-width="0.1">CD3+CD8+</text>
<text x="187.60" y="226.70" font-size="8.2" text-anchor="middle" fill="#1a1a1a" textLength="12.40" lengthAdjust="spacingAndGlyphs" stroke="#1a1a1a" stroke-width="0.1">23.6</text>
<rect x="276.80" y="193.50" width="86.60" height="95.60" fill="#fff" stroke="#2a2a2a" stroke-width="1.1"/>
<line x1="274.10" y1="202.55" x2="276.80" y2="202.55" stroke="#2a2a2a" stroke-width="1.0"/>
<text x="271.10" y="204.85" font-size="6.6" text-anchor="end" fill="#222" textLength="6.00" lengthAdjust="spacingAndGlyphs" stroke="#222" stroke-width="0.12">10</text>
<text x="271.30" y="202.15" font-size="3.8" text-anchor="start" fill="#333" stroke="#333" stroke-width="0.12">5</text>
<line x1="274.10" y1="225.55" x2="276.80" y2="225.55" stroke="#2a2a2a" stroke-width="1.0"/>
<text x="271.10" y="227.85" font-size="6.6" text-anchor="end" fill="#222" textLength="6.00" lengthAdjust="spacingAndGlyphs" stroke="#222" stroke-width="0.12">10</text>
<text x="271.30" y="225.15" font-size="3.8" text-anchor="start" fill="#333" stroke="#333" stroke-width="0.12">4</text>
<line x1="274.10" y1="251.20" x2="276.80" y2="251.20" stroke="#2a2a2a" stroke-width="1.0"/>
<text x="271.10" y="253.50" font-size="6.6" text-anchor="end" fill="#222" textLength="6.00" lengthAdjust="spacingAndGlyphs" stroke="#222" stroke-width="0.12">10</text>
<text x="271.30" y="250.80" font-size="3.8" text-anchor="start" fill="#333" stroke="#333" stroke-width="0.12">3</text>
<line x1="274.10" y1="267.45" x2="276.80" y2="267.45" stroke="#2a2a2a" stroke-width="1.0"/>
<text x="273.40" y="269.75" font-size="6.8" text-anchor="end" fill="#222" stroke="#222" stroke-width="0.12">0</text>
<rect x="274.70" y="265.05" width="2.00" height="3.60" fill="#111"/>
<line x1="274.10" y1="282.70" x2="276.80" y2="282.70" stroke="#2a2a2a" stroke-width="1.0"/>
<text x="271.10" y="285.00" font-size="6.6" text-anchor="end" fill="#222" textLength="8.40" lengthAdjust="spacingAndGlyphs" stroke="#222" stroke-width="0.12">-10</text>
<text x="271.30" y="282.30" font-size="3.8" text-anchor="start" fill="#333" stroke="#333" stroke-width="0.12">3</text>
<line x1="275.00" y1="218.63" x2="276.80" y2="218.63" stroke="#444" stroke-width="0.7"/>
<line x1="275.00" y1="214.58" x2="276.80" y2="214.58" stroke="#444" stroke-width="0.7"/>
<line x1="275.00" y1="211.70" x2="276.80" y2="211.70" stroke="#444" stroke-width="0.7"/>
<line x1="275.00" y1="209.47" x2="276.80" y2="209.47" stroke="#444" stroke-width="0.7"/>
<line x1="275.00" y1="207.65" x2="276.80" y2="207.65" stroke="#444" stroke-width="0.7"/>
<line x1="275.00" y1="206.11" x2="276.80" y2="206.11" stroke="#444" stroke-width="0.7"/>
<line x1="275.00" y1="204.78" x2="276.80" y2="204.78" stroke="#444" stroke-width="0.7"/>
<line x1="275.00" y1="203.60" x2="276.80" y2="203.60" stroke="#444" stroke-width="0.7"/>
<line x1="275.00" y1="243.48" x2="276.80" y2="243.48" stroke="#444" stroke-width="0.7"/>
<line x1="275.00" y1="238.96" x2="276.80" y2="238.96" stroke="#444" stroke-width="0.7"/>
<line x1="275.00" y1="235.76" x2="276.80" y2="235.76" stroke="#444" stroke-width="0.7"/>
<line x1="275.00" y1="233.27" x2="276.80" y2="233.27" stroke="#444" stroke-width="0.7"/>
<line x1="275.00" y1="231.24" x2="276.80" y2="231.24" stroke="#444" stroke-width="0.7"/>
<line x1="275.00" y1="229.52" x2="276.80" y2="229.52" stroke="#444" stroke-width="0.7"/>
<line x1="275.00" y1="228.04" x2="276.80" y2="228.04" stroke="#444" stroke-width="0.7"/>
<line x1="275.00" y1="226.72" x2="276.80" y2="226.72" stroke="#444" stroke-width="0.7"/>
<line x1="277.00" y1="288.70" x2="277.00" y2="290.90" stroke="#2a2a2a" stroke-width="1.0"/>
<text x="276.40" y="297.50" font-size="6.6" text-anchor="start" fill="#222" textLength="6.00" lengthAdjust="spacingAndGlyphs" stroke="#222" stroke-width="0.12">10</text>
<text x="282.50" y="294.30" font-size="3.8" text-anchor="start" fill="#333" stroke="#333" stroke-width="0.12">0</text>
<line x1="281.40" y1="288.70" x2="281.40" y2="290.00" stroke="#555" stroke-width="0.6"/>
<line x1="283.97" y1="288.70" x2="283.97" y2="290.00" stroke="#555" stroke-width="0.6"/>
<line x1="285.79" y1="288.70" x2="285.79" y2="290.00" stroke="#555" stroke-width="0.6"/>
<line x1="287.20" y1="288.70" x2="287.20" y2="290.00" stroke="#555" stroke-width="0.6"/>
<line x1="288.36" y1="288.70" x2="288.36" y2="290.00" stroke="#555" stroke-width="0.6"/>
<line x1="289.34" y1="288.70" x2="289.34" y2="290.00" stroke="#555" stroke-width="0.6"/>
<line x1="290.19" y1="288.70" x2="290.19" y2="290.00" stroke="#555" stroke-width="0.6"/>
<line x1="290.93" y1="288.70" x2="290.93" y2="290.00" stroke="#555" stroke-width="0.6"/>
<line x1="291.60" y1="288.70" x2="291.60" y2="290.90" stroke="#2a2a2a" stroke-width="1.0"/>
<text x="291.00" y="297.50" font-size="6.6" text-anchor="start" fill="#222" textLength="6.00" lengthAdjust="spacingAndGlyphs" stroke="#222" stroke-width="0.12">10</text>
<text x="297.10" y="294.30" font-size="3.8" text-anchor="start" fill="#333" stroke="#333" stroke-width="0.12">1</text>
<line x1="296.51" y1="288.70" x2="296.51" y2="290.00" stroke="#555" stroke-width="0.6"/>
<line x1="299.38" y1="288.70" x2="299.38" y2="290.00" stroke="#555" stroke-width="0.6"/>
<line x1="301.41" y1="288.70" x2="301.41" y2="290.00" stroke="#555" stroke-width="0.6"/>
<line x1="302.99" y1="288.70" x2="302.99" y2="290.00" stroke="#555" stroke-width="0.6"/>
<line x1="304.28" y1="288.70" x2="304.28" y2="290.00" stroke="#555" stroke-width="0.6"/>
<line x1="305.38" y1="288.70" x2="305.38" y2="290.00" stroke="#555" stroke-width="0.6"/>
<line x1="306.32" y1="288.70" x2="306.32" y2="290.00" stroke="#555" stroke-width="0.6"/>
<line x1="307.15" y1="288.70" x2="307.15" y2="290.00" stroke="#555" stroke-width="0.6"/>
<line x1="307.90" y1="288.70" x2="307.90" y2="290.90" stroke="#2a2a2a" stroke-width="1.0"/>
<text x="307.30" y="297.50" font-size="6.6" text-anchor="start" fill="#222" textLength="6.00" lengthAdjust="spacingAndGlyphs" stroke="#222" stroke-width="0.12">10</text>
<text x="313.40" y="294.30" font-size="3.8" text-anchor="start" fill="#333" stroke="#333" stroke-width="0.12">2</text>
<line x1="312.36" y1="288.70" x2="312.36" y2="290.00" stroke="#555" stroke-width="0.6"/>
<line x1="314.96" y1="288.70" x2="314.96" y2="290.00" stroke="#555" stroke-width="0.6"/>
<line x1="316.81" y1="288.70" x2="316.81" y2="290.00" stroke="#555" stroke-width="0.6"/>
<line x1="318.24" y1="288.70" x2="318.24" y2="290.00" stroke="#555" stroke-width="0.6"/>
<line x1="319.42" y1="288.70" x2="319.42" y2="290.00" stroke="#555" stroke-width="0.6"/>
<line x1="320.41" y1="288.70" x2="320.41" y2="290.00" stroke="#555" stroke-width="0.6"/>
<line x1="321.27" y1="288.70" x2="321.27" y2="290.00" stroke="#555" stroke-width="0.6"/>
<line x1="322.02" y1="288.70" x2="322.02" y2="290.00" stroke="#555" stroke-width="0.6"/>
<line x1="322.70" y1="288.70" x2="322.70" y2="290.90" stroke="#2a2a2a" stroke-width="1.0"/>
<text x="322.10" y="297.50" font-size="6.6" text-anchor="start" fill="#222" textLength="6.00" lengthAdjust="spacingAndGlyphs" stroke="#222" stroke-width="0.12">10</text>
<text x="328.20" y="294.30" font-size="3.8" text-anchor="start" fill="#333" stroke="#333" stroke-width="0.12">3</text>
<line x1="327.64" y1="288.70" x2="327.64" y2="290.00" stroke="#555" stroke-width="0.6"/>
<line x1="330.52" y1="288.70" x2="330.52" y2="290.00" stroke="#555" stroke-width="0.6"/>
<line x1="332.57" y1="288.70" x2="332.57" y2="290.00" stroke="#555" stroke-width="0.6"/>
<line x1="334.16" y1="288.70" x2="334.16" y2="290.00" stroke="#555" stroke-width="0.6"/>
<line x1="335.46" y1="288.70" x2="335.46" y2="290.00" stroke="#555" stroke-width="0.6"/>
<line x1="336.56" y1="288.70" x2="336.56" y2="290.00" stroke="#555" stroke-width="0.6"/>
<line x1="337.51" y1="288.70" x2="337.51" y2="290.00" stroke="#555" stroke-width="0.6"/>
<line x1="338.35" y1="288.70" x2="338.35" y2="290.00" stroke="#555" stroke-width="0.6"/>
<line x1="339.10" y1="288.70" x2="339.10" y2="290.90" stroke="#2a2a2a" stroke-width="1.0"/>
<text x="338.50" y="297.50" font-size="6.6" text-anchor="start" fill="#222" textLength="6.00" lengthAdjust="spacingAndGlyphs" stroke="#222" stroke-width="0.12">10</text>
<text x="344.60" y="294.30" font-size="3.8" text-anchor="start" fill="#333" stroke="#333" stroke-width="0.12">4</text>
<line x1="344.01" y1="288.70" x2="344.01" y2="290.00" stroke="#555" stroke-width="0.6"/>
<line x1="346.88" y1="288.70" x2="346.88" y2="290.00" stroke="#555" stroke-width="0.6"/>
<line x1="348.91" y1="288.70" x2="348.91" y2="290.00" stroke="#555" stroke-width="0.6"/>
<line x1="350.49" y1="288.70" x2="350.49" y2="290.00" stroke="#555" stroke-width="0.6"/>
<line x1="351.78" y1="288.70" x2="351.78" y2="290.00" stroke="#555" stroke-width="0.6"/>
<line x1="352.88" y1="288.70" x2="352.88" y2="290.00" stroke="#555" stroke-width="0.6"/>
<line x1="353.82" y1="288.70" x2="353.82" y2="290.00" stroke="#555" stroke-width="0.6"/>
<line x1="354.65" y1="288.70" x2="354.65" y2="290.00" stroke="#555" stroke-width="0.6"/>
<line x1="355.40" y1="288.70" x2="355.40" y2="290.90" stroke="#2a2a2a" stroke-width="1.0"/>
<text x="354.80" y="297.50" font-size="6.6" text-anchor="start" fill="#222" textLength="6.00" lengthAdjust="spacingAndGlyphs" stroke="#222" stroke-width="0.12">10</text>
<text x="360.90" y="294.30" font-size="3.8" text-anchor="start" fill="#333" stroke="#333" stroke-width="0.12">5</text>
<text x="314.80" y="311.30" font-size="10.3" text-anchor="middle" fill="#222" textLength="14.00" lengthAdjust="spacingAndGlyphs" stroke="#222" stroke-width="0.12">CD3</text>
<text x="254.00" y="244.70" font-size="10.8" text-anchor="middle" fill="#222" textLength="14.20" lengthAdjust="spacingAndGlyphs" transform="rotate(-90 254.00 244.70)" stroke="#222" stroke-width="0.12">CD8</text>
<path d="M298.6 225.7h1v1h-1zM331.3 247.3h1v1h-1zM309.3 237.2h1v1h-1zM334.9 271.4h1v1h-1zM330.4 276.3h1v1h-1zM334.8 258.6h1v1h-1zM308.9 249.1h1v1h-1zM327.6 250.2h1v1h-1zM299.8 255.8h1v1h-1zM329.2 223.7h1v1h-1zM329.1 232.3h1v1h-1zM321.8 286.4h1v1h-1zM326.3 252.8h1v1h-1zM328.0 276.9h1v1h-1zM332.4 264.3h1v1h-1zM343.2 263.4h1v1h-1zM281.3 262.3h1v1h-1zM297.0 258.1h1v1h-1zM313.5 277.9h1v1h-1zM334.2 269.2h1v1h-1zM327.0 242.1h1v1h-1zM331.3 255.3h1v1h-1zM332.3 256.8h1v1h-1zM311.1 255.2h1v1h-1zM328.3 251.8h1v1h-1zM323.9 250.3h1v1h-1zM332.9 252.5h1v1h-1zM313.8 276.7h1v1h-1zM326.5 231.6h1v1h-1zM341.0 265.5h1v1h-1zM328.7 237.4h1v1h-1zM325.0 230.3h1v1h-1zM294.5 277.3h1v1h-1zM296.0 277.1h1v1h-1zM292.7 258.8h1v1h-1zM282.9 273.0h1v1h-1zM302.6 254.1h1v1h-1zM278.2 266.0h1v1h-1zM329.5 256.5h1v1h-1zM309.5 251.9h1v1h-1zM319.9 230.8h1v1h-1zM311.4 251.1h1v1h-1zM294.9 260.5h1v1h-1zM305.4 254.8h1v1h-1zM313.0 248.1h1v1h-1zM279.2 265.2h1v1h-1zM317.4 233.5h1v1h-1zM331.4 252.5h1v1h-1zM314.8 252.4h1v1h-1zM317.2 277.1h1v1h-1zM313.0 256.4h1v1h-1zM313.6 251.8h1v1h-1zM332.9 259.9h1v1h-1zM305.6 258.2h1v1h-1zM312.2 247.8h1v1h-1zM290.6 274.7h1v1h-1zM281.4 272.0h1v1h-1zM332.8 260.2h1v1h-1zM322.5 246.7h1v1h-1zM326.6 237.5h1v1h-1zM323.9 233.3h1v1h-1zM330.3 269.8h1v1h-1zM323.2 256.5h1v1h-1z" fill="rgb(138, 154, 231)" opacity="0.55"/>
<path d="M311.9 243.4h1v1h-1zM321.5 249.2h1v1h-1zM320.9 276.8h1v1h-1zM317.0 250.1h1v1h-1zM288.3 273.1h1v1h-1zM295.4 273.8h1v1h-1zM310.6 258.6h1v1h-1zM309.1 257.4h1v1h-1zM302.9 258.5h1v1h-1zM278.8 267.3h1v1h-1zM325.9 248.8h1v1h-1zM313.4 245.5h1v1h-1zM320.4 255.1h1v1h-1zM303.0 256.2h1v1h-1zM289.1 263.8h1v1h-1zM331.6 266.6h1v1h-1zM310.9 250.9h1v1h-1zM324.5 233.4h1v1h-1zM325.1 239.1h1v1h-1zM320.8 249.1h1v1h-1zM327.1 238.1h1v1h-1zM284.1 262.8h1v1h-1zM313.7 247.5h1v1h-1zM306.3 256.9h1v1h-1zM278.2 270.8h1v1h-1zM315.3 256.6h1v1h-1zM328.3 264.1h1v1h-1zM319.0 252.5h1v1h-1zM319.6 256.7h1v1h-1zM308.9 257.8h1v1h-1zM329.3 260.5h1v1h-1zM324.8 235.1h1v1h-1zM304.8 275.6h1v1h-1zM299.5 274.3h1v1h-1zM280.9 268.4h1v1h-1zM324.5 236.8h1v1h-1zM288.9 264.2h1v1h-1zM278.6 270.6h1v1h-1zM319.1 251.8h1v1h-1zM328.2 273.8h1v1h-1zM323.1 257.4h1v1h-1zM281.5 270.2h1v1h-1zM303.4 275.9h1v1h-1zM319.1 250.5h1v1h-1zM322.1 247.1h1v1h-1zM331.6 269.0h1v1h-1zM326.5 238.3h1v1h-1zM292.6 262.4h1v1h-1zM317.4 255.3h1v1h-1zM320.4 233.5h1v1h-1zM327.6 258.4h1v1h-1zM324.2 245.1h1v1h-1zM317.3 253.6h1v1h-1zM306.8 257.6h1v1h-1zM279.2 271.2h1v1h-1zM305.1 275.4h1v1h-1zM324.3 242.3h1v1h-1zM330.4 268.8h1v1h-1zM315.0 254.8h1v1h-1zM315.2 237.6h1v1h-1zM310.2 260.6h1v1h-1zM317.9 248.9h1v1h-1zM314.5 256.3h1v1h-1zM279.3 271.6h1v1h-1zM321.4 234.3h1v1h-1zM296.3 260.9h1v1h-1zM324.3 258.9h1v1h-1zM304.7 256.6h1v1h-1zM298.5 272.9h1v1h-1zM315.1 237.7h1v1h-1zM297.9 272.7h1v1h-1zM317.5 253.3h1v1h-1zM308.6 258.9h1v1h-1zM312.9 242.1h1v1h-1zM293.4 262.2h1v1h-1zM320.2 233.2h1v1h-1zM294.2 272.8h1v1h-1zM307.3 259.8h1v1h-1zM317.0 253.1h1v1h-1zM314.3 244.6h1v1h-1zM322.3 275.8h1v1h-1zM296.3 262.3h1v1h-1zM329.1 273.1h1v1h-1zM330.0 265.3h1v1h-1zM290.5 272.4h1v1h-1zM298.0 262.6h1v1h-1zM327.7 259.5h1v1h-1zM288.1 266.8h1v1h-1zM283.3 270.5h1v1h-1zM328.7 273.5h1v1h-1zM299.5 262.7h1v1h-1zM316.7 274.3h1v1h-1zM323.0 235.0h1v1h-1zM326.7 260.7h1v1h-1zM292.0 273.0h1v1h-1zM316.7 236.9h1v1h-1zM331.8 265.3h1v1h-1zM315.4 258.5h1v1h-1zM327.5 260.8h1v1h-1zM284.4 269.9h1v1h-1zM312.5 258.2h1v1h-1zM317.0 252.4h1v1h-1zM330.2 265.7h1v1h-1zM318.1 235.2h1v1h-1zM322.9 243.0h1v1h-1zM328.2 258.7h1v1h-1zM332.2 267.6h1v1h-1zM317.3 275.0h1v1h-1zM315.9 254.5h1v1h-1zM287.0 267.4h1v1h-1zM317.2 247.5h1v1h-1zM317.3 257.7h1v1h-1zM322.8 256.4h1v1h-1zM319.5 275.0h1v1h-1zM322.3 244.7h1v1h-1zM303.1 275.2h1v1h-1zM328.2 260.3h1v1h-1zM308.0 259.3h1v1h-1zM302.7 260.5h1v1h-1zM304.3 274.9h1v1h-1zM328.9 269.6h1v1h-1zM318.0 274.9h1v1h-1zM297.2 261.1h1v1h-1zM285.0 265.5h1v1h-1zM324.4 275.4h1v1h-1zM316.8 247.2h1v1h-1zM318.9 258.6h1v1h-1zM313.9 239.8h1v1h-1zM331.9 267.0h1v1h-1zM295.0 272.9h1v1h-1zM313.7 259.6h1v1h-1zM299.9 272.0h1v1h-1zM320.6 247.6h1v1h-1zM316.0 259.6h1v1h-1zM281.4 264.9h1v1h-1zM282.8 268.7h1v1h-1zM318.5 247.4h1v1h-1zM283.0 270.0h1v1h-1zM315.5 259.5h1v1h-1zM316.2 244.1h1v1h-1zM303.2 274.1h1v1h-1zM322.4 275.1h1v1h-1z" fill="rgb(112, 133, 224)" opacity="0.64"/>
<path d="M285.6 267.9h1v1h-1zM290.3 272.1h1v1h-1zM326.4 273.5h1v1h-1zM289.3 265.9h1v1h-1zM322.8 234.3h1v1h-1zM324.1 242.3h1v1h-1zM290.7 263.7h1v1h-1zM315.0 243.7h1v1h-1zM322.9 258.0h1v1h-1zM316.6 255.0h1v1h-1zM315.2 239.0h1v1h-1zM281.6 265.9h1v1h-1zM291.9 263.8h1v1h-1zM329.5 270.1h1v1h-1zM290.8 266.3h1v1h-1zM302.5 260.3h1v1h-1zM300.2 272.3h1v1h-1zM329.1 271.0h1v1h-1zM319.6 274.5h1v1h-1zM315.3 243.2h1v1h-1zM319.9 275.2h1v1h-1zM292.7 270.0h1v1h-1zM304.1 260.2h1v1h-1zM312.5 274.2h1v1h-1zM319.5 258.2h1v1h-1zM328.0 269.4h1v1h-1zM293.1 270.7h1v1h-1zM286.4 268.8h1v1h-1zM319.4 234.0h1v1h-1zM288.8 267.8h1v1h-1zM330.4 266.9h1v1h-1zM329.8 267.3h1v1h-1zM285.6 267.2h1v1h-1zM325.3 260.5h1v1h-1zM293.5 268.0h1v1h-1zM304.0 261.2h1v1h-1zM293.8 265.7h1v1h-1zM314.9 241.9h1v1h-1zM328.4 266.1h1v1h-1zM295.0 267.5h1v1h-1zM314.2 259.3h1v1h-1zM310.0 273.8h1v1h-1zM304.1 273.2h1v1h-1zM290.2 272.2h1v1h-1zM283.9 265.6h1v1h-1zM298.7 262.8h1v1h-1zM320.9 256.9h1v1h-1zM318.3 259.2h1v1h-1zM291.7 264.4h1v1h-1zM284.6 268.1h1v1h-1zM290.6 267.7h1v1h-1zM321.9 258.4h1v1h-1zM292.7 272.2h1v1h-1zM324.1 242.0h1v1h-1zM316.8 247.3h1v1h-1zM294.5 263.8h1v1h-1zM285.8 269.0h1v1h-1zM289.5 272.4h1v1h-1zM321.1 235.2h1v1h-1zM323.3 241.1h1v1h-1zM304.8 261.0h1v1h-1zM317.1 246.4h1v1h-1zM293.7 271.2h1v1h-1zM324.9 260.3h1v1h-1zM288.4 268.1h1v1h-1zM296.4 272.6h1v1h-1zM310.6 261.7h1v1h-1zM312.2 273.8h1v1h-1zM319.6 236.6h1v1h-1zM290.8 267.6h1v1h-1zM285.2 267.6h1v1h-1zM318.9 235.5h1v1h-1zM288.5 269.6h1v1h-1zM323.4 240.4h1v1h-1zM281.3 266.2h1v1h-1zM298.6 271.3h1v1h-1zM316.7 272.8h1v1h-1zM297.1 271.0h1v1h-1zM303.3 274.4h1v1h-1zM284.2 268.3h1v1h-1zM302.1 262.6h1v1h-1zM284.7 269.0h1v1h-1zM313.5 242.3h1v1h-1zM282.4 265.6h1v1h-1zM315.4 242.2h1v1h-1zM301.0 262.3h1v1h-1zM321.2 245.1h1v1h-1zM288.0 269.2h1v1h-1zM291.2 270.8h1v1h-1zM324.1 236.9h1v1h-1zM282.0 266.5h1v1h-1zM326.8 262.5h1v1h-1zM322.8 274.9h1v1h-1zM314.3 261.5h1v1h-1zM284.4 265.3h1v1h-1zM293.0 269.4h1v1h-1zM292.9 264.0h1v1h-1zM294.8 273.2h1v1h-1zM316.3 238.7h1v1h-1zM300.0 271.8h1v1h-1zM293.3 267.7h1v1h-1zM290.4 272.3h1v1h-1zM282.8 267.9h1v1h-1zM305.8 272.9h1v1h-1zM322.0 236.4h1v1h-1zM292.2 266.1h1v1h-1zM312.7 272.7h1v1h-1zM291.4 268.2h1v1h-1zM311.7 260.4h1v1h-1zM319.2 245.6h1v1h-1zM316.1 261.3h1v1h-1zM309.4 273.6h1v1h-1zM321.2 258.7h1v1h-1zM326.2 259.7h1v1h-1zM312.8 260.1h1v1h-1zM290.6 269.6h1v1h-1zM326.0 260.0h1v1h-1zM319.8 274.4h1v1h-1zM296.9 264.4h1v1h-1zM297.6 270.8h1v1h-1zM283.6 266.5h1v1h-1zM325.9 262.3h1v1h-1zM295.7 271.1h1v1h-1zM287.6 269.1h1v1h-1zM316.0 239.3h1v1h-1zM327.3 272.6h1v1h-1zM290.1 270.3h1v1h-1zM295.9 264.8h1v1h-1zM284.7 268.4h1v1h-1zM282.9 265.1h1v1h-1zM290.0 269.7h1v1h-1zM302.5 273.6h1v1h-1zM310.7 261.5h1v1h-1zM315.8 240.5h1v1h-1zM295.0 272.5h1v1h-1zM320.2 257.9h1v1h-1zM292.1 269.0h1v1h-1zM286.9 268.5h1v1h-1zM297.0 264.5h1v1h-1zM319.2 245.2h1v1h-1zM311.5 272.9h1v1h-1zM293.3 270.7h1v1h-1zM317.9 244.9h1v1h-1zM292.8 264.3h1v1h-1zM307.4 261.7h1v1h-1zM306.2 271.9h1v1h-1zM318.4 259.0h1v1h-1zM310.5 260.9h1v1h-1zM318.1 245.0h1v1h-1zM316.9 262.0h1v1h-1zM309.3 261.7h1v1h-1zM322.6 240.3h1v1h-1zM297.6 264.5h1v1h-1zM320.2 259.8h1v1h-1zM321.5 236.1h1v1h-1zM305.1 273.8h1v1h-1zM323.6 238.0h1v1h-1zM323.5 260.2h1v1h-1zM315.7 240.5h1v1h-1zM322.5 235.7h1v1h-1zM318.9 273.1h1v1h-1zM315.9 241.1h1v1h-1zM317.1 244.8h1v1h-1zM293.9 266.6h1v1h-1zM317.7 260.3h1v1h-1zM296.6 264.3h1v1h-1zM283.5 265.8h1v1h-1zM297.4 269.3h1v1h-1zM320.1 244.8h1v1h-1zM304.8 272.3h1v1h-1zM284.1 266.4h1v1h-1zM316.7 243.4h1v1h-1zM292.4 269.5h1v1h-1zM303.0 262.5h1v1h-1zM302.4 262.2h1v1h-1zM289.2 268.9h1v1h-1zM319.3 259.5h1v1h-1zM321.4 237.2h1v1h-1zM282.4 265.3h1v1h-1zM295.7 268.6h1v1h-1zM318.9 237.3h1v1h-1zM311.3 274.3h1v1h-1zM322.2 237.6h1v1h-1zM310.8 260.9h1v1h-1zM293.5 264.8h1v1h-1zM322.3 238.0h1v1h-1zM327.3 265.3h1v1h-1z" fill="rgb(88, 111, 217)" opacity="0.73"/>
<path d="M317.1 261.6h1v1h-1zM323.5 259.6h1v1h-1zM324.8 273.0h1v1h-1zM293.3 268.0h1v1h-1zM303.4 262.0h1v1h-1zM293.9 265.4h1v1h-1zM304.5 261.1h1v1h-1zM314.4 272.7h1v1h-1zM316.0 242.1h1v1h-1zM291.4 266.7h1v1h-1zM310.9 262.5h1v1h-1zM297.7 269.9h1v1h-1zM306.4 262.3h1v1h-1zM295.0 265.5h1v1h-1zM294.6 268.4h1v1h-1zM313.7 260.7h1v1h-1zM305.3 273.4h1v1h-1zM317.1 273.5h1v1h-1zM303.7 265.3h1v1h-1zM298.9 264.6h1v1h-1zM300.1 270.9h1v1h-1zM302.1 270.0h1v1h-1zM322.8 238.2h1v1h-1zM319.6 246.0h1v1h-1zM324.3 262.6h1v1h-1zM327.4 267.5h1v1h-1zM319.9 244.4h1v1h-1zM291.7 268.2h1v1h-1zM325.0 262.5h1v1h-1zM297.3 269.4h1v1h-1zM294.0 265.9h1v1h-1zM310.2 272.3h1v1h-1zM314.8 261.0h1v1h-1zM327.3 270.2h1v1h-1zM295.3 264.9h1v1h-1zM316.1 272.5h1v1h-1zM300.6 270.1h1v1h-1zM325.6 259.8h1v1h-1zM322.3 242.8h1v1h-1zM328.2 271.9h1v1h-1zM310.0 261.9h1v1h-1zM313.9 261.4h1v1h-1zM289.5 271.5h1v1h-1zM304.1 261.8h1v1h-1zM293.7 265.9h1v1h-1zM301.9 264.1h1v1h-1zM324.2 275.2h1v1h-1zM322.9 243.3h1v1h-1zM320.7 259.1h1v1h-1zM320.6 242.9h1v1h-1zM304.4 271.9h1v1h-1zM328.2 268.1h1v1h-1zM327.1 271.7h1v1h-1zM322.4 274.0h1v1h-1zM328.0 271.6h1v1h-1zM314.9 272.8h1v1h-1zM323.1 242.0h1v1h-1zM320.1 245.6h1v1h-1zM307.0 271.5h1v1h-1zM296.1 271.5h1v1h-1zM298.1 263.9h1v1h-1zM328.2 266.9h1v1h-1zM322.4 259.8h1v1h-1zM303.6 271.1h1v1h-1zM313.8 272.3h1v1h-1zM315.8 272.4h1v1h-1zM297.3 267.7h1v1h-1zM298.7 264.2h1v1h-1zM297.8 264.9h1v1h-1zM309.6 263.7h1v1h-1zM319.3 244.9h1v1h-1zM312.7 273.3h1v1h-1zM295.5 269.3h1v1h-1zM296.6 269.9h1v1h-1zM315.0 262.2h1v1h-1zM312.8 263.1h1v1h-1zM319.1 272.9h1v1h-1zM326.4 268.2h1v1h-1zM316.5 273.6h1v1h-1zM312.5 273.3h1v1h-1zM308.6 271.9h1v1h-1zM317.7 245.1h1v1h-1zM326.7 270.1h1v1h-1zM302.2 270.7h1v1h-1zM322.7 237.7h1v1h-1zM294.5 270.4h1v1h-1zM322.9 238.3h1v1h-1zM294.4 270.1h1v1h-1zM325.1 274.4h1v1h-1zM295.7 269.6h1v1h-1zM316.0 269.0h1v1h-1zM308.3 271.8h1v1h-1zM321.7 260.2h1v1h-1zM322.6 273.7h1v1h-1zM312.9 261.6h1v1h-1zM298.1 264.6h1v1h-1zM311.4 272.0h1v1h-1zM326.6 272.3h1v1h-1zM312.9 260.7h1v1h-1zM300.9 270.3h1v1h-1zM317.0 271.7h1v1h-1zM304.4 262.5h1v1h-1zM314.0 272.1h1v1h-1zM289.4 269.6h1v1h-1zM327.1 268.0h1v1h-1zM309.2 272.7h1v1h-1zM323.6 272.9h1v1h-1zM322.5 274.1h1v1h-1zM323.0 238.4h1v1h-1zM283.4 265.9h1v1h-1zM320.7 260.4h1v1h-1zM298.5 269.4h1v1h-1zM324.9 262.6h1v1h-1zM296.4 270.1h1v1h-1zM290.5 269.9h1v1h-1zM314.2 262.7h1v1h-1zM328.0 266.3h1v1h-1zM325.8 263.5h1v1h-1zM322.6 259.2h1v1h-1zM317.6 271.8h1v1h-1zM303.7 262.5h1v1h-1zM322.0 239.6h1v1h-1zM296.2 268.1h1v1h-1zM303.3 270.5h1v1h-1zM292.0 268.0h1v1h-1zM319.8 237.5h1v1h-1zM320.2 272.2h1v1h-1zM321.5 241.8h1v1h-1zM307.8 262.6h1v1h-1zM320.0 272.3h1v1h-1zM326.2 272.7h1v1h-1zM311.1 263.5h1v1h-1zM307.7 272.5h1v1h-1zM299.5 264.0h1v1h-1zM307.0 272.6h1v1h-1zM326.9 265.4h1v1h-1zM325.8 273.3h1v1h-1zM310.3 261.8h1v1h-1zM312.0 262.1h1v1h-1zM291.5 267.0h1v1h-1zM317.8 270.3h1v1h-1zM297.7 270.0h1v1h-1zM310.6 273.3h1v1h-1zM303.9 271.2h1v1h-1zM322.1 241.6h1v1h-1zM299.7 269.6h1v1h-1zM313.6 262.5h1v1h-1zM294.1 265.3h1v1h-1zM320.5 237.0h1v1h-1zM317.0 262.8h1v1h-1zM315.7 272.4h1v1h-1zM306.2 262.6h1v1h-1zM316.3 262.7h1v1h-1zM326.2 263.1h1v1h-1zM299.7 264.3h1v1h-1zM314.1 260.8h1v1h-1zM303.6 269.3h1v1h-1zM307.5 263.3h1v1h-1zM316.8 270.2h1v1h-1zM300.0 263.5h1v1h-1zM299.0 268.0h1v1h-1zM319.5 242.8h1v1h-1zM316.4 269.8h1v1h-1zM326.8 268.1h1v1h-1zM314.2 262.7h1v1h-1zM315.4 263.0h1v1h-1zM321.4 237.8h1v1h-1zM307.3 262.9h1v1h-1zM313.7 266.0h1v1h-1zM324.3 262.2h1v1h-1z" fill="rgb(70, 109, 211)" opacity="0.82"/>
<path d="M325.7 271.1h1v1h-1zM310.8 271.5h1v1h-1zM293.6 266.4h1v1h-1zM319.5 238.1h1v1h-1zM305.3 267.7h1v1h-1zM303.4 263.6h1v1h-1zM323.2 238.3h1v1h-1zM324.3 263.2h1v1h-1zM320.9 260.0h1v1h-1zM309.4 263.0h1v1h-1zM302.5 268.5h1v1h-1zM307.0 271.9h1v1h-1zM310.3 263.6h1v1h-1zM316.7 242.5h1v1h-1zM305.9 264.6h1v1h-1zM306.3 263.6h1v1h-1zM301.0 266.3h1v1h-1zM299.1 265.7h1v1h-1zM306.2 271.7h1v1h-1zM314.0 264.2h1v1h-1zM305.9 262.3h1v1h-1zM315.9 271.2h1v1h-1zM308.9 263.7h1v1h-1zM302.6 264.4h1v1h-1zM317.7 262.1h1v1h-1zM308.4 263.1h1v1h-1zM304.9 264.1h1v1h-1zM297.1 267.9h1v1h-1zM316.7 240.0h1v1h-1zM317.8 243.5h1v1h-1zM316.6 242.1h1v1h-1zM303.6 264.9h1v1h-1zM321.2 261.0h1v1h-1zM325.6 270.1h1v1h-1zM323.1 261.1h1v1h-1zM301.0 265.7h1v1h-1zM300.5 270.4h1v1h-1zM326.7 269.6h1v1h-1zM321.5 238.5h1v1h-1zM303.3 271.4h1v1h-1zM302.6 263.1h1v1h-1zM307.4 262.9h1v1h-1zM317.9 262.3h1v1h-1zM297.3 268.2h1v1h-1zM303.3 265.0h1v1h-1zM311.7 272.1h1v1h-1zM309.5 272.1h1v1h-1zM316.3 266.7h1v1h-1zM295.6 268.7h1v1h-1zM319.1 237.9h1v1h-1zM314.7 268.1h1v1h-1zM316.0 272.0h1v1h-1zM320.5 260.0h1v1h-1zM321.5 241.9h1v1h-1zM315.0 264.7h1v1h-1zM318.4 271.6h1v1h-1zM323.1 274.6h1v1h-1zM312.8 262.0h1v1h-1zM300.0 269.3h1v1h-1zM322.3 272.8h1v1h-1zM321.4 241.4h1v1h-1zM323.8 273.7h1v1h-1zM317.8 262.7h1v1h-1zM301.5 269.8h1v1h-1zM317.7 238.9h1v1h-1zM324.4 273.4h1v1h-1zM326.9 271.4h1v1h-1zM302.7 264.3h1v1h-1zM320.8 242.3h1v1h-1zM320.9 259.0h1v1h-1zM300.1 266.3h1v1h-1zM306.0 264.6h1v1h-1zM293.4 266.5h1v1h-1zM297.9 269.1h1v1h-1zM318.3 242.7h1v1h-1zM320.7 243.4h1v1h-1zM298.2 267.3h1v1h-1zM321.3 273.4h1v1h-1zM319.8 238.1h1v1h-1zM313.3 271.8h1v1h-1zM298.3 264.9h1v1h-1zM325.7 265.2h1v1h-1zM312.8 264.2h1v1h-1zM319.5 243.7h1v1h-1zM322.5 241.0h1v1h-1zM300.3 268.8h1v1h-1zM303.9 271.0h1v1h-1zM322.3 239.4h1v1h-1zM326.5 267.7h1v1h-1zM312.8 266.2h1v1h-1zM298.3 264.9h1v1h-1zM304.9 270.1h1v1h-1zM299.0 268.8h1v1h-1zM318.2 261.2h1v1h-1zM312.3 264.0h1v1h-1zM303.6 267.0h1v1h-1zM304.4 267.6h1v1h-1zM315.6 263.4h1v1h-1zM317.3 271.4h1v1h-1zM326.2 264.5h1v1h-1zM302.2 269.2h1v1h-1zM317.8 239.4h1v1h-1zM320.4 241.1h1v1h-1zM298.1 269.3h1v1h-1zM321.8 239.4h1v1h-1zM326.7 265.7h1v1h-1zM303.6 264.8h1v1h-1zM313.4 260.9h1v1h-1zM320.7 241.8h1v1h-1zM307.2 262.8h1v1h-1zM320.4 262.3h1v1h-1zM308.2 271.0h1v1h-1zM318.1 241.4h1v1h-1zM327.0 265.7h1v1h-1zM319.9 259.7h1v1h-1zM302.8 267.7h1v1h-1zM310.0 272.1h1v1h-1zM303.1 266.3h1v1h-1zM323.1 261.5h1v1h-1zM319.7 245.4h1v1h-1zM323.9 273.0h1v1h-1zM323.9 272.8h1v1h-1zM298.8 267.2h1v1h-1zM302.3 265.6h1v1h-1zM318.2 238.9h1v1h-1zM302.5 264.1h1v1h-1zM300.9 265.2h1v1h-1zM325.4 269.2h1v1h-1zM323.5 264.5h1v1h-1zM318.3 240.5h1v1h-1zM327.1 264.7h1v1h-1zM311.4 271.4h1v1h-1zM316.9 266.7h1v1h-1zM325.4 266.9h1v1h-1zM304.7 266.7h1v1h-1zM318.2 239.5h1v1h-1zM316.5 268.0h1v1h-1zM323.1 261.1h1v1h-1zM317.6 243.1h1v1h-1zM325.3 270.7h1v1h-1zM301.7 267.6h1v1h-1zM325.4 270.0h1v1h-1zM304.3 264.7h1v1h-1zM302.1 267.5h1v1h-1zM300.2 267.6h1v1h-1zM314.1 265.5h1v1h-1zM313.6 263.0h1v1h-1zM320.4 271.0h1v1h-1zM302.8 265.1h1v1h-1zM318.0 269.9h1v1h-1zM317.9 266.1h1v1h-1zM305.9 271.3h1v1h-1zM298.3 267.4h1v1h-1zM318.1 242.1h1v1h-1zM321.1 261.5h1v1h-1zM319.1 240.2h1v1h-1zM302.3 265.6h1v1h-1zM323.0 239.5h1v1h-1zM317.4 268.9h1v1h-1zM304.5 267.4h1v1h-1zM321.1 237.1h1v1h-1zM303.6 269.2h1v1h-1zM305.9 271.9h1v1h-1zM309.8 265.4h1v1h-1zM319.5 243.0h1v1h-1zM326.8 270.1h1v1h-1zM307.3 269.8h1v1h-1zM302.9 271.1h1v1h-1zM306.1 265.0h1v1h-1zM317.3 241.3h1v1h-1zM321.9 273.6h1v1h-1zM312.6 272.5h1v1h-1zM298.8 266.9h1v1h-1zM311.7 265.3h1v1h-1zM324.7 272.5h1v1h-1zM320.4 238.6h1v1h-1zM320.7 238.2h1v1h-1zM321.9 239.8h1v1h-1zM300.0 268.2h1v1h-1zM300.4 268.0h1v1h-1zM298.4 267.7h1v1h-1zM322.3 261.2h1v1h-1zM309.3 264.1h1v1h-1zM318.3 268.5h1v1h-1zM302.8 266.8h1v1h-1zM325.6 265.2h1v1h-1zM301.8 268.9h1v1h-1zM302.6 269.0h1v1h-1zM315.4 269.5h1v1h-1zM311.6 270.8h1v1h-1zM319.3 269.5h1v1h-1zM326.6 265.9h1v1h-1zM305.8 270.3h1v1h-1zM326.8 272.0h1v1h-1zM318.9 242.0h1v1h-1zM321.1 238.0h1v1h-1zM315.7 263.6h1v1h-1zM302.9 265.8h1v1h-1zM305.5 268.3h1v1h-1zM301.9 269.6h1v1h-1zM299.3 268.0h1v1h-1z" fill="rgb(56, 114, 206)" opacity="0.91"/>
<path d="M325.0 272.1h1v1h-1zM324.6 270.1h1v1h-1zM325.8 268.9h1v1h-1zM312.3 262.9h1v1h-1zM321.1 240.9h1v1h-1zM305.1 269.9h1v1h-1zM311.7 272.3h1v1h-1zM314.8 271.5h1v1h-1zM313.8 262.9h1v1h-1zM312.7 271.2h1v1h-1zM309.4 265.1h1v1h-1zM320.1 240.4h1v1h-1zM311.9 264.9h1v1h-1zM316.9 265.0h1v1h-1zM299.9 266.5h1v1h-1zM316.6 265.5h1v1h-1zM312.5 263.0h1v1h-1zM323.2 262.6h1v1h-1zM307.0 264.8h1v1h-1zM300.0 263.7h1v1h-1zM324.9 263.9h1v1h-1zM320.6 272.6h1v1h-1zM306.5 265.4h1v1h-1zM324.9 272.6h1v1h-1zM297.6 266.9h1v1h-1zM319.1 263.2h1v1h-1zM319.4 263.2h1v1h-1zM304.1 271.5h1v1h-1zM301.7 268.2h1v1h-1zM303.6 270.1h1v1h-1zM319.4 239.9h1v1h-1zM321.4 264.0h1v1h-1zM299.8 268.3h1v1h-1zM316.1 264.9h1v1h-1zM320.0 242.1h1v1h-1zM305.8 264.8h1v1h-1zM322.5 262.6h1v1h-1zM317.9 239.5h1v1h-1zM325.6 266.2h1v1h-1zM324.5 269.0h1v1h-1zM325.0 271.7h1v1h-1zM316.9 263.9h1v1h-1zM298.7 266.0h1v1h-1zM319.7 261.3h1v1h-1zM319.5 263.4h1v1h-1zM301.4 265.0h1v1h-1zM315.8 267.4h1v1h-1zM317.0 268.1h1v1h-1zM303.9 269.4h1v1h-1zM308.9 263.3h1v1h-1zM316.6 266.2h1v1h-1zM322.6 262.2h1v1h-1zM316.1 268.0h1v1h-1zM308.9 271.2h1v1h-1zM313.0 271.5h1v1h-1zM324.4 264.6h1v1h-1zM319.0 239.9h1v1h-1zM320.2 244.6h1v1h-1zM319.6 238.4h1v1h-1zM322.3 262.7h1v1h-1zM320.8 272.0h1v1h-1zM310.4 265.4h1v1h-1zM304.5 268.1h1v1h-1zM315.7 270.9h1v1h-1zM303.9 271.0h1v1h-1zM309.2 263.7h1v1h-1zM307.7 263.1h1v1h-1zM320.3 261.6h1v1h-1zM304.7 270.0h1v1h-1zM315.6 263.7h1v1h-1zM315.9 270.5h1v1h-1zM314.5 263.9h1v1h-1zM303.8 267.1h1v1h-1zM318.8 270.1h1v1h-1zM302.6 264.0h1v1h-1zM318.2 241.3h1v1h-1zM317.6 267.1h1v1h-1zM315.0 263.5h1v1h-1zM306.6 269.7h1v1h-1zM301.4 267.4h1v1h-1zM314.4 264.9h1v1h-1zM306.0 270.4h1v1h-1zM319.5 243.1h1v1h-1zM308.5 268.9h1v1h-1zM314.1 265.6h1v1h-1zM306.4 265.5h1v1h-1zM322.9 264.5h1v1h-1zM300.2 267.2h1v1h-1zM317.6 266.0h1v1h-1zM305.5 264.5h1v1h-1zM325.3 266.9h1v1h-1zM305.7 265.9h1v1h-1zM321.3 239.1h1v1h-1zM325.4 271.5h1v1h-1zM315.8 264.1h1v1h-1zM318.7 271.3h1v1h-1zM320.4 262.1h1v1h-1zM313.2 264.8h1v1h-1zM321.0 263.4h1v1h-1zM321.7 263.5h1v1h-1zM315.9 265.5h1v1h-1zM320.1 239.1h1v1h-1zM320.5 239.3h1v1h-1zM308.9 271.3h1v1h-1zM318.1 267.7h1v1h-1zM325.2 265.4h1v1h-1zM306.2 266.8h1v1h-1zM318.4 242.7h1v1h-1zM319.2 271.2h1v1h-1zM320.3 263.4h1v1h-1zM312.7 271.6h1v1h-1zM319.4 241.4h1v1h-1zM325.6 265.0h1v1h-1zM308.1 271.4h1v1h-1zM320.5 238.0h1v1h-1zM314.9 270.2h1v1h-1zM322.0 272.2h1v1h-1zM303.3 266.7h1v1h-1zM314.4 269.7h1v1h-1zM324.2 272.2h1v1h-1zM310.3 263.8h1v1h-1zM316.0 270.1h1v1h-1zM320.7 241.8h1v1h-1zM324.2 271.7h1v1h-1zM302.9 266.3h1v1h-1zM312.4 270.2h1v1h-1zM306.1 269.3h1v1h-1zM303.4 266.6h1v1h-1zM306.6 268.3h1v1h-1zM324.7 270.8h1v1h-1zM316.8 265.6h1v1h-1zM322.7 262.2h1v1h-1zM325.6 269.1h1v1h-1zM309.3 264.1h1v1h-1zM322.1 272.2h1v1h-1zM323.4 272.9h1v1h-1zM313.8 267.1h1v1h-1zM319.2 264.8h1v1h-1zM310.2 265.0h1v1h-1zM318.7 242.6h1v1h-1zM307.6 266.7h1v1h-1zM327.1 268.1h1v1h-1zM318.4 240.7h1v1h-1zM322.0 261.8h1v1h-1zM313.7 270.3h1v1h-1zM318.6 261.8h1v1h-1zM325.0 263.8h1v1h-1zM320.8 271.4h1v1h-1zM319.2 272.4h1v1h-1zM305.0 269.8h1v1h-1zM318.9 269.8h1v1h-1zM316.4 266.6h1v1h-1zM312.9 271.4h1v1h-1zM321.0 272.4h1v1h-1zM318.9 270.6h1v1h-1zM319.9 240.1h1v1h-1zM323.1 261.9h1v1h-1zM319.6 239.2h1v1h-1zM317.2 264.7h1v1h-1zM325.4 266.5h1v1h-1zM311.2 264.7h1v1h-1zM322.2 270.0h1v1h-1zM302.2 268.7h1v1h-1zM321.0 239.7h1v1h-1zM321.9 261.5h1v1h-1zM302.3 267.2h1v1h-1zM315.9 266.9h1v1h-1zM325.6 264.9h1v1h-1zM315.3 267.3h1v1h-1zM319.5 263.2h1v1h-1zM299.5 266.6h1v1h-1zM306.7 264.4h1v1h-1zM306.1 267.8h1v1h-1zM310.6 269.9h1v1h-1zM320.6 242.0h1v1h-1zM326.0 266.0h1v1h-1zM317.9 263.9h1v1h-1zM307.2 267.9h1v1h-1zM312.5 270.4h1v1h-1zM325.1 269.7h1v1h-1zM305.9 268.8h1v1h-1zM321.3 263.2h1v1h-1zM319.5 241.6h1v1h-1zM318.4 238.4h1v1h-1zM319.2 267.0h1v1h-1zM306.6 263.9h1v1h-1zM307.5 265.1h1v1h-1zM312.8 265.5h1v1h-1zM306.5 267.6h1v1h-1zM315.3 265.6h1v1h-1zM301.7 265.9h1v1h-1zM323.1 262.1h1v1h-1zM314.0 269.1h1v1h-1zM305.9 265.7h1v1h-1zM319.0 265.9h1v1h-1zM302.9 268.7h1v1h-1zM318.8 262.8h1v1h-1zM311.7 266.0h1v1h-1zM312.5 264.1h1v1h-1zM317.6 268.8h1v1h-1zM307.5 271.0h1v1h-1zM315.2 269.5h1v1h-1zM325.4 264.9h1v1h-1zM306.6 267.4h1v1h-1zM304.7 265.9h1v1h-1zM303.8 266.4h1v1h-1zM316.3 268.2h1v1h-1zM321.2 241.1h1v1h-1zM323.5 271.5h1v1h-1zM320.0 243.5h1v1h-1zM312.9 271.6h1v1h-1zM321.9 270.8h1v1h-1z" fill="rgb(41, 119, 201)" opacity="1.00"/>
<path d="M319.3 238.3h1v1h-1zM323.8 272.7h1v1h-1zM318.0 269.3h1v1h-1zM326.7 267.1h1v1h-1zM311.1 265.5h1v1h-1zM301.2 267.3h1v1h-1zM317.5 264.9h1v1h-1zM311.5 265.9h1v1h-1zM317.5 267.8h1v1h-1zM313.4 269.3h1v1h-1zM320.3 266.1h1v1h-1zM320.7 263.3h1v1h-1zM321.2 239.1h1v1h-1zM322.4 270.7h1v1h-1zM308.3 264.6h1v1h-1zM307.9 269.7h1v1h-1zM321.7 272.2h1v1h-1zM323.4 263.9h1v1h-1zM315.1 270.6h1v1h-1zM320.3 265.0h1v1h-1zM309.4 270.0h1v1h-1zM299.5 265.8h1v1h-1zM323.9 272.0h1v1h-1zM315.4 266.0h1v1h-1zM319.3 239.5h1v1h-1zM318.5 264.4h1v1h-1zM310.4 265.9h1v1h-1zM319.6 239.0h1v1h-1zM320.1 243.5h1v1h-1zM304.9 267.4h1v1h-1zM305.3 267.3h1v1h-1zM311.5 270.8h1v1h-1zM314.4 267.9h1v1h-1zM320.8 265.6h1v1h-1zM299.6 266.1h1v1h-1zM299.6 266.7h1v1h-1zM320.7 241.3h1v1h-1zM318.0 266.9h1v1h-1zM302.7 265.2h1v1h-1zM315.2 266.9h1v1h-1zM312.2 269.0h1v1h-1zM308.1 266.8h1v1h-1zM313.1 267.0h1v1h-1zM319.1 268.5h1v1h-1zM324.8 264.5h1v1h-1zM309.2 270.3h1v1h-1zM321.8 270.3h1v1h-1zM313.9 269.2h1v1h-1zM315.3 266.2h1v1h-1zM302.1 266.3h1v1h-1zM318.7 270.0h1v1h-1zM314.8 265.7h1v1h-1zM324.9 268.3h1v1h-1zM317.6 270.3h1v1h-1zM312.0 267.3h1v1h-1zM320.6 241.7h1v1h-1zM319.4 238.7h1v1h-1zM323.9 264.6h1v1h-1zM319.0 239.9h1v1h-1zM308.4 266.5h1v1h-1zM315.1 268.5h1v1h-1zM307.8 266.0h1v1h-1zM304.3 267.1h1v1h-1zM307.8 264.4h1v1h-1zM319.1 265.2h1v1h-1zM323.3 264.2h1v1h-1zM313.9 267.4h1v1h-1zM306.2 270.0h1v1h-1zM325.2 271.2h1v1h-1zM319.0 267.9h1v1h-1zM324.9 265.5h1v1h-1zM314.9 266.7h1v1h-1zM308.8 270.3h1v1h-1zM319.2 240.9h1v1h-1zM318.4 269.6h1v1h-1zM319.6 264.2h1v1h-1zM321.3 263.2h1v1h-1zM307.9 270.3h1v1h-1zM320.1 266.0h1v1h-1zM317.4 264.5h1v1h-1zM323.6 264.2h1v1h-1zM314.0 269.5h1v1h-1zM318.6 266.7h1v1h-1zM318.6 264.0h1v1h-1zM300.7 266.0h1v1h-1zM322.0 272.2h1v1h-1zM317.0 265.0h1v1h-1zM307.5 267.6h1v1h-1zM319.8 263.8h1v1h-1zM323.3 270.6h1v1h-1zM325.0 269.6h1v1h-1zM305.0 266.9h1v1h-1zM321.5 262.0h1v1h-1zM318.8 262.8h1v1h-1zM312.4 269.8h1v1h-1zM324.9 267.8h1v1h-1zM308.9 265.7h1v1h-1zM316.3 267.9h1v1h-1zM322.8 264.6h1v1h-1zM314.4 267.8h1v1h-1zM324.3 270.7h1v1h-1zM317.8 264.4h1v1h-1zM320.5 270.2h1v1h-1zM324.2 268.3h1v1h-1zM312.7 265.0h1v1h-1zM312.5 269.5h1v1h-1zM312.6 270.4h1v1h-1zM299.8 267.5h1v1h-1zM313.6 265.1h1v1h-1zM322.4 263.9h1v1h-1zM321.2 269.8h1v1h-1zM318.9 264.2h1v1h-1zM297.2 269.0h1v1h-1zM312.8 268.4h1v1h-1zM308.8 267.8h1v1h-1zM310.2 265.6h1v1h-1zM323.4 265.4h1v1h-1zM300.4 267.4h1v1h-1zM319.5 267.1h1v1h-1zM314.7 267.8h1v1h-1zM317.0 264.8h1v1h-1zM321.0 239.5h1v1h-1zM323.1 270.4h1v1h-1zM299.0 267.3h1v1h-1zM321.3 271.2h1v1h-1zM319.6 263.8h1v1h-1zM317.9 270.3h1v1h-1zM319.9 265.1h1v1h-1zM319.7 262.2h1v1h-1zM320.8 240.3h1v1h-1zM314.4 264.0h1v1h-1zM311.5 265.6h1v1h-1zM320.0 270.9h1v1h-1zM306.3 268.6h1v1h-1zM323.1 270.7h1v1h-1zM313.4 269.1h1v1h-1zM324.9 267.2h1v1h-1zM313.9 268.7h1v1h-1zM306.6 268.4h1v1h-1zM312.9 265.0h1v1h-1zM314.8 267.8h1v1h-1zM307.3 269.5h1v1h-1zM319.1 268.5h1v1h-1zM319.5 264.6h1v1h-1zM320.5 265.6h1v1h-1zM324.9 266.3h1v1h-1zM324.8 269.9h1v1h-1zM320.0 267.4h1v1h-1zM309.5 270.3h1v1h-1z" fill="rgb(44, 139, 170)" opacity="1.00"/>
<path d="M306.8 267.8h1v1h-1zM312.5 269.7h1v1h-1zM323.9 270.1h1v1h-1zM325.1 267.4h1v1h-1zM319.5 263.7h1v1h-1zM311.3 266.9h1v1h-1zM316.8 264.4h1v1h-1zM319.5 241.6h1v1h-1zM312.3 266.9h1v1h-1zM311.5 267.2h1v1h-1zM319.6 267.6h1v1h-1zM317.7 268.3h1v1h-1zM311.8 269.1h1v1h-1zM323.4 266.1h1v1h-1zM313.9 266.2h1v1h-1zM312.0 264.8h1v1h-1zM313.5 269.1h1v1h-1zM324.3 264.7h1v1h-1zM307.8 264.8h1v1h-1zM314.7 268.2h1v1h-1zM324.2 267.6h1v1h-1zM313.1 268.8h1v1h-1zM322.6 270.0h1v1h-1zM319.7 242.0h1v1h-1zM313.6 268.3h1v1h-1zM317.9 268.2h1v1h-1zM314.4 267.1h1v1h-1zM322.7 264.9h1v1h-1zM306.5 268.7h1v1h-1zM308.4 268.3h1v1h-1zM311.7 269.6h1v1h-1zM323.9 265.7h1v1h-1zM310.5 268.2h1v1h-1zM323.8 268.0h1v1h-1zM312.6 269.1h1v1h-1zM308.9 264.8h1v1h-1zM314.0 268.0h1v1h-1zM319.9 266.0h1v1h-1zM310.1 270.0h1v1h-1zM325.2 266.1h1v1h-1zM323.9 270.6h1v1h-1zM320.4 263.7h1v1h-1zM307.7 267.6h1v1h-1zM321.0 264.8h1v1h-1zM310.9 269.0h1v1h-1zM313.3 265.6h1v1h-1zM319.6 266.8h1v1h-1zM318.8 239.9h1v1h-1zM320.0 266.0h1v1h-1zM324.9 267.8h1v1h-1zM320.5 271.2h1v1h-1zM320.7 265.6h1v1h-1zM314.5 267.5h1v1h-1zM308.6 266.7h1v1h-1zM321.9 266.4h1v1h-1zM320.1 266.9h1v1h-1zM325.7 266.2h1v1h-1zM322.7 269.8h1v1h-1zM319.3 241.2h1v1h-1zM324.8 265.3h1v1h-1zM312.4 267.9h1v1h-1zM322.2 265.6h1v1h-1zM323.6 268.0h1v1h-1zM312.5 267.1h1v1h-1zM309.7 266.0h1v1h-1zM320.3 264.9h1v1h-1zM318.7 240.2h1v1h-1zM309.2 270.7h1v1h-1zM324.6 266.7h1v1h-1zM325.2 266.4h1v1h-1zM309.4 266.2h1v1h-1zM306.8 269.4h1v1h-1zM307.6 268.3h1v1h-1zM321.6 268.4h1v1h-1zM313.1 268.3h1v1h-1zM311.5 267.3h1v1h-1zM322.0 265.3h1v1h-1zM309.1 266.1h1v1h-1zM320.3 269.7h1v1h-1zM320.7 267.7h1v1h-1zM320.7 269.1h1v1h-1zM303.2 266.7h1v1h-1zM320.9 270.4h1v1h-1zM324.2 264.6h1v1h-1zM325.7 267.5h1v1h-1zM308.0 269.3h1v1h-1zM319.6 263.7h1v1h-1zM320.2 269.4h1v1h-1zM309.0 264.8h1v1h-1zM320.0 265.0h1v1h-1zM312.2 269.2h1v1h-1zM309.7 269.2h1v1h-1zM321.8 265.6h1v1h-1zM323.2 269.4h1v1h-1zM324.0 267.5h1v1h-1zM306.5 269.5h1v1h-1zM306.4 268.0h1v1h-1zM319.3 269.2h1v1h-1zM324.1 265.8h1v1h-1zM307.7 265.5h1v1h-1zM311.5 268.1h1v1h-1zM317.6 264.3h1v1h-1zM310.6 269.7h1v1h-1zM319.1 265.0h1v1h-1zM319.8 265.3h1v1h-1zM310.8 267.5h1v1h-1zM320.2 266.7h1v1h-1zM323.7 270.1h1v1h-1zM311.9 266.1h1v1h-1zM311.8 267.3h1v1h-1zM319.6 269.1h1v1h-1zM308.2 266.3h1v1h-1zM311.2 268.4h1v1h-1zM318.7 263.7h1v1h-1zM319.9 241.7h1v1h-1zM324.2 263.9h1v1h-1zM311.8 269.4h1v1h-1zM324.3 267.4h1v1h-1z" fill="rgb(49, 161, 137)" opacity="1.00"/>
<path d="M322.1 268.4h1v1h-1zM323.7 271.6h1v1h-1zM309.9 267.5h1v1h-1zM311.1 270.2h1v1h-1zM324.2 265.0h1v1h-1zM319.7 264.7h1v1h-1zM319.8 269.1h1v1h-1zM310.7 269.3h1v1h-1zM308.9 268.4h1v1h-1zM312.8 267.9h1v1h-1zM321.8 269.3h1v1h-1zM308.6 265.9h1v1h-1zM320.6 268.0h1v1h-1zM321.9 268.8h1v1h-1zM309.3 269.0h1v1h-1zM310.5 270.1h1v1h-1zM308.6 269.3h1v1h-1zM319.7 264.4h1v1h-1zM307.0 265.2h1v1h-1zM324.5 266.6h1v1h-1zM307.4 269.5h1v1h-1zM319.9 265.1h1v1h-1zM308.7 267.1h1v1h-1zM309.5 267.0h1v1h-1zM322.5 266.9h1v1h-1zM310.7 267.8h1v1h-1zM310.8 266.0h1v1h-1zM323.9 265.1h1v1h-1zM322.6 269.6h1v1h-1zM319.3 269.2h1v1h-1zM321.0 268.3h1v1h-1zM323.2 270.7h1v1h-1zM322.6 268.3h1v1h-1zM318.5 265.6h1v1h-1zM325.2 268.5h1v1h-1zM323.2 270.4h1v1h-1zM308.5 269.5h1v1h-1zM320.8 266.2h1v1h-1zM312.1 267.3h1v1h-1zM322.4 267.5h1v1h-1zM321.6 267.7h1v1h-1zM325.1 268.7h1v1h-1zM309.8 270.3h1v1h-1zM308.8 267.3h1v1h-1zM321.5 268.5h1v1h-1zM319.6 268.4h1v1h-1zM322.6 266.4h1v1h-1zM321.1 267.1h1v1h-1zM308.7 269.1h1v1h-1zM324.8 268.0h1v1h-1zM323.8 266.1h1v1h-1zM313.0 266.3h1v1h-1zM322.4 265.1h1v1h-1zM322.8 269.5h1v1h-1zM324.5 267.3h1v1h-1zM320.6 269.4h1v1h-1zM307.7 264.3h1v1h-1zM321.1 269.4h1v1h-1zM310.6 266.8h1v1h-1zM309.4 267.9h1v1h-1zM310.9 268.0h1v1h-1zM322.0 271.3h1v1h-1zM322.4 270.4h1v1h-1zM308.2 267.0h1v1h-1zM321.2 267.8h1v1h-1zM322.7 266.8h1v1h-1zM324.2 269.0h1v1h-1zM322.5 265.2h1v1h-1zM307.7 266.2h1v1h-1zM309.4 267.6h1v1h-1zM322.3 268.5h1v1h-1zM310.3 267.8h1v1h-1zM323.9 268.7h1v1h-1zM311.9 268.9h1v1h-1z" fill="rgb(80, 176, 103)" opacity="1.00"/>
<path d="M310.0 267.0h1v1h-1zM313.6 268.2h1v1h-1zM309.6 267.6h1v1h-1zM311.4 269.0h1v1h-1zM321.9 269.3h1v1h-1zM311.3 268.0h1v1h-1zM311.6 268.3h1v1h-1zM323.2 268.3h1v1h-1zM322.2 269.9h1v1h-1zM321.4 266.5h1v1h-1zM317.9 266.4h1v1h-1zM324.1 269.3h1v1h-1zM322.0 268.7h1v1h-1zM308.9 266.0h1v1h-1zM308.6 268.0h1v1h-1zM309.2 268.1h1v1h-1zM312.3 268.1h1v1h-1zM323.5 268.4h1v1h-1zM323.8 265.4h1v1h-1zM320.3 267.6h1v1h-1zM323.2 267.3h1v1h-1zM321.7 264.5h1v1h-1zM322.4 267.4h1v1h-1zM319.8 268.8h1v1h-1zM320.7 267.9h1v1h-1zM320.7 269.1h1v1h-1zM321.2 267.8h1v1h-1zM309.4 267.7h1v1h-1zM320.9 263.8h1v1h-1zM311.4 269.2h1v1h-1zM312.4 267.1h1v1h-1zM323.7 266.7h1v1h-1zM323.6 267.7h1v1h-1zM321.4 267.8h1v1h-1zM308.4 268.2h1v1h-1zM309.7 268.0h1v1h-1zM322.2 267.0h1v1h-1zM320.9 267.0h1v1h-1zM310.1 266.8h1v1h-1zM322.4 268.8h1v1h-1zM323.0 269.0h1v1h-1zM323.7 268.8h1v1h-1zM322.4 268.7h1v1h-1zM323.2 266.7h1v1h-1zM323.9 265.9h1v1h-1zM309.9 267.9h1v1h-1zM323.5 266.6h1v1h-1zM320.8 270.2h1v1h-1zM309.9 267.9h1v1h-1zM322.8 269.2h1v1h-1zM309.8 266.1h1v1h-1zM322.8 270.1h1v1h-1zM322.2 266.7h1v1h-1zM321.8 266.6h1v1h-1zM322.7 265.9h1v1h-1zM321.9 268.0h1v1h-1zM323.1 265.8h1v1h-1zM308.5 268.0h1v1h-1zM308.9 268.6h1v1h-1zM309.9 270.3h1v1h-1zM309.1 265.8h1v1h-1z" fill="rgb(119, 191, 70)" opacity="1.00"/>
<path d="M323.5 267.2h1v1h-1zM309.9 267.5h1v1h-1zM323.1 267.1h1v1h-1zM308.8 266.1h1v1h-1zM309.7 267.9h1v1h-1zM321.0 268.7h1v1h-1zM307.4 268.3h1v1h-1zM323.1 269.4h1v1h-1zM309.0 267.5h1v1h-1zM310.9 268.3h1v1h-1zM309.3 268.6h1v1h-1zM310.0 268.4h1v1h-1zM323.8 267.3h1v1h-1zM324.4 268.1h1v1h-1zM319.5 267.9h1v1h-1zM311.6 269.6h1v1h-1zM321.8 266.2h1v1h-1zM323.2 267.2h1v1h-1zM321.7 269.5h1v1h-1zM323.3 267.6h1v1h-1zM307.1 268.5h1v1h-1zM321.6 265.8h1v1h-1zM310.1 269.2h1v1h-1zM321.9 265.9h1v1h-1zM322.7 268.9h1v1h-1zM310.8 266.2h1v1h-1zM322.6 267.1h1v1h-1zM321.0 269.2h1v1h-1z" fill="rgb(162, 200, 53)" opacity="1.00"/>
<path d="M310.4 269.0h1v1h-1zM320.1 267.8h1v1h-1zM322.8 267.7h1v1h-1zM322.6 266.3h1v1h-1zM321.3 268.1h1v1h-1zM310.7 268.1h1v1h-1zM321.3 267.2h1v1h-1z" fill="rgb(207, 207, 44)" opacity="1.00"/>
<path d="M322.9 268.4h1v1h-1zM322.7 267.4h1v1h-1zM321.7 267.7h1v1h-1z" fill="rgb(229, 193, 40)" opacity="1.00"/>
<rect x="306.80" y="221.40" width="29.30" height="30.70" fill="none" stroke="#aaa" stroke-width="0.8"/>
<path d="M306.80 231.30V252.10H336.10V231.30" fill="none" stroke="#4a4a4a" stroke-width="1.1"/>
<text x="321.15" y="218.70" font-size="8.0" text-anchor="middle" fill="#1a1a1a" textLength="32.30" lengthAdjust="spacingAndGlyphs" stroke="#1a1a1a" stroke-width="0.1">CD3+CD8+</text>
<text x="321.15" y="227.70" font-size="8.2" text-anchor="middle" fill="#1a1a1a" textLength="12.40" lengthAdjust="spacingAndGlyphs" stroke="#1a1a1a" stroke-width="0.1">16.2</text>
<rect x="382.60" y="193.50" width="85.80" height="95.60" fill="#fff" stroke="#2a2a2a" stroke-width="1.1"/>
<line x1="379.90" y1="202.55" x2="382.60" y2="202.55" stroke="#2a2a2a" stroke-width="1.0"/>
<text x="376.90" y="204.85" font-size="6.6" text-anchor="end" fill="#222" textLength="6.00" lengthAdjust="spacingAndGlyphs" stroke="#222" stroke-width="0.12">10</text>
<text x="377.10" y="202.15" font-size="3.8" text-anchor="start" fill="#333" stroke="#333" stroke-width="0.12">5</text>
<line x1="379.90" y1="225.55" x2="382.60" y2="225.55" stroke="#2a2a2a" stroke-width="1.0"/>
<text x="376.90" y="227.85" font-size="6.6" text-anchor="end" fill="#222" textLength="6.00" lengthAdjust="spacingAndGlyphs" stroke="#222" stroke-width="0.12">10</text>
<text x="377.10" y="225.15" font-size="3.8" text-anchor="start" fill="#333" stroke="#333" stroke-width="0.12">4</text>
<line x1="379.90" y1="251.20" x2="382.60" y2="251.20" stroke="#2a2a2a" stroke-width="1.0"/>
<text x="376.90" y="253.50" font-size="6.6" text-anchor="end" fill="#222" textLength="6.00" lengthAdjust="spacingAndGlyphs" stroke="#222" stroke-width="0.12">10</text>
<text x="377.10" y="250.80" font-size="3.8" text-anchor="start" fill="#333" stroke="#333" stroke-width="0.12">3</text>
<line x1="379.90" y1="267.45" x2="382.60" y2="267.45" stroke="#2a2a2a" stroke-width="1.0"/>
<text x="379.20" y="269.75" font-size="6.8" text-anchor="end" fill="#222" stroke="#222" stroke-width="0.12">0</text>
<rect x="380.50" y="265.05" width="2.00" height="3.60" fill="#111"/>
<line x1="379.90" y1="282.70" x2="382.60" y2="282.70" stroke="#2a2a2a" stroke-width="1.0"/>
<text x="376.90" y="285.00" font-size="6.6" text-anchor="end" fill="#222" textLength="8.40" lengthAdjust="spacingAndGlyphs" stroke="#222" stroke-width="0.12">-10</text>
<text x="377.10" y="282.30" font-size="3.8" text-anchor="start" fill="#333" stroke="#333" stroke-width="0.12">3</text>
<line x1="380.80" y1="218.63" x2="382.60" y2="218.63" stroke="#444" stroke-width="0.7"/>
<line x1="380.80" y1="214.58" x2="382.60" y2="214.58" stroke="#444" stroke-width="0.7"/>
<line x1="380.80" y1="211.70" x2="382.60" y2="211.70" stroke="#444" stroke-width="0.7"/>
<line x1="380.80" y1="209.47" x2="382.60" y2="209.47" stroke="#444" stroke-width="0.7"/>
<line x1="380.80" y1="207.65" x2="382.60" y2="207.65" stroke="#444" stroke-width="0.7"/>
<line x1="380.80" y1="206.11" x2="382.60" y2="206.11" stroke="#444" stroke-width="0.7"/>
<line x1="380.80" y1="204.78" x2="382.60" y2="204.78" stroke="#444" stroke-width="0.7"/>
<line x1="380.80" y1="203.60" x2="382.60" y2="203.60" stroke="#444" stroke-width="0.7"/>
<line x1="380.80" y1="243.48" x2="382.60" y2="243.48" stroke="#444" stroke-width="0.7"/>
<line x1="380.80" y1="238.96" x2="382.60" y2="238.96" stroke="#444" stroke-width="0.7"/>
<line x1="380.80" y1="235.76" x2="382.60" y2="235.76" stroke="#444" stroke-width="0.7"/>
<line x1="380.80" y1="233.27" x2="382.60" y2="233.27" stroke="#444" stroke-width="0.7"/>
<line x1="380.80" y1="231.24" x2="382.60" y2="231.24" stroke="#444" stroke-width="0.7"/>
<line x1="380.80" y1="229.52" x2="382.60" y2="229.52" stroke="#444" stroke-width="0.7"/>
<line x1="380.80" y1="228.04" x2="382.60" y2="228.04" stroke="#444" stroke-width="0.7"/>
<line x1="380.80" y1="226.72" x2="382.60" y2="226.72" stroke="#444" stroke-width="0.7"/>
<line x1="382.80" y1="288.70" x2="382.80" y2="290.90" stroke="#2a2a2a" stroke-width="1.0"/>
<text x="382.20" y="297.50" font-size="6.6" text-anchor="start" fill="#222" textLength="6.00" lengthAdjust="spacingAndGlyphs" stroke="#222" stroke-width="0.12">10</text>
<text x="388.30" y="294.30" font-size="3.8" text-anchor="start" fill="#333" stroke="#333" stroke-width="0.12">0</text>
<line x1="387.20" y1="288.70" x2="387.20" y2="290.00" stroke="#555" stroke-width="0.6"/>
<line x1="389.77" y1="288.70" x2="389.77" y2="290.00" stroke="#555" stroke-width="0.6"/>
<line x1="391.59" y1="288.70" x2="391.59" y2="290.00" stroke="#555" stroke-width="0.6"/>
<line x1="393.00" y1="288.70" x2="393.00" y2="290.00" stroke="#555" stroke-width="0.6"/>
<line x1="394.16" y1="288.70" x2="394.16" y2="290.00" stroke="#555" stroke-width="0.6"/>
<line x1="395.14" y1="288.70" x2="395.14" y2="290.00" stroke="#555" stroke-width="0.6"/>
<line x1="395.99" y1="288.70" x2="395.99" y2="290.00" stroke="#555" stroke-width="0.6"/>
<line x1="396.73" y1="288.70" x2="396.73" y2="290.00" stroke="#555" stroke-width="0.6"/>
<line x1="397.40" y1="288.70" x2="397.40" y2="290.90" stroke="#2a2a2a" stroke-width="1.0"/>
<text x="396.80" y="297.50" font-size="6.6" text-anchor="start" fill="#222" textLength="6.00" lengthAdjust="spacingAndGlyphs" stroke="#222" stroke-width="0.12">10</text>
<text x="402.90" y="294.30" font-size="3.8" text-anchor="start" fill="#333" stroke="#333" stroke-width="0.12">1</text>
<line x1="402.31" y1="288.70" x2="402.31" y2="290.00" stroke="#555" stroke-width="0.6"/>
<line x1="405.18" y1="288.70" x2="405.18" y2="290.00" stroke="#555" stroke-width="0.6"/>
<line x1="407.21" y1="288.70" x2="407.21" y2="290.00" stroke="#555" stroke-width="0.6"/>
<line x1="408.79" y1="288.70" x2="408.79" y2="290.00" stroke="#555" stroke-width="0.6"/>
<line x1="410.08" y1="288.70" x2="410.08" y2="290.00" stroke="#555" stroke-width="0.6"/>
<line x1="411.18" y1="288.70" x2="411.18" y2="290.00" stroke="#555" stroke-width="0.6"/>
<line x1="412.12" y1="288.70" x2="412.12" y2="290.00" stroke="#555" stroke-width="0.6"/>
<line x1="412.95" y1="288.70" x2="412.95" y2="290.00" stroke="#555" stroke-width="0.6"/>
<line x1="413.70" y1="288.70" x2="413.70" y2="290.90" stroke="#2a2a2a" stroke-width="1.0"/>
<text x="413.10" y="297.50" font-size="6.6" text-anchor="start" fill="#222" textLength="6.00" lengthAdjust="spacingAndGlyphs" stroke="#222" stroke-width="0.12">10</text>
<text x="419.20" y="294.30" font-size="3.8" text-anchor="start" fill="#333" stroke="#333" stroke-width="0.12">2</text>
<line x1="418.16" y1="288.70" x2="418.16" y2="290.00" stroke="#555" stroke-width="0.6"/>
<line x1="420.76" y1="288.70" x2="420.76" y2="290.00" stroke="#555" stroke-width="0.6"/>
<line x1="422.61" y1="288.70" x2="422.61" y2="290.00" stroke="#555" stroke-width="0.6"/>
<line x1="424.04" y1="288.70" x2="424.04" y2="290.00" stroke="#555" stroke-width="0.6"/>
<line x1="425.22" y1="288.70" x2="425.22" y2="290.00" stroke="#555" stroke-width="0.6"/>
<line x1="426.21" y1="288.70" x2="426.21" y2="290.00" stroke="#555" stroke-width="0.6"/>
<line x1="427.07" y1="288.70" x2="427.07" y2="290.00" stroke="#555" stroke-width="0.6"/>
<line x1="427.82" y1="288.70" x2="427.82" y2="290.00" stroke="#555" stroke-width="0.6"/>
<line x1="428.50" y1="288.70" x2="428.50" y2="290.90" stroke="#2a2a2a" stroke-width="1.0"/>
<text x="427.90" y="297.50" font-size="6.6" text-anchor="start" fill="#222" textLength="6.00" lengthAdjust="spacingAndGlyphs" stroke="#222" stroke-width="0.12">10</text>
<text x="434.00" y="294.30" font-size="3.8" text-anchor="start" fill="#333" stroke="#333" stroke-width="0.12">3</text>
<line x1="433.44" y1="288.70" x2="433.44" y2="290.00" stroke="#555" stroke-width="0.6"/>
<line x1="436.32" y1="288.70" x2="436.32" y2="290.00" stroke="#555" stroke-width="0.6"/>
<line x1="438.37" y1="288.70" x2="438.37" y2="290.00" stroke="#555" stroke-width="0.6"/>
<line x1="439.96" y1="288.70" x2="439.96" y2="290.00" stroke="#555" stroke-width="0.6"/>
<line x1="441.26" y1="288.70" x2="441.26" y2="290.00" stroke="#555" stroke-width="0.6"/>
<line x1="442.36" y1="288.70" x2="442.36" y2="290.00" stroke="#555" stroke-width="0.6"/>
<line x1="443.31" y1="288.70" x2="443.31" y2="290.00" stroke="#555" stroke-width="0.6"/>
<line x1="444.15" y1="288.70" x2="444.15" y2="290.00" stroke="#555" stroke-width="0.6"/>
<line x1="444.90" y1="288.70" x2="444.90" y2="290.90" stroke="#2a2a2a" stroke-width="1.0"/>
<text x="444.30" y="297.50" font-size="6.6" text-anchor="start" fill="#222" textLength="6.00" lengthAdjust="spacingAndGlyphs" stroke="#222" stroke-width="0.12">10</text>
<text x="450.40" y="294.30" font-size="3.8" text-anchor="start" fill="#333" stroke="#333" stroke-width="0.12">4</text>
<line x1="449.81" y1="288.70" x2="449.81" y2="290.00" stroke="#555" stroke-width="0.6"/>
<line x1="452.68" y1="288.70" x2="452.68" y2="290.00" stroke="#555" stroke-width="0.6"/>
<line x1="454.71" y1="288.70" x2="454.71" y2="290.00" stroke="#555" stroke-width="0.6"/>
<line x1="456.29" y1="288.70" x2="456.29" y2="290.00" stroke="#555" stroke-width="0.6"/>
<line x1="457.58" y1="288.70" x2="457.58" y2="290.00" stroke="#555" stroke-width="0.6"/>
<line x1="458.68" y1="288.70" x2="458.68" y2="290.00" stroke="#555" stroke-width="0.6"/>
<line x1="459.62" y1="288.70" x2="459.62" y2="290.00" stroke="#555" stroke-width="0.6"/>
<line x1="460.45" y1="288.70" x2="460.45" y2="290.00" stroke="#555" stroke-width="0.6"/>
<line x1="461.20" y1="288.70" x2="461.20" y2="290.90" stroke="#2a2a2a" stroke-width="1.0"/>
<text x="460.60" y="297.50" font-size="6.6" text-anchor="start" fill="#222" textLength="6.00" lengthAdjust="spacingAndGlyphs" stroke="#222" stroke-width="0.12">10</text>
<text x="466.70" y="294.30" font-size="3.8" text-anchor="start" fill="#333" stroke="#333" stroke-width="0.12">5</text>
<text x="420.60" y="311.30" font-size="10.3" text-anchor="middle" fill="#222" textLength="14.00" lengthAdjust="spacingAndGlyphs" stroke="#222" stroke-width="0.12">CD3</text>
<path d="M442.1 261.9h1v1h-1zM433.9 251.2h1v1h-1zM417.1 224.1h1v1h-1zM410.8 238.0h1v1h-1zM401.2 249.4h1v1h-1zM425.1 229.6h1v1h-1zM418.3 253.0h1v1h-1zM404.9 243.1h1v1h-1zM412.2 232.9h1v1h-1zM433.4 254.0h1v1h-1zM413.9 254.8h1v1h-1zM397.6 260.6h1v1h-1zM434.2 274.2h1v1h-1zM435.4 237.6h1v1h-1zM444.0 255.7h1v1h-1zM438.1 260.1h1v1h-1zM417.6 234.1h1v1h-1zM431.9 247.9h1v1h-1zM440.0 264.0h1v1h-1zM410.9 246.6h1v1h-1zM432.6 237.7h1v1h-1zM429.6 254.9h1v1h-1zM438.0 243.0h1v1h-1zM435.1 242.2h1v1h-1zM426.2 252.1h1v1h-1zM403.8 257.0h1v1h-1zM441.0 258.9h1v1h-1zM407.1 255.5h1v1h-1zM400.3 259.5h1v1h-1zM432.8 259.1h1v1h-1zM428.2 248.8h1v1h-1zM413.8 250.7h1v1h-1zM437.0 235.4h1v1h-1zM427.8 252.1h1v1h-1zM430.9 229.9h1v1h-1zM436.6 258.9h1v1h-1zM388.6 271.7h1v1h-1zM413.5 251.8h1v1h-1zM387.8 264.9h1v1h-1zM435.1 240.0h1v1h-1zM422.9 228.0h1v1h-1zM427.4 232.7h1v1h-1zM388.5 269.4h1v1h-1zM432.8 255.3h1v1h-1zM440.7 264.7h1v1h-1zM429.1 257.2h1v1h-1zM413.5 243.8h1v1h-1zM423.5 231.8h1v1h-1zM430.8 276.1h1v1h-1zM428.1 248.7h1v1h-1zM438.4 268.7h1v1h-1zM407.9 255.8h1v1h-1zM416.9 241.6h1v1h-1zM426.3 256.5h1v1h-1zM413.6 258.0h1v1h-1zM418.0 254.4h1v1h-1zM393.8 263.3h1v1h-1zM425.1 249.2h1v1h-1zM437.2 267.7h1v1h-1zM422.4 255.4h1v1h-1zM437.7 262.5h1v1h-1zM425.7 257.2h1v1h-1zM414.9 251.3h1v1h-1zM418.9 274.0h1v1h-1zM430.4 258.8h1v1h-1zM396.5 272.2h1v1h-1zM431.5 231.5h1v1h-1zM420.9 258.7h1v1h-1zM415.0 245.3h1v1h-1zM429.8 245.1h1v1h-1zM423.4 250.8h1v1h-1zM418.2 237.0h1v1h-1z" fill="rgb(138, 154, 231)" opacity="0.55"/>
<path d="M415.8 245.9h1v1h-1zM406.4 260.9h1v1h-1zM436.4 264.1h1v1h-1zM430.1 243.4h1v1h-1zM428.6 275.4h1v1h-1zM432.7 233.0h1v1h-1zM437.6 267.2h1v1h-1zM420.2 273.5h1v1h-1zM390.4 263.9h1v1h-1zM430.4 234.2h1v1h-1zM428.0 257.9h1v1h-1zM430.6 242.9h1v1h-1zM429.8 275.4h1v1h-1zM427.8 247.1h1v1h-1zM421.6 249.9h1v1h-1zM430.5 274.3h1v1h-1zM429.3 235.7h1v1h-1zM432.0 232.7h1v1h-1zM411.7 259.2h1v1h-1zM424.0 275.2h1v1h-1zM417.6 245.4h1v1h-1zM399.8 262.7h1v1h-1zM405.9 273.3h1v1h-1zM413.7 261.3h1v1h-1zM391.0 269.8h1v1h-1zM402.0 262.5h1v1h-1zM405.5 260.8h1v1h-1zM431.1 234.3h1v1h-1zM419.8 247.8h1v1h-1zM435.5 263.0h1v1h-1zM428.3 245.0h1v1h-1zM419.3 272.7h1v1h-1zM422.4 255.8h1v1h-1zM431.7 235.4h1v1h-1zM436.4 270.4h1v1h-1zM409.9 261.4h1v1h-1zM415.1 260.4h1v1h-1zM400.1 271.0h1v1h-1zM395.9 264.6h1v1h-1zM419.1 239.5h1v1h-1zM423.0 257.2h1v1h-1zM421.3 236.0h1v1h-1zM412.5 259.2h1v1h-1zM425.1 275.1h1v1h-1zM426.4 234.7h1v1h-1zM422.3 257.8h1v1h-1zM418.2 242.9h1v1h-1zM389.2 266.6h1v1h-1zM420.8 236.4h1v1h-1zM411.6 260.6h1v1h-1zM421.0 272.7h1v1h-1zM401.2 262.9h1v1h-1zM437.0 264.7h1v1h-1zM388.9 266.8h1v1h-1zM391.9 269.8h1v1h-1zM416.3 258.6h1v1h-1zM417.9 258.6h1v1h-1zM391.8 265.4h1v1h-1zM434.9 272.1h1v1h-1zM434.1 262.4h1v1h-1zM428.0 234.6h1v1h-1zM418.1 246.5h1v1h-1zM431.7 233.7h1v1h-1zM392.2 265.2h1v1h-1zM423.5 258.4h1v1h-1zM422.7 271.8h1v1h-1zM406.4 272.9h1v1h-1zM400.1 270.9h1v1h-1zM429.2 259.9h1v1h-1zM389.4 265.8h1v1h-1zM427.2 258.2h1v1h-1zM392.3 264.9h1v1h-1zM394.3 265.6h1v1h-1zM418.0 259.1h1v1h-1zM405.2 273.1h1v1h-1zM430.2 237.8h1v1h-1zM421.8 248.8h1v1h-1zM401.5 263.7h1v1h-1zM436.1 269.9h1v1h-1zM411.4 260.4h1v1h-1zM425.7 233.2h1v1h-1zM424.7 275.0h1v1h-1zM418.6 247.4h1v1h-1zM410.3 272.9h1v1h-1zM412.0 273.1h1v1h-1zM428.3 236.1h1v1h-1zM412.1 261.5h1v1h-1zM427.7 260.4h1v1h-1zM423.2 248.9h1v1h-1zM436.7 268.1h1v1h-1zM435.9 266.8h1v1h-1zM426.4 259.2h1v1h-1zM394.1 270.5h1v1h-1zM424.3 258.8h1v1h-1zM418.4 247.1h1v1h-1zM425.4 246.8h1v1h-1zM418.4 247.0h1v1h-1zM402.5 271.8h1v1h-1zM429.1 242.3h1v1h-1zM401.0 264.3h1v1h-1zM425.2 233.7h1v1h-1zM425.6 234.3h1v1h-1zM424.3 247.9h1v1h-1zM400.2 264.2h1v1h-1zM421.7 247.3h1v1h-1zM420.8 238.6h1v1h-1z" fill="rgb(112, 133, 224)" opacity="0.64"/>
<path d="M424.0 273.1h1v1h-1zM419.1 260.4h1v1h-1zM423.3 248.8h1v1h-1zM396.1 266.4h1v1h-1zM392.2 269.4h1v1h-1zM429.6 239.0h1v1h-1zM398.3 269.8h1v1h-1zM409.0 272.9h1v1h-1zM396.5 271.5h1v1h-1zM392.2 269.4h1v1h-1zM397.0 264.8h1v1h-1zM429.7 243.4h1v1h-1zM429.1 240.9h1v1h-1zM405.3 263.3h1v1h-1zM393.4 267.7h1v1h-1zM433.9 271.1h1v1h-1zM390.5 267.2h1v1h-1zM423.0 236.1h1v1h-1zM429.5 238.0h1v1h-1zM395.7 268.0h1v1h-1zM427.0 234.5h1v1h-1zM395.9 270.1h1v1h-1zM391.0 267.5h1v1h-1zM424.9 259.7h1v1h-1zM394.1 267.0h1v1h-1zM398.7 264.5h1v1h-1zM396.7 267.7h1v1h-1zM390.9 267.9h1v1h-1zM418.9 242.9h1v1h-1zM425.5 260.5h1v1h-1zM434.3 271.1h1v1h-1zM419.9 245.0h1v1h-1zM396.4 265.0h1v1h-1zM397.9 265.5h1v1h-1zM425.1 259.6h1v1h-1zM424.1 246.8h1v1h-1zM430.3 261.2h1v1h-1zM394.3 270.5h1v1h-1zM398.4 264.7h1v1h-1zM411.3 272.2h1v1h-1zM434.7 265.6h1v1h-1zM423.4 261.0h1v1h-1zM401.3 270.3h1v1h-1zM421.8 246.8h1v1h-1zM426.1 274.5h1v1h-1zM423.0 261.2h1v1h-1zM425.7 234.5h1v1h-1zM429.5 238.3h1v1h-1zM419.4 244.9h1v1h-1zM424.5 235.6h1v1h-1zM394.3 269.8h1v1h-1zM425.7 260.3h1v1h-1zM392.4 266.9h1v1h-1zM404.2 272.5h1v1h-1zM408.8 273.0h1v1h-1zM434.8 269.1h1v1h-1zM403.8 271.9h1v1h-1zM423.8 247.0h1v1h-1zM425.0 247.2h1v1h-1zM396.5 270.0h1v1h-1zM421.1 262.4h1v1h-1zM398.7 264.1h1v1h-1zM406.7 271.0h1v1h-1zM394.7 269.4h1v1h-1zM396.7 267.1h1v1h-1zM418.9 261.6h1v1h-1zM418.4 260.1h1v1h-1zM434.2 262.8h1v1h-1zM399.6 269.3h1v1h-1zM392.8 269.5h1v1h-1zM406.1 264.3h1v1h-1zM393.4 266.3h1v1h-1zM422.6 247.1h1v1h-1zM419.4 261.0h1v1h-1zM400.6 269.7h1v1h-1zM426.7 245.0h1v1h-1zM413.2 273.3h1v1h-1zM423.0 261.9h1v1h-1zM418.6 261.5h1v1h-1zM397.3 264.2h1v1h-1zM397.0 268.5h1v1h-1zM429.5 239.7h1v1h-1zM395.5 266.8h1v1h-1zM423.6 234.9h1v1h-1zM390.8 268.6h1v1h-1zM423.9 261.6h1v1h-1zM433.4 271.3h1v1h-1zM414.3 273.3h1v1h-1zM423.5 247.1h1v1h-1zM430.1 261.3h1v1h-1zM434.7 263.9h1v1h-1zM425.1 235.5h1v1h-1zM422.5 271.6h1v1h-1zM404.0 271.1h1v1h-1zM428.8 242.4h1v1h-1zM434.7 270.3h1v1h-1zM416.3 263.2h1v1h-1zM399.7 268.0h1v1h-1zM424.5 246.1h1v1h-1zM418.6 260.2h1v1h-1zM417.8 260.1h1v1h-1zM423.9 271.8h1v1h-1zM419.9 271.1h1v1h-1zM395.1 267.6h1v1h-1zM406.6 271.7h1v1h-1zM419.3 244.5h1v1h-1zM393.4 267.6h1v1h-1zM426.9 245.6h1v1h-1zM428.4 261.2h1v1h-1zM405.9 263.2h1v1h-1zM424.6 272.1h1v1h-1zM422.2 247.1h1v1h-1zM407.3 263.5h1v1h-1zM402.3 271.0h1v1h-1zM394.9 269.4h1v1h-1zM429.9 240.1h1v1h-1zM422.6 270.9h1v1h-1zM411.8 272.0h1v1h-1zM409.3 271.8h1v1h-1zM433.8 263.0h1v1h-1zM402.1 264.4h1v1h-1zM403.9 264.1h1v1h-1zM390.2 268.3h1v1h-1zM428.7 237.9h1v1h-1zM420.5 237.9h1v1h-1zM397.4 265.0h1v1h-1zM400.6 266.1h1v1h-1zM418.0 260.5h1v1h-1zM401.5 271.1h1v1h-1zM427.3 243.5h1v1h-1zM397.3 265.9h1v1h-1zM415.3 272.3h1v1h-1zM395.9 269.9h1v1h-1zM429.9 272.9h1v1h-1z" fill="rgb(88, 111, 217)" opacity="0.73"/>
<path d="M398.2 264.2h1v1h-1zM424.9 245.8h1v1h-1zM428.1 273.3h1v1h-1zM398.2 269.2h1v1h-1zM431.5 262.1h1v1h-1zM417.3 271.0h1v1h-1zM414.6 272.7h1v1h-1zM425.7 273.5h1v1h-1zM424.5 260.7h1v1h-1zM400.5 266.7h1v1h-1zM420.3 246.0h1v1h-1zM402.6 269.0h1v1h-1zM398.7 264.8h1v1h-1zM429.1 239.2h1v1h-1zM403.6 269.9h1v1h-1zM421.3 263.3h1v1h-1zM396.5 269.5h1v1h-1zM420.2 265.7h1v1h-1zM418.3 262.6h1v1h-1zM398.9 266.6h1v1h-1zM408.2 263.6h1v1h-1zM414.8 272.0h1v1h-1zM420.4 245.5h1v1h-1zM408.0 272.3h1v1h-1zM398.5 269.1h1v1h-1zM434.7 264.9h1v1h-1zM434.5 264.7h1v1h-1zM428.6 238.5h1v1h-1zM427.2 273.7h1v1h-1zM433.8 271.3h1v1h-1zM426.0 273.6h1v1h-1zM420.9 244.4h1v1h-1zM432.8 263.1h1v1h-1zM398.7 266.8h1v1h-1zM422.4 262.7h1v1h-1zM424.7 235.7h1v1h-1zM401.7 268.8h1v1h-1zM426.7 261.5h1v1h-1zM428.1 238.2h1v1h-1zM433.4 264.1h1v1h-1zM391.4 268.5h1v1h-1zM418.6 271.4h1v1h-1zM400.9 267.9h1v1h-1zM401.6 268.8h1v1h-1zM427.3 237.1h1v1h-1zM418.6 271.2h1v1h-1zM424.7 246.4h1v1h-1zM419.8 271.0h1v1h-1zM425.2 261.6h1v1h-1zM421.0 244.3h1v1h-1zM421.7 238.5h1v1h-1zM425.6 261.1h1v1h-1zM432.4 263.9h1v1h-1zM400.0 267.4h1v1h-1zM434.3 267.1h1v1h-1zM427.0 237.6h1v1h-1zM409.4 263.0h1v1h-1zM425.1 271.2h1v1h-1zM404.0 270.4h1v1h-1zM409.2 272.6h1v1h-1zM408.8 271.1h1v1h-1zM404.2 268.9h1v1h-1zM397.7 268.2h1v1h-1zM427.1 238.3h1v1h-1zM399.4 266.2h1v1h-1zM427.5 263.3h1v1h-1zM431.8 271.2h1v1h-1zM418.3 262.6h1v1h-1zM399.4 269.3h1v1h-1zM426.8 235.8h1v1h-1zM423.3 261.8h1v1h-1zM411.4 264.4h1v1h-1zM430.8 262.1h1v1h-1zM408.5 272.4h1v1h-1zM430.6 271.7h1v1h-1zM415.5 271.1h1v1h-1zM416.5 262.3h1v1h-1zM420.4 268.5h1v1h-1zM423.0 263.3h1v1h-1zM434.7 267.9h1v1h-1zM433.7 269.0h1v1h-1zM397.4 269.3h1v1h-1zM414.0 271.8h1v1h-1zM424.5 245.1h1v1h-1zM422.4 244.9h1v1h-1zM427.8 236.5h1v1h-1zM408.5 263.2h1v1h-1zM431.4 263.0h1v1h-1zM417.7 261.1h1v1h-1zM421.1 269.2h1v1h-1zM417.9 263.3h1v1h-1zM420.6 264.2h1v1h-1zM429.6 262.2h1v1h-1zM420.6 239.5h1v1h-1zM402.1 268.5h1v1h-1zM402.4 265.4h1v1h-1zM429.3 272.6h1v1h-1zM414.0 272.3h1v1h-1zM402.3 265.2h1v1h-1zM417.5 271.5h1v1h-1zM421.7 240.2h1v1h-1zM427.2 238.9h1v1h-1zM424.0 237.5h1v1h-1zM429.9 262.3h1v1h-1zM431.8 272.1h1v1h-1zM420.3 269.7h1v1h-1zM426.4 271.9h1v1h-1zM416.4 262.3h1v1h-1zM419.7 270.5h1v1h-1zM434.6 265.9h1v1h-1zM401.8 268.6h1v1h-1zM428.6 238.5h1v1h-1zM423.3 269.1h1v1h-1zM404.4 269.9h1v1h-1zM433.1 264.5h1v1h-1zM396.9 267.8h1v1h-1zM433.5 264.5h1v1h-1zM409.0 270.7h1v1h-1zM427.6 237.5h1v1h-1zM402.9 266.3h1v1h-1zM411.3 262.9h1v1h-1zM428.8 240.3h1v1h-1zM415.8 263.5h1v1h-1zM423.9 236.1h1v1h-1zM416.1 265.0h1v1h-1zM432.5 271.1h1v1h-1zM399.7 267.3h1v1h-1zM397.3 268.1h1v1h-1zM424.7 271.3h1v1h-1zM401.0 268.1h1v1h-1zM423.1 245.5h1v1h-1zM426.2 272.4h1v1h-1zM404.2 263.7h1v1h-1zM433.2 266.6h1v1h-1zM421.5 264.0h1v1h-1zM422.8 238.1h1v1h-1zM421.7 269.0h1v1h-1zM423.0 268.1h1v1h-1zM404.0 266.6h1v1h-1zM432.9 270.8h1v1h-1zM401.1 267.5h1v1h-1zM415.5 263.6h1v1h-1zM400.4 267.0h1v1h-1zM420.3 240.7h1v1h-1zM423.0 262.4h1v1h-1zM419.0 263.7h1v1h-1zM410.0 271.0h1v1h-1zM404.3 269.7h1v1h-1zM426.9 243.1h1v1h-1zM407.0 270.8h1v1h-1zM433.2 264.4h1v1h-1z" fill="rgb(70, 109, 211)" opacity="0.82"/>
<path d="M420.3 241.1h1v1h-1zM430.8 262.5h1v1h-1zM431.9 270.7h1v1h-1zM414.2 263.2h1v1h-1zM415.3 262.7h1v1h-1zM423.3 236.1h1v1h-1zM412.4 263.3h1v1h-1zM424.1 245.1h1v1h-1zM401.8 266.8h1v1h-1zM417.6 262.0h1v1h-1zM431.9 263.6h1v1h-1zM433.6 264.8h1v1h-1zM428.3 240.8h1v1h-1zM401.5 265.6h1v1h-1zM422.6 270.6h1v1h-1zM428.4 271.8h1v1h-1zM431.2 263.5h1v1h-1zM427.4 240.9h1v1h-1zM414.6 271.9h1v1h-1zM432.7 270.7h1v1h-1zM411.9 263.5h1v1h-1zM427.8 261.9h1v1h-1zM407.1 264.5h1v1h-1zM426.2 237.6h1v1h-1zM403.5 268.8h1v1h-1zM418.5 269.4h1v1h-1zM411.0 263.6h1v1h-1zM425.0 262.0h1v1h-1zM407.7 265.2h1v1h-1zM396.4 268.8h1v1h-1zM421.8 240.2h1v1h-1zM399.3 265.9h1v1h-1zM417.8 271.0h1v1h-1zM427.7 262.6h1v1h-1zM405.4 269.2h1v1h-1zM425.5 244.5h1v1h-1zM408.9 262.8h1v1h-1zM427.7 272.5h1v1h-1zM412.8 262.9h1v1h-1zM408.8 270.5h1v1h-1zM428.8 272.0h1v1h-1zM423.8 269.0h1v1h-1zM420.1 268.6h1v1h-1zM428.3 240.5h1v1h-1zM428.4 262.4h1v1h-1zM427.1 243.9h1v1h-1zM425.2 237.0h1v1h-1zM425.3 271.5h1v1h-1zM420.6 239.5h1v1h-1zM404.0 265.2h1v1h-1zM405.6 266.3h1v1h-1zM405.1 269.4h1v1h-1zM421.7 268.6h1v1h-1zM423.4 264.9h1v1h-1zM421.4 267.4h1v1h-1zM427.3 239.7h1v1h-1zM411.8 270.3h1v1h-1zM426.2 242.0h1v1h-1zM407.1 264.1h1v1h-1zM426.0 262.7h1v1h-1zM431.6 271.3h1v1h-1zM406.3 269.8h1v1h-1zM424.5 271.0h1v1h-1zM407.5 270.5h1v1h-1zM424.8 237.5h1v1h-1zM420.5 264.4h1v1h-1zM427.6 240.5h1v1h-1zM408.0 269.4h1v1h-1zM424.9 271.7h1v1h-1zM422.8 245.9h1v1h-1zM408.8 271.9h1v1h-1zM432.5 269.2h1v1h-1zM423.5 268.7h1v1h-1zM423.9 262.8h1v1h-1zM406.3 264.8h1v1h-1zM423.2 266.6h1v1h-1zM428.0 241.6h1v1h-1zM426.3 263.3h1v1h-1zM402.7 268.0h1v1h-1zM405.1 268.8h1v1h-1zM415.5 263.5h1v1h-1zM415.7 264.2h1v1h-1zM424.0 262.7h1v1h-1zM433.1 269.8h1v1h-1zM401.2 267.1h1v1h-1zM404.8 265.8h1v1h-1zM402.9 268.7h1v1h-1zM411.7 271.6h1v1h-1zM433.5 267.5h1v1h-1zM410.0 264.3h1v1h-1zM418.3 263.0h1v1h-1zM420.0 268.8h1v1h-1zM426.9 271.2h1v1h-1zM410.5 262.9h1v1h-1zM430.5 263.1h1v1h-1zM405.6 268.3h1v1h-1zM428.7 271.9h1v1h-1zM409.5 264.3h1v1h-1zM422.2 268.5h1v1h-1zM428.0 272.6h1v1h-1zM414.6 272.3h1v1h-1zM427.7 239.8h1v1h-1zM427.4 272.4h1v1h-1zM403.8 268.5h1v1h-1zM425.0 262.8h1v1h-1zM431.3 271.6h1v1h-1zM426.5 237.3h1v1h-1zM433.1 265.9h1v1h-1zM419.9 263.1h1v1h-1zM423.5 265.5h1v1h-1zM423.9 245.2h1v1h-1zM417.2 270.2h1v1h-1zM426.2 263.2h1v1h-1zM426.8 241.9h1v1h-1zM421.7 264.4h1v1h-1zM426.8 263.1h1v1h-1zM430.2 263.6h1v1h-1zM433.9 266.6h1v1h-1zM422.5 268.5h1v1h-1zM426.1 244.0h1v1h-1zM413.1 262.9h1v1h-1zM419.6 269.6h1v1h-1zM433.9 268.3h1v1h-1zM433.6 268.1h1v1h-1zM402.5 267.2h1v1h-1zM405.9 268.8h1v1h-1zM409.0 264.4h1v1h-1zM428.0 237.9h1v1h-1zM402.5 267.1h1v1h-1zM430.0 271.9h1v1h-1zM405.6 270.4h1v1h-1zM427.9 240.4h1v1h-1zM433.1 264.7h1v1h-1zM426.4 236.8h1v1h-1zM415.8 263.5h1v1h-1zM421.4 243.0h1v1h-1zM424.7 263.2h1v1h-1zM408.7 270.4h1v1h-1zM420.3 264.4h1v1h-1zM432.2 264.3h1v1h-1zM426.8 271.1h1v1h-1zM424.1 238.1h1v1h-1zM426.9 242.7h1v1h-1zM414.5 271.4h1v1h-1zM426.4 236.9h1v1h-1zM412.7 264.0h1v1h-1zM424.9 263.8h1v1h-1zM403.2 267.1h1v1h-1zM405.9 264.8h1v1h-1zM418.4 270.5h1v1h-1zM421.6 242.2h1v1h-1zM433.9 265.4h1v1h-1zM409.9 269.8h1v1h-1zM427.4 263.5h1v1h-1zM422.1 263.9h1v1h-1zM420.8 243.4h1v1h-1zM421.9 240.5h1v1h-1zM404.7 267.6h1v1h-1zM422.3 264.9h1v1h-1zM420.3 269.0h1v1h-1zM408.5 263.9h1v1h-1zM420.4 269.7h1v1h-1zM421.6 240.2h1v1h-1zM405.1 265.1h1v1h-1zM405.8 267.9h1v1h-1zM407.0 266.9h1v1h-1zM399.2 267.1h1v1h-1zM406.1 268.1h1v1h-1zM425.6 263.4h1v1h-1zM408.2 270.5h1v1h-1zM401.2 267.3h1v1h-1zM418.8 264.2h1v1h-1zM425.7 243.7h1v1h-1zM433.7 268.3h1v1h-1zM427.5 242.6h1v1h-1zM421.9 264.0h1v1h-1zM421.2 240.5h1v1h-1zM426.0 261.8h1v1h-1zM423.3 268.9h1v1h-1zM413.3 271.0h1v1h-1zM408.3 268.8h1v1h-1zM406.3 264.9h1v1h-1zM404.5 266.0h1v1h-1zM425.6 243.4h1v1h-1zM421.7 242.2h1v1h-1zM423.1 265.7h1v1h-1z" fill="rgb(56, 114, 206)" opacity="0.91"/>
<path d="M422.9 266.3h1v1h-1zM422.9 242.5h1v1h-1zM430.6 271.5h1v1h-1zM415.8 264.0h1v1h-1zM414.6 271.4h1v1h-1zM430.4 262.3h1v1h-1zM420.8 243.7h1v1h-1zM411.9 264.1h1v1h-1zM416.9 267.9h1v1h-1zM406.0 268.3h1v1h-1zM420.8 266.4h1v1h-1zM425.0 263.2h1v1h-1zM403.3 268.4h1v1h-1zM431.4 264.4h1v1h-1zM403.9 266.6h1v1h-1zM425.9 270.7h1v1h-1zM427.1 237.3h1v1h-1zM425.2 242.0h1v1h-1zM425.9 269.5h1v1h-1zM432.8 266.9h1v1h-1zM420.4 264.5h1v1h-1zM421.5 267.5h1v1h-1zM413.5 271.3h1v1h-1zM409.1 265.9h1v1h-1zM421.6 267.6h1v1h-1zM420.2 265.2h1v1h-1zM408.0 269.2h1v1h-1zM426.9 238.2h1v1h-1zM422.2 267.0h1v1h-1zM417.9 263.9h1v1h-1zM423.7 268.7h1v1h-1zM426.0 239.5h1v1h-1zM424.1 236.9h1v1h-1zM424.7 265.5h1v1h-1zM429.7 263.8h1v1h-1zM403.2 266.9h1v1h-1zM433.2 265.5h1v1h-1zM421.3 243.0h1v1h-1zM431.0 264.5h1v1h-1zM422.9 267.0h1v1h-1zM406.3 269.0h1v1h-1zM433.0 267.7h1v1h-1zM405.4 267.8h1v1h-1zM414.2 270.9h1v1h-1zM426.3 238.0h1v1h-1zM411.1 264.5h1v1h-1zM410.9 268.4h1v1h-1zM425.4 244.6h1v1h-1zM426.5 237.8h1v1h-1zM409.0 264.6h1v1h-1zM411.7 270.3h1v1h-1zM419.9 264.3h1v1h-1zM417.9 270.3h1v1h-1zM433.5 265.8h1v1h-1zM424.8 269.2h1v1h-1zM405.8 269.1h1v1h-1zM420.4 264.9h1v1h-1zM411.1 264.5h1v1h-1zM423.3 265.9h1v1h-1zM427.5 240.0h1v1h-1zM423.0 242.0h1v1h-1zM408.2 269.6h1v1h-1zM424.5 244.1h1v1h-1zM427.4 239.3h1v1h-1zM420.3 265.1h1v1h-1zM423.4 264.3h1v1h-1zM422.9 243.9h1v1h-1zM408.6 272.5h1v1h-1zM419.5 267.8h1v1h-1zM405.2 267.8h1v1h-1zM423.7 268.7h1v1h-1zM425.1 241.0h1v1h-1zM414.3 263.6h1v1h-1zM417.8 264.0h1v1h-1zM417.3 269.0h1v1h-1zM412.9 271.3h1v1h-1zM416.2 268.1h1v1h-1zM408.4 270.5h1v1h-1zM409.3 265.3h1v1h-1zM424.7 263.2h1v1h-1zM425.9 240.5h1v1h-1zM424.3 268.5h1v1h-1zM406.4 268.4h1v1h-1zM417.0 269.0h1v1h-1zM421.2 268.3h1v1h-1zM425.1 243.4h1v1h-1zM424.4 240.0h1v1h-1zM420.9 268.3h1v1h-1zM420.0 267.5h1v1h-1zM418.4 265.4h1v1h-1zM424.8 244.2h1v1h-1zM419.5 267.3h1v1h-1zM424.6 242.8h1v1h-1zM425.2 243.7h1v1h-1zM431.1 264.5h1v1h-1zM405.3 268.2h1v1h-1zM423.9 265.0h1v1h-1zM424.3 266.5h1v1h-1zM410.2 270.0h1v1h-1zM426.4 238.3h1v1h-1zM425.2 263.7h1v1h-1zM420.5 269.1h1v1h-1zM425.1 263.6h1v1h-1zM405.2 266.3h1v1h-1zM426.9 262.6h1v1h-1zM407.1 266.4h1v1h-1zM434.1 267.5h1v1h-1zM407.6 268.2h1v1h-1zM417.0 270.4h1v1h-1zM422.9 265.0h1v1h-1zM421.7 244.6h1v1h-1zM422.3 241.1h1v1h-1zM417.3 264.5h1v1h-1zM423.0 239.3h1v1h-1zM407.6 266.7h1v1h-1zM419.7 268.6h1v1h-1zM431.1 270.7h1v1h-1zM403.0 266.3h1v1h-1zM404.3 266.2h1v1h-1zM416.5 269.7h1v1h-1zM416.9 269.7h1v1h-1zM429.6 271.0h1v1h-1zM416.4 264.1h1v1h-1zM417.6 270.0h1v1h-1zM423.4 240.7h1v1h-1zM417.8 266.2h1v1h-1zM424.8 269.3h1v1h-1zM412.8 271.3h1v1h-1zM423.3 243.4h1v1h-1zM425.9 237.6h1v1h-1zM426.1 243.6h1v1h-1zM421.4 242.6h1v1h-1zM414.1 264.2h1v1h-1zM424.0 267.1h1v1h-1zM421.4 243.6h1v1h-1zM416.8 265.8h1v1h-1zM432.7 265.6h1v1h-1zM412.3 270.0h1v1h-1zM424.8 265.6h1v1h-1zM414.6 270.5h1v1h-1zM424.3 267.9h1v1h-1zM405.6 265.9h1v1h-1zM417.6 270.5h1v1h-1zM424.2 268.1h1v1h-1zM425.4 262.3h1v1h-1zM426.0 265.2h1v1h-1zM414.7 264.7h1v1h-1zM424.8 243.5h1v1h-1zM426.2 238.1h1v1h-1zM409.5 270.1h1v1h-1zM432.5 267.9h1v1h-1zM410.5 268.9h1v1h-1zM421.0 267.8h1v1h-1zM423.9 237.6h1v1h-1zM423.0 266.4h1v1h-1zM426.9 239.8h1v1h-1zM410.1 266.9h1v1h-1zM417.8 266.3h1v1h-1zM409.9 269.4h1v1h-1zM419.9 265.8h1v1h-1zM426.6 240.1h1v1h-1zM418.5 264.0h1v1h-1zM414.6 270.4h1v1h-1zM405.8 265.8h1v1h-1zM431.6 271.5h1v1h-1zM426.9 241.5h1v1h-1zM409.6 268.4h1v1h-1zM424.7 244.2h1v1h-1zM416.2 265.0h1v1h-1zM414.4 264.2h1v1h-1zM424.7 264.8h1v1h-1zM430.0 263.9h1v1h-1z" fill="rgb(41, 119, 201)" opacity="1.00"/>
<path d="M423.0 241.4h1v1h-1zM423.3 239.2h1v1h-1zM423.3 244.7h1v1h-1zM433.5 268.1h1v1h-1zM416.1 267.3h1v1h-1zM418.9 268.1h1v1h-1zM405.4 268.5h1v1h-1zM410.1 269.4h1v1h-1zM424.8 241.7h1v1h-1zM431.2 264.1h1v1h-1zM422.3 240.5h1v1h-1zM425.7 268.6h1v1h-1zM426.9 239.5h1v1h-1zM424.3 243.7h1v1h-1zM422.5 244.0h1v1h-1zM410.4 265.0h1v1h-1zM422.0 265.8h1v1h-1zM415.3 269.7h1v1h-1zM424.6 237.7h1v1h-1zM412.6 263.7h1v1h-1zM419.1 266.5h1v1h-1zM424.7 240.4h1v1h-1zM410.3 264.2h1v1h-1zM424.9 240.5h1v1h-1zM433.1 269.6h1v1h-1zM418.1 266.6h1v1h-1zM417.5 266.6h1v1h-1zM422.0 241.5h1v1h-1zM409.8 267.8h1v1h-1zM426.6 240.4h1v1h-1zM421.8 244.0h1v1h-1zM419.2 264.0h1v1h-1zM420.6 267.5h1v1h-1zM425.5 242.6h1v1h-1zM427.4 240.1h1v1h-1zM416.0 263.9h1v1h-1zM424.8 239.0h1v1h-1zM414.0 270.7h1v1h-1zM415.3 265.5h1v1h-1zM424.2 239.1h1v1h-1zM428.1 264.0h1v1h-1zM421.1 265.6h1v1h-1zM424.4 239.3h1v1h-1zM420.2 266.3h1v1h-1zM428.0 269.8h1v1h-1zM433.1 268.1h1v1h-1zM413.3 264.9h1v1h-1zM416.8 263.7h1v1h-1zM425.5 242.9h1v1h-1zM424.8 243.3h1v1h-1zM424.3 265.7h1v1h-1zM406.4 266.4h1v1h-1zM413.1 266.6h1v1h-1zM424.1 265.7h1v1h-1zM432.7 265.2h1v1h-1zM416.0 270.2h1v1h-1zM409.3 266.8h1v1h-1zM406.3 268.6h1v1h-1zM408.7 267.4h1v1h-1zM407.5 265.2h1v1h-1zM417.6 264.9h1v1h-1zM407.9 266.2h1v1h-1zM428.2 270.4h1v1h-1zM405.1 267.1h1v1h-1zM409.6 265.6h1v1h-1zM417.6 269.6h1v1h-1zM418.7 268.7h1v1h-1zM426.3 271.3h1v1h-1zM417.7 264.4h1v1h-1zM432.0 267.7h1v1h-1zM425.7 242.6h1v1h-1zM425.9 239.8h1v1h-1zM411.0 265.5h1v1h-1zM409.5 269.5h1v1h-1zM422.7 241.8h1v1h-1zM417.8 265.6h1v1h-1zM414.1 270.2h1v1h-1zM417.3 269.4h1v1h-1zM409.4 265.6h1v1h-1zM427.0 271.0h1v1h-1zM413.8 264.1h1v1h-1zM426.0 265.9h1v1h-1zM407.1 268.1h1v1h-1zM422.6 244.2h1v1h-1zM424.2 267.5h1v1h-1zM425.0 263.0h1v1h-1zM413.8 265.2h1v1h-1zM423.1 241.9h1v1h-1zM427.5 264.7h1v1h-1zM422.5 241.1h1v1h-1zM423.2 243.8h1v1h-1zM431.0 271.4h1v1h-1zM415.4 269.6h1v1h-1zM405.9 266.9h1v1h-1zM426.4 239.6h1v1h-1zM413.5 265.2h1v1h-1zM419.4 266.5h1v1h-1zM414.4 268.0h1v1h-1zM413.2 265.8h1v1h-1zM409.1 266.4h1v1h-1zM411.3 265.3h1v1h-1zM404.3 266.2h1v1h-1zM418.6 268.2h1v1h-1zM429.6 271.3h1v1h-1zM426.7 265.3h1v1h-1zM411.1 269.5h1v1h-1zM408.4 265.7h1v1h-1zM422.3 243.7h1v1h-1zM419.9 266.9h1v1h-1zM412.1 269.1h1v1h-1zM412.9 268.9h1v1h-1zM425.8 264.8h1v1h-1zM416.2 268.0h1v1h-1zM409.3 268.7h1v1h-1zM408.7 268.1h1v1h-1zM422.2 243.3h1v1h-1zM426.1 240.5h1v1h-1zM427.7 271.7h1v1h-1zM425.6 243.3h1v1h-1zM416.2 265.4h1v1h-1zM423.4 239.7h1v1h-1zM418.1 266.3h1v1h-1zM420.3 265.4h1v1h-1zM425.1 269.2h1v1h-1zM423.1 239.7h1v1h-1zM404.9 266.0h1v1h-1zM430.0 264.7h1v1h-1zM411.1 268.5h1v1h-1zM426.8 268.9h1v1h-1zM413.6 269.6h1v1h-1zM431.3 267.9h1v1h-1zM408.3 267.4h1v1h-1zM407.4 266.4h1v1h-1zM428.7 270.2h1v1h-1zM432.5 267.3h1v1h-1zM424.4 241.6h1v1h-1zM425.9 238.6h1v1h-1zM425.3 239.0h1v1h-1zM408.5 268.4h1v1h-1zM431.9 270.4h1v1h-1zM411.1 268.5h1v1h-1zM415.2 269.9h1v1h-1zM414.3 270.1h1v1h-1zM417.4 270.1h1v1h-1zM432.7 267.3h1v1h-1zM425.5 268.7h1v1h-1zM423.5 240.8h1v1h-1zM425.3 239.2h1v1h-1zM409.5 266.8h1v1h-1zM426.0 267.7h1v1h-1zM424.1 238.5h1v1h-1zM427.4 267.3h1v1h-1zM406.3 267.3h1v1h-1zM419.4 266.3h1v1h-1zM417.9 267.3h1v1h-1zM425.0 242.0h1v1h-1zM410.3 266.6h1v1h-1zM424.7 244.2h1v1h-1zM417.1 268.3h1v1h-1zM408.4 266.1h1v1h-1zM408.0 267.6h1v1h-1zM419.4 267.9h1v1h-1zM431.7 269.1h1v1h-1zM425.4 267.5h1v1h-1zM426.1 240.9h1v1h-1zM427.0 238.3h1v1h-1zM426.5 263.7h1v1h-1zM426.5 238.3h1v1h-1zM409.5 267.1h1v1h-1zM430.6 270.0h1v1h-1zM415.5 264.5h1v1h-1z" fill="rgb(44, 139, 170)" opacity="1.00"/>
<path d="M409.1 269.6h1v1h-1zM429.0 271.2h1v1h-1zM413.3 267.8h1v1h-1zM423.5 243.3h1v1h-1zM426.6 264.2h1v1h-1zM426.8 269.0h1v1h-1zM412.8 265.1h1v1h-1zM422.3 242.4h1v1h-1zM426.4 269.7h1v1h-1zM424.6 263.3h1v1h-1zM430.7 264.1h1v1h-1zM417.3 269.6h1v1h-1zM430.8 265.5h1v1h-1zM431.4 269.1h1v1h-1zM420.0 264.7h1v1h-1zM411.2 264.6h1v1h-1zM419.4 266.6h1v1h-1zM418.0 266.9h1v1h-1zM427.6 263.7h1v1h-1zM410.3 267.7h1v1h-1zM417.2 267.6h1v1h-1zM426.4 264.2h1v1h-1zM408.9 267.3h1v1h-1zM411.0 268.4h1v1h-1zM415.0 269.2h1v1h-1zM410.0 269.1h1v1h-1zM428.0 265.0h1v1h-1zM418.4 267.5h1v1h-1zM422.1 242.1h1v1h-1zM413.0 268.1h1v1h-1zM424.8 241.2h1v1h-1zM408.2 267.8h1v1h-1zM409.7 265.9h1v1h-1zM407.5 266.5h1v1h-1zM426.7 269.4h1v1h-1zM424.8 243.9h1v1h-1zM414.4 267.9h1v1h-1zM431.3 269.7h1v1h-1zM418.5 268.5h1v1h-1zM424.8 240.2h1v1h-1zM432.5 267.6h1v1h-1zM415.2 266.4h1v1h-1zM424.3 239.2h1v1h-1zM409.5 265.9h1v1h-1zM415.1 270.7h1v1h-1zM407.6 266.8h1v1h-1zM406.5 268.6h1v1h-1zM417.6 266.2h1v1h-1zM426.0 266.9h1v1h-1zM430.6 269.5h1v1h-1zM413.1 264.9h1v1h-1zM409.4 265.4h1v1h-1zM413.4 266.0h1v1h-1zM409.4 265.2h1v1h-1zM415.3 270.2h1v1h-1zM427.1 265.6h1v1h-1zM415.4 269.4h1v1h-1zM418.2 267.4h1v1h-1zM425.8 241.9h1v1h-1zM430.5 265.4h1v1h-1zM410.5 269.5h1v1h-1zM418.5 265.9h1v1h-1zM412.1 269.3h1v1h-1zM409.1 265.5h1v1h-1zM414.3 270.5h1v1h-1zM418.2 267.7h1v1h-1zM422.7 242.4h1v1h-1zM431.8 265.1h1v1h-1zM417.6 266.0h1v1h-1zM414.8 269.1h1v1h-1zM411.2 267.6h1v1h-1zM425.9 239.9h1v1h-1zM422.7 243.3h1v1h-1zM424.8 242.1h1v1h-1zM430.2 269.8h1v1h-1zM427.4 270.6h1v1h-1zM426.0 269.0h1v1h-1zM423.5 244.6h1v1h-1zM415.9 266.0h1v1h-1zM428.5 264.1h1v1h-1zM425.1 241.5h1v1h-1zM425.2 268.7h1v1h-1zM426.1 266.0h1v1h-1zM418.9 267.8h1v1h-1zM415.9 269.1h1v1h-1zM418.7 266.7h1v1h-1zM413.1 267.2h1v1h-1zM412.8 269.4h1v1h-1zM425.0 239.7h1v1h-1zM414.2 266.6h1v1h-1zM423.4 243.5h1v1h-1zM418.1 267.7h1v1h-1zM425.0 240.4h1v1h-1zM422.0 241.8h1v1h-1zM413.7 266.0h1v1h-1zM417.1 263.9h1v1h-1zM427.7 270.0h1v1h-1zM431.2 265.5h1v1h-1zM426.4 266.4h1v1h-1zM424.4 240.8h1v1h-1zM415.1 269.5h1v1h-1zM425.3 267.8h1v1h-1zM426.6 268.7h1v1h-1zM423.7 241.4h1v1h-1zM419.5 265.5h1v1h-1zM414.8 266.5h1v1h-1zM416.4 267.1h1v1h-1zM423.7 243.0h1v1h-1zM407.1 266.5h1v1h-1zM424.5 243.2h1v1h-1zM411.8 268.2h1v1h-1zM411.7 268.5h1v1h-1zM409.7 265.6h1v1h-1zM426.0 240.3h1v1h-1zM406.2 266.2h1v1h-1zM411.5 265.2h1v1h-1zM419.5 264.8h1v1h-1zM414.0 266.8h1v1h-1zM419.0 266.2h1v1h-1zM433.0 267.8h1v1h-1zM431.4 267.8h1v1h-1zM413.1 267.2h1v1h-1zM424.1 241.7h1v1h-1zM424.7 241.0h1v1h-1zM417.5 267.3h1v1h-1zM432.5 266.0h1v1h-1zM412.7 266.1h1v1h-1zM412.0 265.9h1v1h-1zM425.1 268.2h1v1h-1zM409.4 266.2h1v1h-1zM412.5 269.3h1v1h-1zM430.5 266.0h1v1h-1zM411.7 266.1h1v1h-1zM430.6 267.3h1v1h-1zM410.1 266.3h1v1h-1zM424.5 238.8h1v1h-1zM429.9 269.2h1v1h-1zM426.5 264.9h1v1h-1zM414.9 266.5h1v1h-1zM415.6 269.4h1v1h-1zM407.5 268.3h1v1h-1zM431.7 268.8h1v1h-1zM427.2 264.6h1v1h-1zM432.9 268.4h1v1h-1zM409.4 268.2h1v1h-1z" fill="rgb(49, 161, 137)" opacity="1.00"/>
<path d="M426.1 268.7h1v1h-1zM428.5 269.2h1v1h-1zM424.4 242.5h1v1h-1zM414.1 267.9h1v1h-1zM408.2 267.7h1v1h-1zM412.6 269.9h1v1h-1zM413.7 265.0h1v1h-1zM412.4 269.1h1v1h-1zM411.0 265.8h1v1h-1zM431.0 270.1h1v1h-1zM412.9 266.4h1v1h-1zM412.0 266.4h1v1h-1zM430.3 266.8h1v1h-1zM425.3 269.1h1v1h-1zM414.5 269.4h1v1h-1zM426.0 264.2h1v1h-1zM416.7 266.2h1v1h-1zM416.0 267.4h1v1h-1zM424.7 242.4h1v1h-1zM431.0 269.7h1v1h-1zM418.0 264.6h1v1h-1zM424.3 240.6h1v1h-1zM408.7 267.7h1v1h-1zM416.9 267.7h1v1h-1zM428.4 269.9h1v1h-1zM427.8 268.8h1v1h-1zM415.7 264.0h1v1h-1zM409.7 266.7h1v1h-1zM414.1 267.6h1v1h-1zM425.2 240.3h1v1h-1zM429.2 270.7h1v1h-1zM413.1 265.0h1v1h-1zM409.4 266.2h1v1h-1zM429.8 269.1h1v1h-1zM431.6 266.4h1v1h-1zM424.5 239.4h1v1h-1zM423.2 243.3h1v1h-1zM431.9 268.2h1v1h-1zM432.0 268.7h1v1h-1zM408.5 267.5h1v1h-1zM418.6 265.1h1v1h-1zM429.0 269.4h1v1h-1zM412.3 268.1h1v1h-1zM432.8 268.6h1v1h-1zM423.6 240.0h1v1h-1zM416.9 268.7h1v1h-1zM431.5 267.5h1v1h-1zM413.8 268.0h1v1h-1zM409.0 267.0h1v1h-1zM410.3 269.0h1v1h-1zM428.0 270.4h1v1h-1zM429.9 269.4h1v1h-1zM423.3 241.2h1v1h-1zM413.1 268.3h1v1h-1zM410.3 267.2h1v1h-1zM429.9 267.8h1v1h-1zM430.4 268.7h1v1h-1zM416.0 269.2h1v1h-1zM429.0 269.9h1v1h-1zM414.1 269.1h1v1h-1zM414.2 266.7h1v1h-1zM415.6 267.3h1v1h-1zM430.7 268.4h1v1h-1zM427.5 269.4h1v1h-1zM413.6 268.3h1v1h-1zM412.6 267.8h1v1h-1zM427.1 265.8h1v1h-1zM415.8 266.4h1v1h-1zM429.5 266.9h1v1h-1zM428.0 265.1h1v1h-1zM415.5 266.9h1v1h-1zM411.1 268.6h1v1h-1zM407.1 267.1h1v1h-1zM426.7 266.8h1v1h-1zM428.2 266.1h1v1h-1zM432.0 269.5h1v1h-1zM426.6 267.3h1v1h-1zM426.6 268.3h1v1h-1zM430.4 265.8h1v1h-1zM425.1 240.3h1v1h-1zM429.5 267.6h1v1h-1zM412.6 266.4h1v1h-1zM413.7 266.0h1v1h-1zM408.8 267.3h1v1h-1zM414.2 269.0h1v1h-1zM416.9 267.7h1v1h-1zM415.6 266.9h1v1h-1zM413.1 265.8h1v1h-1zM416.8 267.0h1v1h-1zM410.8 267.4h1v1h-1zM427.0 267.6h1v1h-1zM431.2 268.6h1v1h-1zM430.6 266.3h1v1h-1zM431.7 267.3h1v1h-1zM430.8 269.1h1v1h-1zM413.6 268.4h1v1h-1zM410.4 268.8h1v1h-1zM428.3 263.9h1v1h-1zM432.4 266.7h1v1h-1zM416.8 266.5h1v1h-1zM432.9 266.6h1v1h-1zM428.7 269.0h1v1h-1zM412.8 267.9h1v1h-1zM416.4 269.1h1v1h-1zM411.3 269.1h1v1h-1zM432.5 267.1h1v1h-1zM414.6 267.2h1v1h-1zM425.5 266.2h1v1h-1zM429.6 266.4h1v1h-1z" fill="rgb(80, 176, 103)" opacity="1.00"/>
<path d="M415.6 268.7h1v1h-1zM417.5 267.7h1v1h-1zM428.8 268.5h1v1h-1zM429.8 263.8h1v1h-1zM415.7 269.3h1v1h-1zM428.3 267.4h1v1h-1zM415.0 266.6h1v1h-1zM412.8 267.9h1v1h-1zM416.0 265.9h1v1h-1zM427.4 267.4h1v1h-1zM427.2 264.9h1v1h-1zM423.1 241.0h1v1h-1zM413.8 266.2h1v1h-1zM427.7 266.4h1v1h-1zM428.7 267.3h1v1h-1zM425.8 267.7h1v1h-1zM427.7 269.4h1v1h-1zM430.0 263.8h1v1h-1zM411.7 267.6h1v1h-1zM427.4 270.4h1v1h-1zM416.1 267.6h1v1h-1zM428.9 265.7h1v1h-1zM411.3 265.8h1v1h-1zM409.4 266.6h1v1h-1zM428.7 269.2h1v1h-1zM415.1 266.5h1v1h-1zM431.8 268.8h1v1h-1zM411.4 266.3h1v1h-1zM423.5 241.6h1v1h-1zM425.2 266.6h1v1h-1zM411.2 266.5h1v1h-1zM430.0 270.1h1v1h-1zM413.1 268.6h1v1h-1zM416.7 269.0h1v1h-1zM429.5 266.2h1v1h-1zM428.5 264.9h1v1h-1zM415.2 267.6h1v1h-1zM416.1 268.4h1v1h-1zM415.8 267.9h1v1h-1zM431.1 266.1h1v1h-1zM412.9 267.6h1v1h-1zM431.7 266.9h1v1h-1zM431.8 266.2h1v1h-1zM426.5 265.1h1v1h-1zM431.1 266.4h1v1h-1zM431.1 267.4h1v1h-1zM424.2 241.6h1v1h-1zM412.9 269.1h1v1h-1zM416.3 269.3h1v1h-1zM431.8 266.6h1v1h-1zM431.1 266.5h1v1h-1zM411.4 266.5h1v1h-1zM427.4 264.9h1v1h-1zM429.2 265.7h1v1h-1zM425.3 266.0h1v1h-1zM427.8 268.1h1v1h-1zM430.6 264.8h1v1h-1zM414.2 266.0h1v1h-1zM412.9 267.1h1v1h-1zM429.7 266.3h1v1h-1zM412.6 266.8h1v1h-1zM430.4 265.7h1v1h-1zM429.6 266.3h1v1h-1zM416.8 266.9h1v1h-1zM428.6 269.6h1v1h-1zM430.9 266.1h1v1h-1zM414.1 267.5h1v1h-1zM416.0 266.7h1v1h-1zM414.1 268.5h1v1h-1zM431.0 269.5h1v1h-1zM427.5 269.0h1v1h-1zM415.2 268.7h1v1h-1zM428.6 270.4h1v1h-1zM426.3 269.6h1v1h-1zM414.1 264.8h1v1h-1zM427.9 267.7h1v1h-1zM426.7 268.0h1v1h-1zM411.6 269.4h1v1h-1zM428.7 267.1h1v1h-1zM413.8 266.7h1v1h-1zM412.3 267.5h1v1h-1zM429.5 269.6h1v1h-1zM429.1 265.6h1v1h-1zM413.3 266.2h1v1h-1z" fill="rgb(119, 191, 70)" opacity="1.00"/>
<path d="M426.1 268.0h1v1h-1zM413.0 268.5h1v1h-1zM424.6 243.3h1v1h-1zM430.3 268.2h1v1h-1zM429.5 269.7h1v1h-1zM430.2 269.1h1v1h-1zM428.0 265.1h1v1h-1zM413.4 268.0h1v1h-1zM430.6 266.9h1v1h-1zM427.6 269.6h1v1h-1zM431.0 265.9h1v1h-1zM429.6 264.8h1v1h-1zM428.0 265.9h1v1h-1zM429.5 265.6h1v1h-1zM430.9 268.8h1v1h-1zM430.4 268.0h1v1h-1zM428.6 269.5h1v1h-1zM413.2 268.6h1v1h-1zM412.4 266.2h1v1h-1zM428.3 264.7h1v1h-1zM416.9 269.0h1v1h-1zM430.2 267.9h1v1h-1zM431.4 266.5h1v1h-1zM428.1 266.7h1v1h-1zM415.7 268.2h1v1h-1zM426.5 267.7h1v1h-1zM430.4 266.3h1v1h-1zM415.5 267.7h1v1h-1zM414.3 266.7h1v1h-1zM415.1 268.0h1v1h-1zM429.6 266.6h1v1h-1zM430.8 267.2h1v1h-1zM426.6 267.9h1v1h-1zM428.2 268.3h1v1h-1zM428.4 265.0h1v1h-1zM428.2 265.4h1v1h-1zM413.3 268.0h1v1h-1zM425.5 268.0h1v1h-1zM427.6 267.7h1v1h-1zM426.9 266.2h1v1h-1zM427.3 265.9h1v1h-1zM428.9 267.9h1v1h-1zM430.5 266.5h1v1h-1zM429.8 266.8h1v1h-1zM430.9 266.7h1v1h-1zM428.9 266.4h1v1h-1zM428.1 268.9h1v1h-1zM413.7 266.3h1v1h-1zM414.6 266.5h1v1h-1zM426.5 264.0h1v1h-1zM415.8 266.3h1v1h-1zM431.0 267.2h1v1h-1zM424.3 240.9h1v1h-1zM416.5 265.9h1v1h-1zM430.8 269.5h1v1h-1zM429.4 267.1h1v1h-1zM430.5 266.1h1v1h-1zM427.9 267.8h1v1h-1zM428.5 269.3h1v1h-1zM429.6 267.9h1v1h-1zM428.5 267.8h1v1h-1zM428.1 266.5h1v1h-1zM428.6 264.8h1v1h-1zM430.0 269.1h1v1h-1z" fill="rgb(162, 200, 53)" opacity="1.00"/>
<path d="M416.0 267.5h1v1h-1zM428.1 266.9h1v1h-1zM430.0 266.1h1v1h-1zM428.1 266.8h1v1h-1zM415.6 268.0h1v1h-1zM429.7 269.0h1v1h-1zM429.6 266.7h1v1h-1zM427.1 268.2h1v1h-1zM429.0 267.6h1v1h-1zM429.3 265.8h1v1h-1zM428.3 267.2h1v1h-1zM429.2 266.6h1v1h-1zM413.1 265.6h1v1h-1zM428.2 266.9h1v1h-1zM429.3 265.0h1v1h-1zM429.3 266.3h1v1h-1zM431.5 267.3h1v1h-1zM429.5 268.6h1v1h-1zM429.3 267.6h1v1h-1zM414.1 267.2h1v1h-1zM430.1 267.1h1v1h-1zM427.5 266.1h1v1h-1zM428.5 266.0h1v1h-1zM414.7 268.2h1v1h-1zM430.1 269.3h1v1h-1zM428.6 269.2h1v1h-1zM428.8 267.9h1v1h-1zM429.7 268.8h1v1h-1z" fill="rgb(207, 207, 44)" opacity="1.00"/>
<path d="M429.3 268.4h1v1h-1zM430.1 266.8h1v1h-1zM429.4 268.6h1v1h-1zM429.7 266.2h1v1h-1zM429.0 268.0h1v1h-1zM428.8 266.9h1v1h-1zM429.3 266.9h1v1h-1zM428.8 265.9h1v1h-1zM428.9 264.8h1v1h-1zM430.0 269.2h1v1h-1zM430.3 265.9h1v1h-1zM430.7 267.9h1v1h-1zM429.5 268.2h1v1h-1zM429.0 266.9h1v1h-1zM428.9 266.8h1v1h-1zM429.0 266.7h1v1h-1zM427.3 267.4h1v1h-1zM415.7 267.1h1v1h-1zM428.6 266.5h1v1h-1zM429.9 269.5h1v1h-1zM428.0 268.5h1v1h-1zM428.9 268.6h1v1h-1z" fill="rgb(229, 193, 40)" opacity="1.00"/>
<path d="M428.3 266.1h1v1h-1zM429.8 267.1h1v1h-1zM428.9 267.5h1v1h-1zM429.8 266.9h1v1h-1zM428.7 267.9h1v1h-1zM427.3 266.7h1v1h-1zM429.0 268.5h1v1h-1zM428.8 268.4h1v1h-1zM428.2 265.7h1v1h-1zM428.4 267.7h1v1h-1zM428.9 265.9h1v1h-1z" fill="rgb(236, 164, 40)" opacity="1.00"/>
<rect x="412.70" y="221.10" width="28.80" height="31.20" fill="none" stroke="#aaa" stroke-width="0.8"/>
<path d="M412.70 231.30V252.30H441.50V231.30" fill="none" stroke="#4a4a4a" stroke-width="1.1"/>
<text x="426.80" y="218.70" font-size="8.0" text-anchor="middle" fill="#1a1a1a" textLength="31.80" lengthAdjust="spacingAndGlyphs" stroke="#1a1a1a" stroke-width="0.1">CD3+CD8+</text>
<text x="426.80" y="227.70" font-size="8.2" text-anchor="middle" fill="#1a1a1a" textLength="12.40" lengthAdjust="spacingAndGlyphs" stroke="#1a1a1a" stroke-width="0.1">23.1</text>
<text x="8.50" y="332.70" font-size="12.4" text-anchor="start" font-weight="bold" fill="#231f20" textLength="8.60" lengthAdjust="spacingAndGlyphs" stroke="#231f20" stroke-width="0.35">D</text>
<text x="22.00" y="332.50" font-size="9.9" text-anchor="start" fill="#231f20" textLength="101.70" lengthAdjust="spacingAndGlyphs" stroke="#231f20" stroke-width="0.12">Mesenteric lymph node</text>
<rect x="180.40" y="342.40" width="9.60" height="9.00" fill="#c41230" stroke="#5a0a14" stroke-width="0.8"/>
<rect x="272.00" y="342.40" width="9.60" height="9.00" fill="#0f5082" stroke="#072a45" stroke-width="0.8"/>
<text x="196.00" y="350.60" font-size="9.6" text-anchor="start" fill="#231f20" textLength="15.70" lengthAdjust="spacingAndGlyphs" stroke="#231f20" stroke-width="0.12">B2M</text>
<text x="211.90" y="347.60" font-size="5" text-anchor="start" fill="#231f20" textLength="8.30" lengthAdjust="spacingAndGlyphs" stroke="#231f20" stroke-width="0.12">+/+</text>
<text x="287.20" y="350.60" font-size="9.6" text-anchor="start" fill="#231f20" textLength="15.60" lengthAdjust="spacingAndGlyphs" stroke="#231f20" stroke-width="0.12">B2M</text>
<text x="303.00" y="347.60" font-size="5" text-anchor="start" fill="#231f20" textLength="18.00" lengthAdjust="spacingAndGlyphs" stroke="#231f20" stroke-width="0.12">f/fPF4Cre</text>
<line x1="44.10" y1="397.50" x2="44.10" y2="489.90" stroke="#111" stroke-width="1.3"/>
<line x1="41.50" y1="489.30" x2="126.30" y2="489.30" stroke="#111" stroke-width="1.3"/>
<line x1="41.30" y1="398.00" x2="44.10" y2="398.00" stroke="#231f20" stroke-width="1.1"/>
<text x="39.10" y="401.10" font-size="9" text-anchor="end" fill="#231f20" textLength="8.80" lengthAdjust="spacingAndGlyphs" stroke="#231f20" stroke-width="0.12">30</text>
<line x1="41.30" y1="428.50" x2="44.10" y2="428.50" stroke="#231f20" stroke-width="1.1"/>
<text x="39.10" y="431.60" font-size="9" text-anchor="end" fill="#231f20" textLength="8.80" lengthAdjust="spacingAndGlyphs" stroke="#231f20" stroke-width="0.12">25</text>
<line x1="41.30" y1="458.90" x2="44.10" y2="458.90" stroke="#231f20" stroke-width="1.1"/>
<text x="39.10" y="462.00" font-size="9" text-anchor="end" fill="#231f20" textLength="8.80" lengthAdjust="spacingAndGlyphs" stroke="#231f20" stroke-width="0.12">20</text>
<line x1="41.30" y1="489.20" x2="44.10" y2="489.20" stroke="#231f20" stroke-width="1.1"/>
<text x="39.10" y="492.30" font-size="9" text-anchor="end" fill="#231f20" textLength="8.80" lengthAdjust="spacingAndGlyphs" stroke="#231f20" stroke-width="0.12">15</text>
<rect x="52.70" y="428.90" width="13.20" height="60.40" fill="#c41230"/>
<line x1="59.30" y1="421.40" x2="59.30" y2="428.90" stroke="#333" stroke-width="1.0"/>
<line x1="55.30" y1="421.30" x2="63.30" y2="421.30" stroke="#111" stroke-width="1.4"/>
<rect x="53.00" y="429.20" width="12.60" height="60.10" fill="none" stroke="#9e0f27" stroke-width="0.6" opacity="0.7"/>
<rect x="68.90" y="422.70" width="13.30" height="66.60" fill="#0f5082"/>
<line x1="75.55" y1="415.00" x2="75.55" y2="422.70" stroke="#333" stroke-width="1.0"/>
<line x1="71.55" y1="414.90" x2="79.55" y2="414.90" stroke="#111" stroke-width="1.4"/>
<rect x="69.20" y="423.00" width="12.70" height="66.30" fill="none" stroke="#0a3d66" stroke-width="0.6" opacity="0.7"/>
<rect x="90.30" y="464.20" width="13.20" height="25.10" fill="#c41230"/>
<line x1="96.90" y1="454.70" x2="96.90" y2="464.20" stroke="#333" stroke-width="1.0"/>
<line x1="92.90" y1="454.60" x2="100.90" y2="454.60" stroke="#111" stroke-width="1.4"/>
<rect x="90.60" y="464.50" width="12.60" height="24.80" fill="none" stroke="#9e0f27" stroke-width="0.6" opacity="0.7"/>
<rect x="106.50" y="437.00" width="13.40" height="52.30" fill="#0f5082"/>
<line x1="113.20" y1="430.70" x2="113.20" y2="437.00" stroke="#333" stroke-width="1.0"/>
<line x1="109.20" y1="430.60" x2="117.20" y2="430.60" stroke="#111" stroke-width="1.4"/>
<rect x="106.80" y="437.30" width="12.80" height="52.00" fill="none" stroke="#0a3d66" stroke-width="0.6" opacity="0.7"/>
<line x1="50.80" y1="494.30" x2="78.50" y2="494.30" stroke="#231f20" stroke-width="1.0"/>
<text x="63.30" y="506.10" font-size="10" text-anchor="middle" fill="#231f20" textLength="19.00" lengthAdjust="spacingAndGlyphs" stroke="#231f20" stroke-width="0.12">Sham</text>
<line x1="90.80" y1="494.30" x2="118.90" y2="494.30" stroke="#231f20" stroke-width="1.0"/>
<text x="104.75" y="506.10" font-size="10" text-anchor="middle" fill="#231f20" textLength="12.70" lengthAdjust="spacingAndGlyphs" stroke="#231f20" stroke-width="0.12">CLP</text>
<text x="15.90" y="447.20" font-size="9.7" text-anchor="middle" fill="#231f20" textLength="69.20" lengthAdjust="spacingAndGlyphs" transform="rotate(-90 15.90 447.20)" stroke="#231f20" stroke-width="0.12">CD8+ in CD45+ (%)</text>
<path d="M55.00 375.80V371.30H116.60V375.80" fill="none" stroke="#333" stroke-width="1.1"/>
<path d="M55.00 394.50V390.00H97.70V394.50" fill="none" stroke="#333" stroke-width="1.1"/>
<path d="M99.50 394.50V390.00H116.60V394.50" fill="none" stroke="#333" stroke-width="1.1"/>
<text x="85.50" y="368.60" font-size="9.8" text-anchor="middle" fill="#231f20" textLength="8.00" lengthAdjust="spacingAndGlyphs" stroke="#231f20" stroke-width="0.12">ns</text>
<polygon points="75.55,379.90 76.16,381.36 77.74,381.49 76.53,382.52 76.90,384.06 75.55,383.24 74.20,384.06 74.57,382.52 73.36,381.49 74.94,381.36" fill="#231f20"/>
<polygon points="79.45,379.90 80.06,381.36 81.64,381.49 80.43,382.52 80.80,384.06 79.45,383.24 78.10,384.06 78.47,382.52 77.26,381.49 78.84,381.36" fill="#231f20"/>
<polygon points="106.30,379.90 106.91,381.36 108.49,381.49 107.28,382.52 107.65,384.06 106.30,383.24 104.95,384.06 105.32,382.52 104.11,381.49 105.69,381.36" fill="#231f20"/>
<line x1="173.80" y1="397.50" x2="173.80" y2="489.90" stroke="#111" stroke-width="1.3"/>
<line x1="171.20" y1="489.30" x2="255.80" y2="489.30" stroke="#111" stroke-width="1.3"/>
<line x1="171.00" y1="398.00" x2="173.80" y2="398.00" stroke="#231f20" stroke-width="1.1"/>
<text x="168.60" y="401.10" font-size="9" text-anchor="end" fill="#231f20" textLength="11.30" lengthAdjust="spacingAndGlyphs" stroke="#231f20" stroke-width="0.12">0.5</text>
<line x1="171.00" y1="416.25" x2="173.80" y2="416.25" stroke="#231f20" stroke-width="1.1"/>
<text x="168.60" y="419.35" font-size="9" text-anchor="end" fill="#231f20" textLength="11.30" lengthAdjust="spacingAndGlyphs" stroke="#231f20" stroke-width="0.12">0.4</text>
<line x1="171.00" y1="434.50" x2="173.80" y2="434.50" stroke="#231f20" stroke-width="1.1"/>
<text x="168.60" y="437.60" font-size="9" text-anchor="end" fill="#231f20" textLength="11.30" lengthAdjust="spacingAndGlyphs" stroke="#231f20" stroke-width="0.12">0.3</text>
<line x1="171.00" y1="452.75" x2="173.80" y2="452.75" stroke="#231f20" stroke-width="1.1"/>
<text x="168.60" y="455.85" font-size="9" text-anchor="end" fill="#231f20" textLength="11.30" lengthAdjust="spacingAndGlyphs" stroke="#231f20" stroke-width="0.12">0.2</text>
<line x1="171.00" y1="471.00" x2="173.80" y2="471.00" stroke="#231f20" stroke-width="1.1"/>
<text x="168.60" y="474.10" font-size="9" text-anchor="end" fill="#231f20" textLength="11.30" lengthAdjust="spacingAndGlyphs" stroke="#231f20" stroke-width="0.12">0.1</text>
<line x1="171.00" y1="489.00" x2="173.80" y2="489.00" stroke="#231f20" stroke-width="1.1"/>
<text x="168.60" y="492.10" font-size="9" text-anchor="end" fill="#231f20" textLength="11.30" lengthAdjust="spacingAndGlyphs" stroke="#231f20" stroke-width="0.12">0.0</text>
<rect x="182.00" y="436.30" width="13.50" height="53.00" fill="#c41230"/>
<line x1="188.75" y1="417.40" x2="188.75" y2="436.30" stroke="#333" stroke-width="1.0"/>
<line x1="184.75" y1="417.30" x2="192.75" y2="417.30" stroke="#111" stroke-width="1.4"/>
<rect x="182.30" y="436.60" width="12.90" height="52.70" fill="none" stroke="#9e0f27" stroke-width="0.6" opacity="0.7"/>
<rect x="198.30" y="452.50" width="13.50" height="36.80" fill="#0f5082"/>
<line x1="205.05" y1="442.90" x2="205.05" y2="452.50" stroke="#333" stroke-width="1.0"/>
<line x1="201.05" y1="442.80" x2="209.05" y2="442.80" stroke="#111" stroke-width="1.4"/>
<rect x="198.60" y="452.80" width="12.90" height="36.50" fill="none" stroke="#0a3d66" stroke-width="0.6" opacity="0.7"/>
<rect x="220.00" y="469.50" width="13.30" height="19.80" fill="#c41230"/>
<line x1="226.65" y1="463.40" x2="226.65" y2="469.50" stroke="#333" stroke-width="1.0"/>
<line x1="222.65" y1="463.30" x2="230.65" y2="463.30" stroke="#111" stroke-width="1.4"/>
<rect x="220.30" y="469.80" width="12.70" height="19.50" fill="none" stroke="#9e0f27" stroke-width="0.6" opacity="0.7"/>
<rect x="236.30" y="441.80" width="13.20" height="47.50" fill="#0f5082"/>
<line x1="242.90" y1="427.90" x2="242.90" y2="441.80" stroke="#333" stroke-width="1.0"/>
<line x1="238.90" y1="427.80" x2="246.90" y2="427.80" stroke="#111" stroke-width="1.4"/>
<rect x="236.60" y="442.10" width="12.60" height="47.20" fill="none" stroke="#0a3d66" stroke-width="0.6" opacity="0.7"/>
<line x1="179.30" y1="494.30" x2="206.80" y2="494.30" stroke="#231f20" stroke-width="1.0"/>
<text x="191.40" y="506.10" font-size="10" text-anchor="middle" fill="#231f20" textLength="18.80" lengthAdjust="spacingAndGlyphs" stroke="#231f20" stroke-width="0.12">Sham</text>
<line x1="219.30" y1="494.30" x2="246.80" y2="494.30" stroke="#231f20" stroke-width="1.0"/>
<text x="232.55" y="506.10" font-size="10" text-anchor="middle" fill="#231f20" textLength="12.50" lengthAdjust="spacingAndGlyphs" stroke="#231f20" stroke-width="0.12">CLP</text>
<text x="143.20" y="440.50" font-size="9.7" text-anchor="middle" fill="#231f20" textLength="56.00" lengthAdjust="spacingAndGlyphs" transform="rotate(-90 143.20 440.50)" stroke="#231f20" stroke-width="0.12">CD8+/LN (X10<tspan font-size='5.5' dy='-3.2'>6</tspan><tspan dy='3.2'>)</tspan></text>
<path d="M187.50 375.80V371.30H245.50V375.80" fill="none" stroke="#333" stroke-width="1.1"/>
<path d="M187.50 394.00V389.50H225.80V394.00" fill="none" stroke="#333" stroke-width="1.1"/>
<path d="M229.30 394.00V389.50H245.50V394.00" fill="none" stroke="#333" stroke-width="1.1"/>
<text x="218.00" y="368.60" font-size="9.8" text-anchor="middle" fill="#231f20" textLength="8.00" lengthAdjust="spacingAndGlyphs" stroke="#231f20" stroke-width="0.12">ns</text>
<text x="205.90" y="385.60" font-size="9.8" text-anchor="middle" fill="#231f20" textLength="26.80" lengthAdjust="spacingAndGlyphs" stroke="#231f20" stroke-width="0.12">P=0.08</text>
<polygon points="236.80,379.90 237.41,381.36 238.99,381.49 237.78,382.52 238.15,384.06 236.80,383.24 235.45,384.06 235.82,382.52 234.61,381.49 236.19,381.36" fill="#231f20"/>
<line x1="302.20" y1="398.30" x2="302.20" y2="490.60" stroke="#111" stroke-width="1.3"/>
<line x1="299.60" y1="490.00" x2="384.80" y2="490.00" stroke="#111" stroke-width="1.3"/>
<line x1="299.40" y1="398.80" x2="302.20" y2="398.80" stroke="#231f20" stroke-width="1.1"/>
<text x="297.60" y="402.15" font-size="9" text-anchor="end" fill="#231f20" textLength="4.40" lengthAdjust="spacingAndGlyphs" stroke="#231f20" stroke-width="0.12">5</text>
<line x1="299.40" y1="417.00" x2="302.20" y2="417.00" stroke="#231f20" stroke-width="1.1"/>
<text x="297.60" y="420.35" font-size="9" text-anchor="end" fill="#231f20" textLength="4.40" lengthAdjust="spacingAndGlyphs" stroke="#231f20" stroke-width="0.12">4</text>
<line x1="299.40" y1="435.50" x2="302.20" y2="435.50" stroke="#231f20" stroke-width="1.1"/>
<text x="297.60" y="438.85" font-size="9" text-anchor="end" fill="#231f20" textLength="4.40" lengthAdjust="spacingAndGlyphs" stroke="#231f20" stroke-width="0.12">3</text>
<line x1="299.40" y1="453.50" x2="302.20" y2="453.50" stroke="#231f20" stroke-width="1.1"/>
<text x="297.60" y="456.85" font-size="9" text-anchor="end" fill="#231f20" textLength="4.40" lengthAdjust="spacingAndGlyphs" stroke="#231f20" stroke-width="0.12">2</text>
<line x1="299.40" y1="471.50" x2="302.20" y2="471.50" stroke="#231f20" stroke-width="1.1"/>
<text x="297.60" y="474.85" font-size="9" text-anchor="end" fill="#231f20" textLength="4.40" lengthAdjust="spacingAndGlyphs" stroke="#231f20" stroke-width="0.12">1</text>
<line x1="299.40" y1="489.50" x2="302.20" y2="489.50" stroke="#231f20" stroke-width="1.1"/>
<text x="297.60" y="492.85" font-size="9" text-anchor="end" fill="#231f20" textLength="4.40" lengthAdjust="spacingAndGlyphs" stroke="#231f20" stroke-width="0.12">0</text>
<rect x="312.00" y="420.50" width="14.80" height="69.50" fill="#c41230"/>
<line x1="319.40" y1="411.90" x2="319.40" y2="420.50" stroke="#333" stroke-width="1.0"/>
<line x1="315.40" y1="411.80" x2="323.40" y2="411.80" stroke="#111" stroke-width="1.4"/>
<rect x="312.30" y="420.80" width="14.20" height="69.20" fill="none" stroke="#9e0f27" stroke-width="0.6" opacity="0.7"/>
<rect x="327.00" y="416.50" width="14.50" height="73.50" fill="#0f5082"/>
<line x1="334.25" y1="404.70" x2="334.25" y2="416.50" stroke="#333" stroke-width="1.0"/>
<line x1="330.25" y1="404.60" x2="338.25" y2="404.60" stroke="#111" stroke-width="1.4"/>
<rect x="327.30" y="416.80" width="13.90" height="73.20" fill="none" stroke="#0a3d66" stroke-width="0.6" opacity="0.7"/>
<rect x="349.30" y="446.30" width="14.20" height="43.70" fill="#c41230"/>
<line x1="356.40" y1="443.40" x2="356.40" y2="446.30" stroke="#333" stroke-width="1.0"/>
<line x1="352.40" y1="443.30" x2="360.40" y2="443.30" stroke="#111" stroke-width="1.4"/>
<rect x="349.60" y="446.60" width="13.60" height="43.40" fill="none" stroke="#9e0f27" stroke-width="0.6" opacity="0.7"/>
<rect x="364.00" y="424.50" width="14.00" height="65.50" fill="#0f5082"/>
<line x1="371.00" y1="411.70" x2="371.00" y2="424.50" stroke="#333" stroke-width="1.0"/>
<line x1="367.00" y1="411.60" x2="375.00" y2="411.60" stroke="#111" stroke-width="1.4"/>
<rect x="364.30" y="424.80" width="13.40" height="65.20" fill="none" stroke="#0a3d66" stroke-width="0.6" opacity="0.7"/>
<line x1="312.50" y1="494.30" x2="340.50" y2="494.30" stroke="#231f20" stroke-width="1.0"/>
<text x="324.65" y="506.10" font-size="10" text-anchor="middle" fill="#231f20" textLength="19.30" lengthAdjust="spacingAndGlyphs" stroke="#231f20" stroke-width="0.12">Sham</text>
<line x1="353.00" y1="494.30" x2="381.00" y2="494.30" stroke="#231f20" stroke-width="1.0"/>
<text x="366.00" y="506.10" font-size="10" text-anchor="middle" fill="#231f20" textLength="12.00" lengthAdjust="spacingAndGlyphs" stroke="#231f20" stroke-width="0.12">CLP</text>
<text x="283.00" y="443.70" font-size="9.7" text-anchor="middle" fill="#231f20" textLength="63.40" lengthAdjust="spacingAndGlyphs" transform="rotate(-90 283.00 443.70)" stroke="#231f20" stroke-width="0.12">CD44<tspan font-size='5.2' dy='-3'>high</tspan><tspan dy='3'> CD8+ (%)</tspan></text>
<path d="M311.30 376.00V371.50H377.50V376.00" fill="none" stroke="#333" stroke-width="1.1"/>
<path d="M311.30 394.00V389.50H346.30V394.00" fill="none" stroke="#333" stroke-width="1.1"/>
<path d="M354.30 394.00V389.50H377.50V394.00" fill="none" stroke="#333" stroke-width="1.1"/>
<text x="347.50" y="368.80" font-size="9.8" text-anchor="middle" fill="#231f20" textLength="8.00" lengthAdjust="spacingAndGlyphs" stroke="#231f20" stroke-width="0.12">ns</text>
<polygon points="325.55,379.20 326.16,380.66 327.74,380.79 326.53,381.82 326.90,383.36 325.55,382.54 324.20,383.36 324.57,381.82 323.36,380.79 324.94,380.66" fill="#231f20"/>
<polygon points="329.45,379.20 330.06,380.66 331.64,380.79 330.43,381.82 330.80,383.36 329.45,382.54 328.10,383.36 328.47,381.82 327.26,380.79 328.84,380.66" fill="#231f20"/>
<text x="365.40" y="385.60" font-size="9.8" text-anchor="middle" fill="#231f20" textLength="21.80" lengthAdjust="spacingAndGlyphs" stroke="#231f20" stroke-width="0.12">P=0.1</text>
<line x1="429.30" y1="396.30" x2="429.30" y2="490.00" stroke="#111" stroke-width="1.3"/>
<line x1="426.70" y1="489.40" x2="511.70" y2="489.40" stroke="#111" stroke-width="1.3"/>
<line x1="426.50" y1="396.80" x2="429.30" y2="396.80" stroke="#231f20" stroke-width="1.1"/>
<text x="425.90" y="399.00" font-size="9" text-anchor="end" fill="#231f20" textLength="8.80" lengthAdjust="spacingAndGlyphs" stroke="#231f20" stroke-width="0.12">40</text>
<line x1="426.50" y1="420.00" x2="429.30" y2="420.00" stroke="#231f20" stroke-width="1.1"/>
<text x="425.90" y="422.20" font-size="9" text-anchor="end" fill="#231f20" textLength="8.80" lengthAdjust="spacingAndGlyphs" stroke="#231f20" stroke-width="0.12">30</text>
<line x1="426.50" y1="443.00" x2="429.30" y2="443.00" stroke="#231f20" stroke-width="1.1"/>
<text x="425.90" y="445.20" font-size="9" text-anchor="end" fill="#231f20" textLength="8.80" lengthAdjust="spacingAndGlyphs" stroke="#231f20" stroke-width="0.12">20</text>
<line x1="426.50" y1="466.30" x2="429.30" y2="466.30" stroke="#231f20" stroke-width="1.1"/>
<text x="425.90" y="468.50" font-size="9" text-anchor="end" fill="#231f20" textLength="8.80" lengthAdjust="spacingAndGlyphs" stroke="#231f20" stroke-width="0.12">10</text>
<line x1="426.50" y1="489.30" x2="429.30" y2="489.30" stroke="#231f20" stroke-width="1.1"/>
<text x="425.90" y="491.50" font-size="9" text-anchor="end" fill="#231f20" textLength="4.40" lengthAdjust="spacingAndGlyphs" stroke="#231f20" stroke-width="0.12">0</text>
<rect x="438.00" y="428.00" width="14.50" height="61.40" fill="#c41230"/>
<line x1="445.25" y1="424.90" x2="445.25" y2="428.00" stroke="#333" stroke-width="1.0"/>
<line x1="441.25" y1="424.80" x2="449.25" y2="424.80" stroke="#111" stroke-width="1.4"/>
<rect x="438.30" y="428.30" width="13.90" height="61.10" fill="none" stroke="#9e0f27" stroke-width="0.6" opacity="0.7"/>
<rect x="454.50" y="425.50" width="14.50" height="63.90" fill="#0f5082"/>
<line x1="461.75" y1="422.90" x2="461.75" y2="425.50" stroke="#333" stroke-width="1.0"/>
<line x1="457.75" y1="422.80" x2="465.75" y2="422.80" stroke="#111" stroke-width="1.4"/>
<rect x="454.80" y="425.80" width="13.90" height="63.60" fill="none" stroke="#0a3d66" stroke-width="0.6" opacity="0.7"/>
<rect x="476.30" y="437.00" width="14.50" height="52.40" fill="#c41230"/>
<line x1="483.55" y1="433.70" x2="483.55" y2="437.00" stroke="#333" stroke-width="1.0"/>
<line x1="479.55" y1="433.60" x2="487.55" y2="433.60" stroke="#111" stroke-width="1.4"/>
<rect x="476.60" y="437.30" width="13.90" height="52.10" fill="none" stroke="#9e0f27" stroke-width="0.6" opacity="0.7"/>
<rect x="492.50" y="436.30" width="15.00" height="53.10" fill="#0f5082"/>
<line x1="500.00" y1="432.90" x2="500.00" y2="436.30" stroke="#333" stroke-width="1.0"/>
<line x1="496.00" y1="432.80" x2="504.00" y2="432.80" stroke="#111" stroke-width="1.4"/>
<rect x="492.80" y="436.60" width="14.40" height="52.80" fill="none" stroke="#0a3d66" stroke-width="0.6" opacity="0.7"/>
<line x1="435.50" y1="494.50" x2="463.30" y2="494.50" stroke="#231f20" stroke-width="1.0"/>
<text x="449.75" y="506.10" font-size="10" text-anchor="middle" fill="#231f20" textLength="19.50" lengthAdjust="spacingAndGlyphs" stroke="#231f20" stroke-width="0.12">Sham</text>
<line x1="475.50" y1="494.50" x2="503.80" y2="494.50" stroke="#231f20" stroke-width="1.0"/>
<text x="491.00" y="506.10" font-size="10" text-anchor="middle" fill="#231f20" textLength="12.00" lengthAdjust="spacingAndGlyphs" stroke="#231f20" stroke-width="0.12">CLP</text>
<text x="405.90" y="446.40" font-size="9.7" text-anchor="middle" fill="#231f20" textLength="69.10" lengthAdjust="spacingAndGlyphs" transform="rotate(-90 405.90 446.40)" stroke="#231f20" stroke-width="0.12">CD4+ in CD45+ (%)</text>
<path d="M444.50 375.80V371.30H502.50V375.80" fill="none" stroke="#333" stroke-width="1.1"/>
<path d="M444.50 394.00V389.50H483.30V394.00" fill="none" stroke="#333" stroke-width="1.1"/>
<path d="M486.30 394.00V389.50H502.50V394.00" fill="none" stroke="#333" stroke-width="1.1"/>
<text x="475.50" y="368.60" font-size="9.8" text-anchor="middle" fill="#231f20" textLength="8.00" lengthAdjust="spacingAndGlyphs" stroke="#231f20" stroke-width="0.12">ns</text>
<text x="463.30" y="386.80" font-size="9.8" text-anchor="middle" fill="#231f20" textLength="8.00" lengthAdjust="spacingAndGlyphs" stroke="#231f20" stroke-width="0.12">ns</text>
<text x="493.30" y="386.80" font-size="9.8" text-anchor="middle" fill="#231f20" textLength="8.00" lengthAdjust="spacingAndGlyphs" stroke="#231f20" stroke-width="0.12">ns</text>
<text x="8.50" y="527.80" font-size="12.6" text-anchor="start" font-weight="bold" fill="#231f20" textLength="7.60" lengthAdjust="spacingAndGlyphs" stroke="#231f20" stroke-width="0.35">E</text>
<text x="22.00" y="527.60" font-size="9.9" text-anchor="start" fill="#231f20" textLength="72.10" lengthAdjust="spacingAndGlyphs" stroke="#231f20" stroke-width="0.12">Peripheral Blood</text>
<line x1="45.20" y1="562.70" x2="45.20" y2="657.60" stroke="#111" stroke-width="1.3"/>
<line x1="42.60" y1="657.00" x2="131.00" y2="657.00" stroke="#111" stroke-width="1.3"/>
<line x1="42.40" y1="563.20" x2="45.20" y2="563.20" stroke="#231f20" stroke-width="1.1"/>
<text x="40.60" y="565.90" font-size="9" text-anchor="end" fill="#231f20" textLength="8.80" lengthAdjust="spacingAndGlyphs" stroke="#231f20" stroke-width="0.12">15</text>
<line x1="42.40" y1="594.30" x2="45.20" y2="594.30" stroke="#231f20" stroke-width="1.1"/>
<text x="40.60" y="597.00" font-size="9" text-anchor="end" fill="#231f20" textLength="8.80" lengthAdjust="spacingAndGlyphs" stroke="#231f20" stroke-width="0.12">10</text>
<line x1="42.40" y1="625.70" x2="45.20" y2="625.70" stroke="#231f20" stroke-width="1.1"/>
<text x="40.60" y="628.40" font-size="9" text-anchor="end" fill="#231f20" textLength="4.40" lengthAdjust="spacingAndGlyphs" stroke="#231f20" stroke-width="0.12">5</text>
<line x1="42.40" y1="656.80" x2="45.20" y2="656.80" stroke="#231f20" stroke-width="1.1"/>
<text x="40.60" y="659.50" font-size="9" text-anchor="end" fill="#231f20" textLength="4.40" lengthAdjust="spacingAndGlyphs" stroke="#231f20" stroke-width="0.12">0</text>
<rect x="54.00" y="605.40" width="14.30" height="51.60" fill="#c41230"/>
<line x1="61.15" y1="600.20" x2="61.15" y2="605.40" stroke="#333" stroke-width="1.0"/>
<line x1="57.15" y1="600.10" x2="65.15" y2="600.10" stroke="#111" stroke-width="1.4"/>
<rect x="54.30" y="605.70" width="13.70" height="51.30" fill="none" stroke="#9e0f27" stroke-width="0.6" opacity="0.7"/>
<rect x="71.00" y="599.80" width="14.30" height="57.20" fill="#0f5082"/>
<line x1="78.15" y1="595.00" x2="78.15" y2="599.80" stroke="#333" stroke-width="1.0"/>
<line x1="74.15" y1="594.90" x2="82.15" y2="594.90" stroke="#111" stroke-width="1.4"/>
<rect x="71.30" y="600.10" width="13.70" height="56.90" fill="none" stroke="#0a3d66" stroke-width="0.6" opacity="0.7"/>
<rect x="93.40" y="637.00" width="14.00" height="20.00" fill="#c41230"/>
<line x1="100.40" y1="633.40" x2="100.40" y2="637.00" stroke="#333" stroke-width="1.0"/>
<line x1="96.40" y1="633.30" x2="104.40" y2="633.30" stroke="#111" stroke-width="1.4"/>
<rect x="93.70" y="637.30" width="13.40" height="19.70" fill="none" stroke="#9e0f27" stroke-width="0.6" opacity="0.7"/>
<rect x="110.40" y="618.40" width="14.30" height="38.60" fill="#0f5082"/>
<line x1="117.55" y1="612.80" x2="117.55" y2="618.40" stroke="#333" stroke-width="1.0"/>
<line x1="113.55" y1="612.70" x2="121.55" y2="612.70" stroke="#111" stroke-width="1.4"/>
<rect x="110.70" y="618.70" width="13.70" height="38.30" fill="none" stroke="#0a3d66" stroke-width="0.6" opacity="0.7"/>
<line x1="53.20" y1="661.40" x2="81.60" y2="661.40" stroke="#231f20" stroke-width="1.0"/>
<text x="67.35" y="672.20" font-size="10" text-anchor="middle" fill="#231f20" textLength="19.30" lengthAdjust="spacingAndGlyphs" stroke="#231f20" stroke-width="0.12">Sham</text>
<line x1="94.10" y1="661.40" x2="122.20" y2="661.40" stroke="#231f20" stroke-width="1.0"/>
<text x="110.15" y="672.20" font-size="10" text-anchor="middle" fill="#231f20" textLength="13.10" lengthAdjust="spacingAndGlyphs" stroke="#231f20" stroke-width="0.12">CLP</text>
<text x="16.10" y="614.40" font-size="9.7" text-anchor="middle" fill="#231f20" textLength="69.10" lengthAdjust="spacingAndGlyphs" transform="rotate(-90 16.10 614.40)" stroke="#231f20" stroke-width="0.12">CD8+ in CD45+ (%)</text>
<path d="M56.50 547.10V542.60H121.00V547.10" fill="none" stroke="#333" stroke-width="1.1"/>
<path d="M56.50 565.20V560.70H99.60V565.20" fill="none" stroke="#333" stroke-width="1.1"/>
<path d="M102.10 565.20V560.70H118.40V565.20" fill="none" stroke="#333" stroke-width="1.1"/>
<text x="90.00" y="539.60" font-size="9.8" text-anchor="middle" fill="#231f20" textLength="6.80" lengthAdjust="spacingAndGlyphs" stroke="#231f20" stroke-width="0.12">ns</text>
<polygon points="74.90,551.90 75.51,553.36 77.09,553.49 75.88,554.52 76.25,556.06 74.90,555.24 73.55,556.06 73.92,554.52 72.71,553.49 74.29,553.36" fill="#231f20"/>
<polygon points="78.80,551.90 79.41,553.36 80.99,553.49 79.78,554.52 80.15,556.06 78.80,555.24 77.45,556.06 77.82,554.52 76.61,553.49 78.19,553.36" fill="#231f20"/>
<polygon points="82.70,551.90 83.31,553.36 84.89,553.49 83.68,554.52 84.05,556.06 82.70,555.24 81.35,556.06 81.72,554.52 80.51,553.49 82.09,553.36" fill="#231f20"/>
<polygon points="109.70,551.90 110.31,553.36 111.89,553.49 110.68,554.52 111.05,556.06 109.70,555.24 108.35,556.06 108.72,554.52 107.51,553.49 109.09,553.36" fill="#231f20"/>
<line x1="170.00" y1="562.20" x2="170.00" y2="656.80" stroke="#111" stroke-width="1.3"/>
<line x1="167.40" y1="656.20" x2="255.80" y2="656.20" stroke="#111" stroke-width="1.3"/>
<line x1="167.20" y1="562.70" x2="170.00" y2="562.70" stroke="#231f20" stroke-width="1.1"/>
<text x="165.90" y="565.10" font-size="9" text-anchor="end" fill="#231f20" textLength="11.30" lengthAdjust="spacingAndGlyphs" stroke="#231f20" stroke-width="0.12">0.6</text>
<line x1="167.20" y1="594.10" x2="170.00" y2="594.10" stroke="#231f20" stroke-width="1.1"/>
<text x="165.90" y="596.50" font-size="9" text-anchor="end" fill="#231f20" textLength="11.30" lengthAdjust="spacingAndGlyphs" stroke="#231f20" stroke-width="0.12">0.4</text>
<line x1="167.20" y1="625.20" x2="170.00" y2="625.20" stroke="#231f20" stroke-width="1.1"/>
<text x="165.90" y="627.60" font-size="9" text-anchor="end" fill="#231f20" textLength="11.30" lengthAdjust="spacingAndGlyphs" stroke="#231f20" stroke-width="0.12">0.2</text>
<line x1="167.20" y1="656.00" x2="170.00" y2="656.00" stroke="#231f20" stroke-width="1.1"/>
<text x="165.90" y="658.40" font-size="9" text-anchor="end" fill="#231f20" textLength="11.30" lengthAdjust="spacingAndGlyphs" stroke="#231f20" stroke-width="0.12">0.0</text>
<rect x="178.20" y="595.80" width="14.50" height="60.40" fill="#c41230"/>
<line x1="185.45" y1="581.90" x2="185.45" y2="595.80" stroke="#333" stroke-width="1.0"/>
<line x1="181.45" y1="581.80" x2="189.45" y2="581.80" stroke="#111" stroke-width="1.4"/>
<rect x="178.50" y="596.10" width="13.90" height="60.10" fill="none" stroke="#9e0f27" stroke-width="0.6" opacity="0.7"/>
<rect x="195.20" y="600.30" width="14.60" height="55.90" fill="#0f5082"/>
<line x1="202.50" y1="589.70" x2="202.50" y2="600.30" stroke="#333" stroke-width="1.0"/>
<line x1="198.50" y1="589.60" x2="206.50" y2="589.60" stroke="#111" stroke-width="1.4"/>
<rect x="195.50" y="600.60" width="14.00" height="55.60" fill="none" stroke="#0a3d66" stroke-width="0.6" opacity="0.7"/>
<rect x="217.30" y="631.50" width="14.30" height="24.70" fill="#c41230"/>
<line x1="224.45" y1="623.80" x2="224.45" y2="631.50" stroke="#333" stroke-width="1.0"/>
<line x1="220.45" y1="623.70" x2="228.45" y2="623.70" stroke="#111" stroke-width="1.4"/>
<rect x="217.60" y="631.80" width="13.70" height="24.40" fill="none" stroke="#9e0f27" stroke-width="0.6" opacity="0.7"/>
<rect x="234.10" y="614.90" width="14.30" height="41.30" fill="#0f5082"/>
<line x1="241.25" y1="606.50" x2="241.25" y2="614.90" stroke="#333" stroke-width="1.0"/>
<line x1="237.25" y1="606.40" x2="245.25" y2="606.40" stroke="#111" stroke-width="1.4"/>
<rect x="234.40" y="615.20" width="13.70" height="41.00" fill="none" stroke="#0a3d66" stroke-width="0.6" opacity="0.7"/>
<line x1="177.70" y1="661.40" x2="205.80" y2="661.40" stroke="#231f20" stroke-width="1.0"/>
<text x="191.50" y="672.20" font-size="10" text-anchor="middle" fill="#231f20" textLength="19.00" lengthAdjust="spacingAndGlyphs" stroke="#231f20" stroke-width="0.12">Sham</text>
<line x1="217.80" y1="661.40" x2="245.90" y2="661.40" stroke="#231f20" stroke-width="1.0"/>
<text x="233.15" y="672.20" font-size="10" text-anchor="middle" fill="#231f20" textLength="13.10" lengthAdjust="spacingAndGlyphs" stroke="#231f20" stroke-width="0.12">CLP</text>
<text x="143.40" y="606.70" font-size="9.7" text-anchor="middle" fill="#231f20" textLength="43.40" lengthAdjust="spacingAndGlyphs" transform="rotate(-90 143.40 606.70)" stroke="#231f20" stroke-width="0.12">CD8+ (X10<tspan font-size='5.5' dy='-3.2'>6</tspan><tspan dy='3.2'>)</tspan></text>
<path d="M179.70 547.10V542.60H244.70V547.10" fill="none" stroke="#333" stroke-width="1.1"/>
<path d="M179.70 565.20V560.70H224.40V565.20" fill="none" stroke="#333" stroke-width="1.1"/>
<path d="M226.60 565.20V560.70H242.90V565.20" fill="none" stroke="#333" stroke-width="1.1"/>
<text x="212.80" y="539.60" font-size="9.8" text-anchor="middle" fill="#231f20" textLength="8.00" lengthAdjust="spacingAndGlyphs" stroke="#231f20" stroke-width="0.12">ns</text>
<polygon points="205.30,551.90 205.91,553.36 207.49,553.49 206.28,554.52 206.65,556.06 205.30,555.24 203.95,556.06 204.32,554.52 203.11,553.49 204.69,553.36" fill="#231f20"/>
<text x="245.55" y="558.20" font-size="9.8" text-anchor="middle" fill="#231f20" textLength="26.30" lengthAdjust="spacingAndGlyphs" stroke="#231f20" stroke-width="0.12">P=0.06</text>
<line x1="302.30" y1="564.00" x2="302.30" y2="656.70" stroke="#111" stroke-width="1.3"/>
<line x1="299.70" y1="656.10" x2="386.40" y2="656.10" stroke="#111" stroke-width="1.3"/>
<line x1="299.50" y1="564.50" x2="302.30" y2="564.50" stroke="#231f20" stroke-width="1.1"/>
<text x="299.10" y="568.20" font-size="9" text-anchor="end" fill="#231f20" textLength="8.80" lengthAdjust="spacingAndGlyphs" stroke="#231f20" stroke-width="0.12">20</text>
<line x1="299.50" y1="587.30" x2="302.30" y2="587.30" stroke="#231f20" stroke-width="1.1"/>
<text x="299.10" y="591.00" font-size="9" text-anchor="end" fill="#231f20" textLength="8.80" lengthAdjust="spacingAndGlyphs" stroke="#231f20" stroke-width="0.12">15</text>
<line x1="299.50" y1="610.10" x2="302.30" y2="610.10" stroke="#231f20" stroke-width="1.1"/>
<text x="299.10" y="613.80" font-size="9" text-anchor="end" fill="#231f20" textLength="8.80" lengthAdjust="spacingAndGlyphs" stroke="#231f20" stroke-width="0.12">10</text>
<line x1="299.50" y1="633.00" x2="302.30" y2="633.00" stroke="#231f20" stroke-width="1.1"/>
<text x="299.10" y="636.70" font-size="9" text-anchor="end" fill="#231f20" textLength="4.40" lengthAdjust="spacingAndGlyphs" stroke="#231f20" stroke-width="0.12">5</text>
<line x1="299.50" y1="655.50" x2="302.30" y2="655.50" stroke="#231f20" stroke-width="1.1"/>
<text x="299.10" y="659.20" font-size="9" text-anchor="end" fill="#231f20" textLength="4.40" lengthAdjust="spacingAndGlyphs" stroke="#231f20" stroke-width="0.12">0</text>
<rect x="311.00" y="592.30" width="14.20" height="63.80" fill="#c41230"/>
<line x1="318.10" y1="585.70" x2="318.10" y2="592.30" stroke="#333" stroke-width="1.0"/>
<line x1="314.10" y1="585.60" x2="322.10" y2="585.60" stroke="#111" stroke-width="1.4"/>
<rect x="311.30" y="592.60" width="13.60" height="63.50" fill="none" stroke="#9e0f27" stroke-width="0.6" opacity="0.7"/>
<rect x="327.30" y="609.10" width="14.30" height="47.00" fill="#0f5082"/>
<line x1="334.45" y1="605.00" x2="334.45" y2="609.10" stroke="#333" stroke-width="1.0"/>
<line x1="330.45" y1="604.90" x2="338.45" y2="604.90" stroke="#111" stroke-width="1.4"/>
<rect x="327.60" y="609.40" width="13.70" height="46.70" fill="none" stroke="#0a3d66" stroke-width="0.6" opacity="0.7"/>
<rect x="349.10" y="621.90" width="13.80" height="34.20" fill="#c41230"/>
<line x1="356.00" y1="616.30" x2="356.00" y2="621.90" stroke="#333" stroke-width="1.0"/>
<line x1="352.00" y1="616.20" x2="360.00" y2="616.20" stroke="#111" stroke-width="1.4"/>
<rect x="349.40" y="622.20" width="13.20" height="33.90" fill="none" stroke="#9e0f27" stroke-width="0.6" opacity="0.7"/>
<rect x="364.90" y="614.60" width="14.30" height="41.50" fill="#0f5082"/>
<line x1="372.05" y1="609.00" x2="372.05" y2="614.60" stroke="#333" stroke-width="1.0"/>
<line x1="368.05" y1="608.90" x2="376.05" y2="608.90" stroke="#111" stroke-width="1.4"/>
<rect x="365.20" y="614.90" width="13.70" height="41.20" fill="none" stroke="#0a3d66" stroke-width="0.6" opacity="0.7"/>
<line x1="312.00" y1="661.40" x2="339.80" y2="661.40" stroke="#231f20" stroke-width="1.0"/>
<text x="323.15" y="672.20" font-size="10" text-anchor="middle" fill="#231f20" textLength="19.30" lengthAdjust="spacingAndGlyphs" stroke="#231f20" stroke-width="0.12">Sham</text>
<line x1="351.60" y1="661.40" x2="379.70" y2="661.40" stroke="#231f20" stroke-width="1.0"/>
<text x="364.75" y="672.20" font-size="10" text-anchor="middle" fill="#231f20" textLength="12.30" lengthAdjust="spacingAndGlyphs" stroke="#231f20" stroke-width="0.12">CLP</text>
<text x="279.50" y="607.40" font-size="9.7" text-anchor="middle" fill="#231f20" textLength="69.90" lengthAdjust="spacingAndGlyphs" transform="rotate(-90 279.50 607.40)" stroke="#231f20" stroke-width="0.12">CD4+ in CD45+ (%)</text>
<path d="M311.40 547.50V543.00H377.20V547.50" fill="none" stroke="#333" stroke-width="1.1"/>
<path d="M311.40 565.20V560.70H355.40V565.20" fill="none" stroke="#333" stroke-width="1.1"/>
<path d="M358.40 565.20V560.70H375.90V565.20" fill="none" stroke="#333" stroke-width="1.1"/>
<polygon points="342.30,535.70 342.91,537.16 344.49,537.29 343.28,538.32 343.65,539.86 342.30,539.03 340.95,539.86 341.32,538.32 340.11,537.29 341.69,537.16" fill="#231f20"/>
<polygon points="328.90,551.90 329.51,553.36 331.09,553.49 329.88,554.52 330.25,556.06 328.90,555.24 327.55,556.06 327.92,554.52 326.71,553.49 328.29,553.36" fill="#231f20"/>
<polygon points="332.80,551.90 333.41,553.36 334.99,553.49 333.78,554.52 334.15,556.06 332.80,555.24 331.45,556.06 331.82,554.52 330.61,553.49 332.19,553.36" fill="#231f20"/>
<polygon points="336.70,551.90 337.31,553.36 338.89,553.49 337.68,554.52 338.05,556.06 336.70,555.24 335.35,556.06 335.72,554.52 334.51,553.49 336.09,553.36" fill="#231f20"/>
<text x="366.20" y="558.40" font-size="9.8" text-anchor="middle" fill="#231f20" textLength="7.80" lengthAdjust="spacingAndGlyphs" stroke="#231f20" stroke-width="0.12">ns</text>
<rect x="0.5" y="0.5" width="519" height="680" fill="none" stroke="#000" stroke-width="1"/>
<rect x="1.5" y="1.5" width="517" height="678" fill="none" stroke="#7a7a7a" stroke-width="1"/>
</svg></body></html>
